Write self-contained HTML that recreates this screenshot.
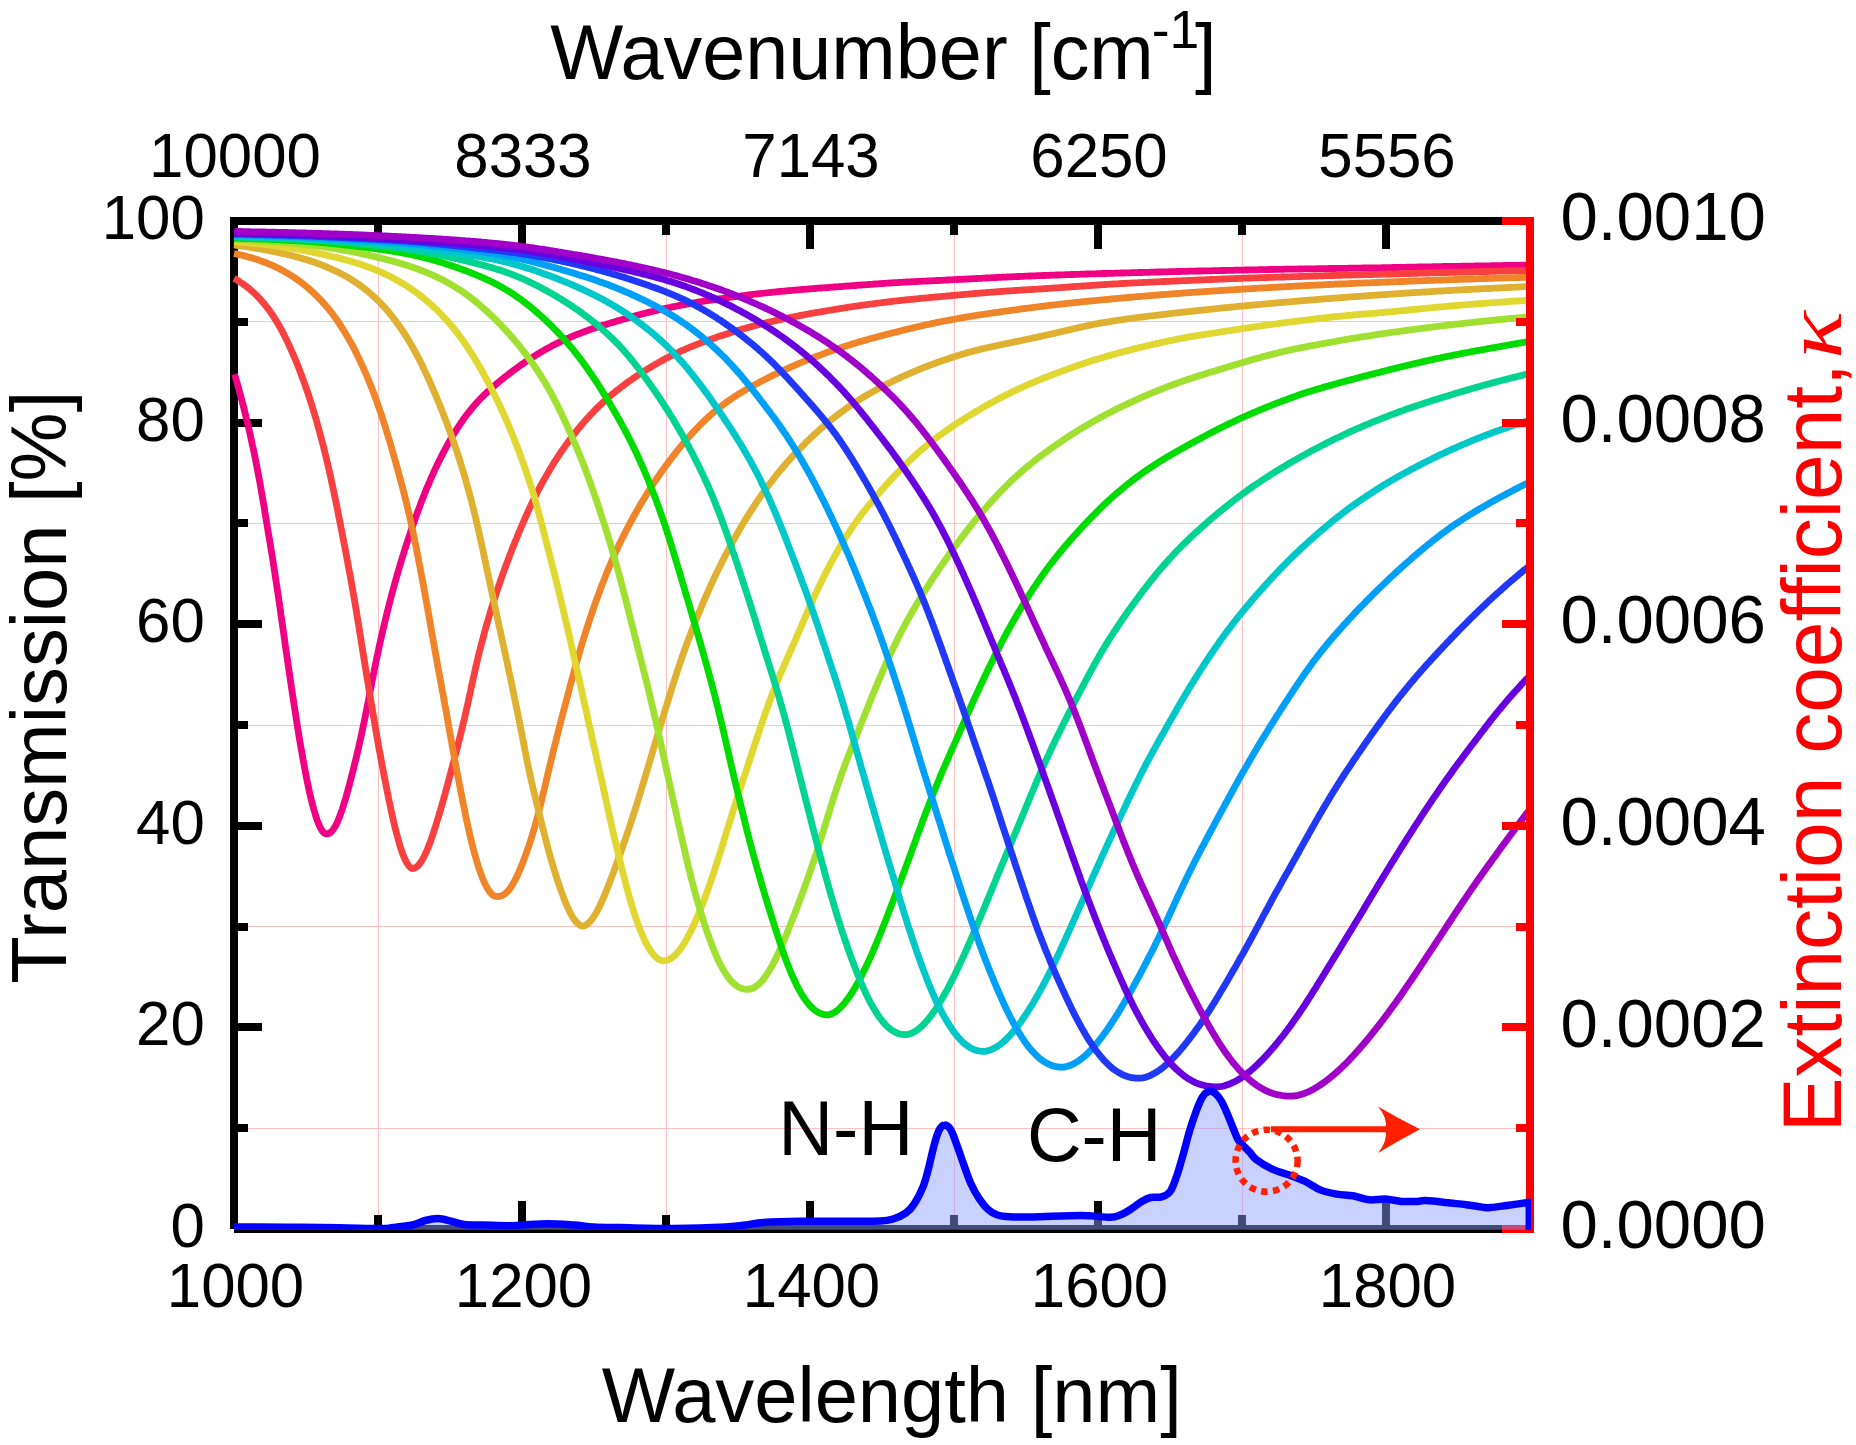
<!DOCTYPE html><html><head><meta charset="utf-8"><style>html,body{margin:0;padding:0;background:#fff;}svg{display:block;}</style></head><body>
<svg xmlns="http://www.w3.org/2000/svg" width="1856" height="1445" viewBox="0 0 1856 1445" font-family="Liberation Sans, Arial, sans-serif">
<rect width="1856" height="1445" fill="#fff"/>
<path d="M378.0,225 V1225 M666.0,225 V1225 M954.0,225 V1225 M1242.0,225 V1225 M238,1128.2 H1526 M238,926.6 H1526 M238,725.0 H1526 M238,523.4 H1526 M238,321.8 H1526" stroke="#ffc0c0" stroke-width="1" fill="none" shape-rendering="crispEdges"/>
<path d="M234,217 V1229 M234,221 H1530 M234,1229 H1530" stroke="#000" stroke-width="8" fill="none" shape-rendering="crispEdges"/>
<path d="M378.0,1229 V1215 M378.0,221 V235 M522.0,1229 V1201 M522.0,221 V249 M666.0,1229 V1215 M666.0,221 V235 M810.0,1229 V1201 M810.0,221 V249 M954.0,1229 V1215 M954.0,221 V235 M1098.0,1229 V1201 M1098.0,221 V249 M1242.0,1229 V1215 M1242.0,221 V235 M1386.0,1229 V1201 M1386.0,221 V249 M234,1128.2 H248 M234,1027.4 H262 M234,926.6 H248 M234,825.8 H262 M234,725.0 H248 M234,624.2 H262 M234,523.4 H248 M234,422.6 H262 M234,321.8 H248" stroke="#000" stroke-width="8" fill="none" shape-rendering="crispEdges"/>
<polyline points="234.5,374.3 235.0,375.9 235.5,377.5 236.0,379.2 236.5,380.9 237.0,382.5 237.5,384.2 237.9,386.0 238.4,387.7 238.9,389.5 239.4,391.3 239.9,393.1 240.4,394.9 240.9,396.8 241.4,398.7 241.9,400.5 242.4,402.5 242.9,404.4 243.4,406.4 243.9,408.3 244.4,410.4 244.9,412.4 245.4,414.4 245.9,416.5 246.4,418.6 246.9,420.7 247.4,422.8 247.9,425.0 248.5,427.2 249.0,429.4 249.5,431.6 250.0,433.9 250.5,436.2 251.0,438.5 251.5,440.8 252.0,443.1 252.5,445.5 253.1,447.9 253.6,450.3 254.1,452.7 254.6,455.2 255.1,457.7 255.6,460.2 256.1,462.7 256.6,465.3 257.1,467.9 257.6,470.5 258.1,473.1 258.6,475.8 259.1,478.4 259.6,481.1 260.1,483.8 260.6,486.6 261.1,489.4 261.5,492.1 262.0,494.9 262.5,497.8 263.0,500.6 263.5,503.5 264.0,506.4 264.5,509.3 264.9,512.3 265.4,515.2 265.9,518.2 266.4,521.2 266.9,524.2 267.4,527.2 267.9,530.3 268.4,533.4 269.0,536.5 269.5,539.6 270.0,542.7 270.5,545.8 271.0,549.0 271.5,552.2 272.1,555.4 272.6,558.6 273.1,561.8 273.6,565.0 274.1,568.3 274.6,571.6 275.1,574.9 275.6,578.2 276.1,581.5 276.6,584.8 277.1,588.1 277.6,591.5 278.1,594.8 278.6,598.2 279.1,601.6 279.6,605.0 280.1,608.4 280.6,611.8 281.0,615.2 281.5,618.6 282.0,622.0 282.5,625.4 283.0,628.9 283.5,632.3 284.0,635.7 284.5,639.2 284.9,642.6 285.4,646.0 285.9,649.5 286.4,652.9 286.9,656.3 287.4,659.7 287.9,663.2 288.4,666.6 288.9,670.0 289.4,673.4 289.9,676.8 290.4,680.2 290.9,683.5 291.4,686.9 291.9,690.3 292.4,693.6 292.9,696.9 293.4,700.2 293.9,703.5 294.4,706.8 294.9,710.1 295.4,713.3 295.9,716.5 296.4,719.7 296.9,722.9 297.4,726.1 297.9,729.2 298.4,732.3 298.9,735.4 299.4,738.5 299.9,741.5 300.4,744.5 300.9,747.4 301.5,750.4 302.0,753.3 302.5,756.1 303.0,759.0 303.5,761.8 304.0,764.5 304.5,767.3 305.0,769.9 305.5,772.6 306.0,775.2 306.5,777.8 307.0,780.3 307.5,782.7 308.0,785.2 308.5,787.6 309.0,789.9 309.5,792.2 310.0,794.4 310.5,796.6 311.0,798.7 311.5,800.8 312.0,802.8 312.5,804.8 313.1,806.7 313.6,808.6 314.1,810.4 314.6,812.1 315.1,813.8 315.6,815.4 316.1,817.0 316.6,818.5 317.1,819.9 318.1,822.6 319.1,825.0 320.1,827.2 321.1,829.0 322.1,830.6 323.1,831.9 324.6,833.3 326.0,833.9 328.0,833.8 329.4,833.1 330.9,832.1 332.4,830.5 333.4,829.2 334.4,827.7 335.4,826.0 336.4,824.2 337.4,822.1 338.3,819.8 339.3,817.4 340.3,814.8 341.3,812.0 341.8,810.5 342.3,809.1 342.8,807.5 343.3,805.9 343.8,804.3 344.3,802.7 344.9,801.0 345.4,799.3 345.9,797.5 346.4,795.8 346.9,793.9 347.4,792.1 347.9,790.2 348.4,788.3 348.9,786.4 349.5,784.4 350.0,782.4 350.5,780.4 351.0,778.4 351.6,776.3 352.1,774.3 352.6,772.2 353.2,770.0 353.7,767.9 354.2,765.7 354.8,763.5 355.3,761.3 355.8,759.1 356.4,756.9 356.9,754.7 357.4,752.4 358.0,750.1 358.5,747.8 359.0,745.5 359.5,743.2 360.1,740.9 360.6,738.6 361.1,736.2 361.6,733.9 362.1,731.5 362.6,729.2 363.1,726.8 363.6,724.4 364.1,722.1 364.6,719.7 365.1,717.3 365.5,714.9 366.0,712.5 366.5,710.1 367.0,707.7 367.4,705.3 367.9,702.9 368.4,700.6 368.8,698.2 369.3,695.8 369.7,693.4 370.2,691.0 370.7,688.6 371.1,686.3 371.6,683.9 372.0,681.5 372.5,679.2 373.0,676.8 373.4,674.5 373.9,672.1 374.3,669.8 374.8,667.5 375.3,665.2 375.8,662.8 376.2,660.5 376.7,658.3 377.2,656.0 377.7,653.7 378.2,651.4 378.7,649.2 379.1,646.9 379.6,644.7 380.1,642.5 380.6,640.3 381.1,638.1 381.6,635.9 382.1,633.7 382.6,631.5 383.1,629.4 383.6,627.2 384.1,625.1 384.6,623.0 385.1,620.9 385.6,618.8 386.1,616.7 386.6,614.6 387.1,612.6 387.7,610.5 388.2,608.5 388.7,606.4 389.2,604.4 389.7,602.4 390.2,600.4 390.7,598.5 391.2,596.5 391.7,594.6 392.3,592.6 392.8,590.7 393.3,588.8 393.8,586.9 394.3,585.0 394.8,583.1 395.4,581.3 395.9,579.4 396.4,577.6 396.9,575.8 397.4,574.0 398.0,572.2 398.5,570.4 399.0,568.6 399.5,566.8 400.0,565.1 400.6,563.4 401.1,561.6 401.6,559.9 402.1,558.2 402.6,556.5 403.2,554.9 403.7,553.2 404.2,551.6 404.7,549.9 405.2,548.3 405.8,546.7 406.3,545.1 406.8,543.5 407.3,541.9 407.8,540.3 408.3,538.8 408.8,537.2 409.3,535.7 409.9,534.2 410.4,532.6 410.9,531.1 411.4,529.7 411.9,528.2 412.4,526.7 412.9,525.2 413.4,523.8 413.9,522.4 414.4,520.9 414.9,519.5 415.9,516.7 416.9,513.9 417.9,511.2 418.9,508.5 419.9,505.9 420.8,503.3 421.8,500.7 422.8,498.2 423.8,495.7 424.8,493.2 425.7,490.8 426.7,488.4 427.7,486.1 428.7,483.8 429.7,481.5 430.6,479.2 431.6,477.0 432.6,474.8 433.6,472.7 434.5,470.5 435.5,468.4 436.5,466.4 437.4,464.3 438.4,462.3 439.4,460.4 440.4,458.4 441.3,456.5 442.3,454.6 443.3,452.7 444.2,450.9 445.2,449.1 446.2,447.3 447.1,445.5 448.1,443.7 449.1,442.0 450.0,440.3 451.0,438.7 452.0,437.0 452.9,435.4 453.9,433.8 454.9,432.2 455.9,430.6 456.8,429.1 457.8,427.6 458.8,426.1 459.8,424.6 460.8,423.1 461.8,421.7 462.7,420.3 463.7,418.9 464.7,417.5 465.7,416.2 466.7,414.8 467.7,413.5 468.7,412.2 469.7,411.0 470.8,409.7 471.8,408.5 472.8,407.3 473.8,406.1 474.8,404.9 475.9,403.7 476.9,402.6 477.9,401.4 479.0,400.3 480.0,399.2 481.6,397.6 483.1,396.1 484.7,394.5 486.3,393.0 487.8,391.5 489.4,390.1 491.0,388.7 492.5,387.3 494.1,386.0 495.7,384.6 497.2,383.3 498.8,382.0 500.3,380.7 501.8,379.5 503.4,378.3 504.9,377.0 506.4,375.8 508.0,374.7 509.5,373.5 511.0,372.3 512.5,371.2 514.0,370.1 515.5,369.0 517.0,367.9 518.5,366.8 520.0,365.7 521.5,364.7 523.0,363.7 524.5,362.6 525.9,361.6 527.4,360.6 528.9,359.6 530.4,358.7 531.9,357.7 533.4,356.8 534.8,355.8 536.3,354.9 537.8,354.0 539.3,353.1 540.8,352.2 542.2,351.3 543.7,350.5 545.2,349.6 546.7,348.8 548.2,348.0 549.7,347.2 551.1,346.4 552.6,345.6 554.1,344.8 555.6,344.1 557.1,343.3 558.6,342.6 560.1,341.9 561.6,341.1 563.1,340.4 564.6,339.8 566.1,339.1 567.6,338.4 569.1,337.8 570.6,337.1 572.1,336.5 573.6,335.9 575.1,335.2 576.6,334.6 578.1,334.0 579.6,333.5 581.1,332.9 582.6,332.3 584.1,331.8 585.6,331.2 587.1,330.7 588.6,330.1 590.1,329.6 591.6,329.1 593.1,328.6 594.6,328.1 596.1,327.6 597.6,327.1 599.1,326.6 600.6,326.1 602.1,325.6 603.6,325.1 605.1,324.7 606.6,324.2 608.1,323.7 609.6,323.3 611.1,322.8 612.6,322.4 614.1,321.9 615.6,321.5 617.1,321.0 618.6,320.6 620.1,320.2 621.6,319.7 623.1,319.3 624.6,318.9 626.1,318.4 627.6,318.0 629.1,317.6 630.6,317.2 632.1,316.7 633.6,316.3 635.1,315.9 636.5,315.5 638.0,315.1 639.5,314.7 641.0,314.3 642.5,313.9 644.0,313.5 645.5,313.2 647.0,312.8 648.5,312.4 650.0,312.0 651.5,311.7 653.0,311.3 654.5,310.9 656.0,310.6 657.5,310.2 658.9,309.9 660.4,309.5 661.9,309.2 663.4,308.9 664.9,308.5 666.4,308.2 667.9,307.9 669.4,307.6 670.9,307.3 672.4,306.9 673.9,306.6 675.4,306.3 676.9,306.0 678.4,305.7 679.9,305.4 681.4,305.2 682.9,304.9 684.4,304.6 685.9,304.3 687.4,304.0 688.9,303.8 690.4,303.5 691.9,303.2 693.4,303.0 694.9,302.7 696.4,302.5 697.9,302.2 699.4,301.9 700.9,301.7 702.4,301.5 703.9,301.2 705.4,301.0 706.9,300.7 708.4,300.5 709.9,300.3 711.4,300.0 712.9,299.8 714.4,299.6 715.9,299.4 717.4,299.1 718.9,298.9 720.4,298.7 721.9,298.5 723.4,298.3 724.9,298.1 726.4,297.9 727.9,297.7 729.4,297.4 730.9,297.2 732.4,297.0 733.9,296.8 735.4,296.6 736.9,296.4 738.4,296.3 739.9,296.1 741.4,295.9 742.9,295.7 744.4,295.5 745.9,295.3 747.4,295.1 748.9,294.9 750.4,294.7 751.9,294.6 753.4,294.4 754.9,294.2 756.4,294.0 757.9,293.9 759.4,293.7 760.9,293.5 762.4,293.3 763.9,293.2 765.4,293.0 766.9,292.8 768.4,292.7 770.0,292.5 771.5,292.4 773.0,292.2 774.5,292.1 776.0,291.9 777.5,291.7 779.0,291.6 780.5,291.4 782.0,291.3 783.5,291.2 785.0,291.0 786.5,290.9 788.0,290.7 789.5,290.6 791.0,290.5 792.5,290.3 794.0,290.2 795.5,290.1 797.0,289.9 798.5,289.8 800.0,289.7 801.5,289.5 803.0,289.4 804.5,289.3 806.0,289.2 807.5,289.1 809.0,288.9 810.5,288.8 812.0,288.7 813.5,288.6 815.0,288.5 816.5,288.4 818.0,288.2 819.5,288.1 821.0,288.0 822.5,287.9 824.0,287.8 825.5,287.7 827.0,287.6 828.5,287.5 830.0,287.3 831.5,287.2 833.0,287.1 834.5,287.0 836.0,286.9 837.5,286.8 839.0,286.7 840.5,286.6 842.0,286.5 843.5,286.3 845.0,286.2 846.5,286.1 848.0,286.0 849.5,285.9 851.0,285.8 852.5,285.7 854.0,285.6 855.5,285.5 857.0,285.4 858.5,285.2 860.0,285.1 861.5,285.0 863.0,284.9 864.5,284.8 866.0,284.7 867.5,284.6 869.0,284.5 870.5,284.4 872.0,284.3 873.5,284.1 875.0,284.0 876.5,283.9 878.0,283.8 879.5,283.7 881.0,283.6 882.5,283.5 884.0,283.4 885.5,283.3 887.0,283.2 888.5,283.1 890.0,283.0 891.5,282.9 893.0,282.8 894.5,282.7 896.0,282.6 897.5,282.6 899.0,282.5 900.5,282.4 902.0,282.3 903.5,282.2 905.0,282.1 906.5,282.0 908.0,282.0 909.5,281.9 911.0,281.8 912.5,281.7 914.0,281.7 915.5,281.6 917.0,281.5 918.5,281.4 920.0,281.4 921.5,281.3 923.0,281.2 924.5,281.1 926.0,281.1 927.5,281.0 929.0,280.9 930.5,280.8 932.0,280.8 933.5,280.7 935.0,280.6 936.5,280.5 938.0,280.5 939.5,280.4 941.0,280.3 942.5,280.3 944.0,280.2 945.5,280.1 947.0,280.0 948.5,280.0 950.0,279.9 951.5,279.8 953.0,279.7 954.5,279.7 956.0,279.6 957.5,279.5 959.0,279.4 960.5,279.4 962.0,279.3 963.5,279.2 965.0,279.1 966.5,279.1 968.0,279.0 969.5,278.9 971.0,278.8 972.5,278.7 974.0,278.7 975.5,278.6 977.0,278.5 978.5,278.4 980.0,278.4 981.5,278.3 983.0,278.2 984.5,278.1 986.0,278.0 987.5,278.0 989.0,277.9 990.5,277.8 992.0,277.7 993.5,277.7 995.0,277.6 996.5,277.5 998.0,277.4 999.5,277.4 1001.0,277.3 1002.5,277.2 1004.0,277.1 1005.5,277.1 1007.0,277.0 1008.5,276.9 1010.0,276.8 1011.5,276.8 1013.0,276.7 1014.5,276.6 1016.0,276.6 1017.5,276.5 1019.0,276.5 1020.5,276.4 1022.0,276.3 1023.5,276.3 1025.0,276.2 1026.5,276.1 1028.0,276.1 1029.5,276.0 1031.0,276.0 1032.5,275.9 1034.0,275.8 1035.5,275.8 1037.0,275.7 1038.5,275.7 1040.0,275.6 1041.5,275.6 1043.0,275.5 1044.5,275.5 1046.0,275.4 1047.5,275.3 1049.0,275.3 1050.5,275.2 1052.0,275.2 1053.5,275.1 1055.0,275.1 1056.5,275.0 1058.0,275.0 1059.5,274.9 1061.0,274.9 1062.5,274.8 1064.0,274.8 1065.5,274.7 1067.0,274.7 1068.5,274.6 1070.0,274.6 1071.5,274.5 1073.0,274.5 1074.5,274.4 1076.0,274.4 1077.5,274.3 1079.0,274.3 1080.5,274.2 1082.0,274.2 1083.5,274.1 1085.0,274.1 1086.5,274.0 1088.0,274.0 1089.5,273.9 1091.0,273.9 1092.5,273.9 1094.0,273.8 1095.5,273.8 1097.0,273.7 1098.5,273.7 1100.0,273.6 1101.5,273.6 1103.0,273.5 1104.5,273.5 1106.0,273.5 1107.5,273.4 1109.0,273.4 1110.5,273.3 1112.0,273.3 1113.5,273.3 1115.0,273.2 1116.5,273.2 1118.0,273.1 1119.5,273.1 1121.0,273.0 1122.5,273.0 1124.0,273.0 1125.5,272.9 1127.0,272.9 1128.5,272.8 1130.0,272.8 1131.5,272.7 1133.0,272.7 1134.5,272.7 1136.0,272.6 1137.5,272.6 1139.0,272.5 1140.5,272.5 1142.0,272.5 1143.5,272.4 1145.0,272.4 1146.5,272.3 1148.0,272.3 1149.5,272.3 1151.0,272.2 1152.5,272.2 1154.0,272.1 1155.5,272.1 1157.0,272.0 1158.5,272.0 1160.0,272.0 1161.5,271.9 1163.0,271.9 1164.5,271.8 1166.0,271.8 1167.5,271.8 1169.0,271.7 1170.5,271.7 1172.0,271.6 1173.5,271.6 1175.0,271.6 1176.5,271.5 1178.0,271.5 1179.5,271.5 1181.0,271.4 1182.5,271.4 1184.0,271.4 1185.5,271.3 1187.0,271.3 1188.5,271.2 1190.0,271.2 1191.5,271.2 1193.0,271.1 1194.5,271.1 1196.0,271.1 1197.5,271.0 1199.0,271.0 1200.5,271.0 1202.0,270.9 1203.5,270.9 1205.0,270.9 1206.5,270.8 1208.0,270.8 1209.5,270.8 1211.0,270.8 1212.5,270.7 1214.0,270.7 1215.5,270.7 1217.0,270.6 1218.5,270.6 1220.0,270.6 1221.5,270.5 1223.0,270.5 1224.5,270.5 1226.0,270.4 1227.5,270.4 1229.0,270.4 1230.5,270.3 1232.0,270.3 1233.5,270.3 1235.0,270.2 1236.5,270.2 1238.0,270.2 1239.5,270.2 1241.0,270.1 1242.5,270.1 1244.0,270.1 1245.5,270.0 1247.0,270.0 1248.5,270.0 1250.0,269.9 1251.5,269.9 1253.0,269.9 1254.5,269.8 1256.0,269.8 1257.5,269.8 1259.0,269.7 1260.5,269.7 1262.0,269.7 1263.5,269.6 1265.0,269.6 1266.5,269.6 1268.0,269.6 1269.5,269.5 1271.0,269.5 1272.5,269.5 1274.0,269.4 1275.5,269.4 1277.0,269.4 1278.5,269.4 1280.0,269.3 1281.5,269.3 1283.0,269.3 1284.5,269.2 1286.0,269.2 1287.5,269.2 1289.0,269.2 1290.5,269.1 1292.0,269.1 1293.5,269.1 1295.0,269.1 1296.5,269.1 1298.0,269.0 1299.5,269.0 1301.0,269.0 1302.5,269.0 1304.0,268.9 1305.5,268.9 1307.0,268.9 1308.5,268.9 1310.0,268.8 1311.5,268.8 1313.0,268.8 1314.5,268.8 1316.0,268.8 1317.5,268.7 1319.0,268.7 1320.5,268.7 1322.0,268.7 1323.5,268.6 1325.0,268.6 1326.5,268.6 1328.0,268.6 1329.5,268.5 1331.0,268.5 1332.5,268.5 1334.0,268.5 1335.5,268.5 1337.0,268.4 1338.5,268.4 1340.0,268.4 1341.5,268.4 1343.0,268.3 1344.5,268.3 1346.0,268.3 1347.5,268.3 1349.0,268.2 1350.5,268.2 1352.0,268.2 1353.5,268.2 1355.0,268.2 1356.5,268.1 1358.0,268.1 1359.5,268.1 1361.0,268.1 1362.5,268.0 1364.0,268.0 1365.5,268.0 1367.0,268.0 1368.5,268.0 1370.0,267.9 1371.5,267.9 1373.0,267.9 1374.5,267.9 1376.0,267.8 1377.5,267.8 1379.0,267.8 1380.5,267.8 1382.0,267.7 1383.5,267.7 1385.0,267.7 1386.5,267.7 1388.0,267.6 1389.5,267.6 1391.0,267.6 1392.5,267.5 1394.0,267.5 1395.5,267.5 1397.0,267.5 1398.5,267.4 1400.0,267.4 1401.5,267.4 1403.0,267.3 1404.5,267.3 1406.0,267.3 1407.5,267.2 1409.0,267.2 1410.5,267.2 1412.0,267.1 1413.5,267.1 1415.0,267.1 1416.5,267.1 1418.0,267.0 1419.5,267.0 1421.0,267.0 1422.5,266.9 1424.0,266.9 1425.5,266.9 1427.0,266.8 1428.5,266.8 1430.0,266.8 1431.5,266.8 1433.0,266.7 1434.5,266.7 1436.0,266.7 1437.5,266.6 1439.0,266.6 1440.5,266.6 1442.0,266.6 1443.5,266.5 1445.0,266.5 1446.5,266.5 1448.0,266.5 1449.5,266.4 1451.0,266.4 1452.5,266.4 1454.0,266.4 1455.5,266.3 1457.0,266.3 1458.5,266.3 1460.0,266.3 1461.5,266.2 1463.0,266.2 1464.5,266.2 1466.0,266.2 1467.5,266.2 1469.0,266.1 1470.5,266.1 1472.0,266.1 1473.5,266.1 1475.0,266.0 1476.5,266.0 1478.0,266.0 1479.5,266.0 1481.0,265.9 1482.5,265.9 1484.0,265.9 1485.5,265.9 1487.0,265.8 1488.5,265.8 1490.0,265.8 1491.5,265.7 1493.0,265.7 1494.5,265.7 1496.0,265.7 1497.5,265.6 1499.0,265.6 1500.5,265.6 1502.0,265.6 1503.5,265.5 1505.0,265.5 1506.5,265.5 1508.0,265.4 1509.5,265.4 1511.0,265.4 1512.5,265.4 1514.0,265.4 1515.5,265.3 1517.0,265.3 1518.5,265.3 1520.0,265.3 1521.5,265.2 1523.0,265.2 1524.5,265.2 1526.0,265.2 1527.5,265.2 1529.0,265.2 1530.5,265.1 1531.0,265.1" stroke="#f00082" stroke-width="6.8" fill="none" stroke-linejoin="round"/>
<polyline points="234.0,278.4 235.6,279.2 237.1,280.1 238.6,281.0 240.1,282.0 241.6,283.0 243.1,284.1 244.6,285.1 246.1,286.3 247.6,287.4 249.2,288.7 250.7,289.9 252.2,291.3 253.7,292.6 255.2,294.1 256.7,295.5 258.2,297.1 259.7,298.7 261.2,300.3 262.2,301.5 263.2,302.6 264.2,303.8 265.2,305.0 266.2,306.3 267.2,307.6 268.2,308.9 269.2,310.2 270.2,311.6 271.2,313.0 272.2,314.5 273.2,316.0 274.1,317.5 275.1,319.0 276.1,320.6 277.1,322.2 278.1,323.9 279.0,325.5 280.0,327.3 281.0,329.0 282.0,330.8 282.9,332.7 283.9,334.6 284.9,336.5 285.8,338.4 286.8,340.4 287.8,342.5 288.8,344.6 289.7,346.7 290.7,348.9 291.7,351.1 292.7,353.3 293.7,355.6 294.7,358.0 295.7,360.4 296.7,362.8 297.7,365.3 298.7,367.9 299.7,370.5 300.7,373.1 301.7,375.8 302.7,378.5 303.8,381.3 304.3,382.8 304.8,384.2 305.3,385.6 305.8,387.1 306.3,388.6 306.8,390.1 307.3,391.6 307.9,393.1 308.4,394.6 308.9,396.2 309.4,397.7 309.9,399.3 310.4,400.9 310.9,402.5 311.5,404.1 312.0,405.8 312.5,407.4 313.0,409.1 313.5,410.8 314.0,412.4 314.5,414.2 315.0,415.9 315.6,417.6 316.1,419.4 316.6,421.2 317.1,422.9 317.6,424.7 318.1,426.6 318.6,428.4 319.1,430.2 319.6,432.1 320.1,434.0 320.6,435.9 321.1,437.8 321.7,439.7 322.2,441.7 322.7,443.6 323.2,445.6 323.7,447.6 324.2,449.6 324.7,451.7 325.2,453.7 325.7,455.8 326.2,457.8 326.7,459.9 327.2,462.0 327.7,464.2 328.2,466.3 328.7,468.5 329.2,470.6 329.7,472.8 330.2,475.0 330.7,477.2 331.2,479.5 331.6,481.7 332.1,484.0 332.6,486.3 333.1,488.6 333.6,490.9 334.1,493.3 334.6,495.6 335.1,498.0 335.6,500.4 336.1,502.7 336.6,505.2 337.1,507.6 337.6,510.0 338.1,512.5 338.5,515.0 339.0,517.5 339.5,520.0 340.0,522.5 340.5,525.0 341.0,527.6 341.5,530.1 342.0,532.7 342.5,535.3 343.0,537.9 343.5,540.5 344.0,543.2 344.6,545.8 345.1,548.5 345.6,551.2 346.1,553.8 346.6,556.5 347.1,559.3 347.6,562.0 348.1,564.7 348.6,567.5 349.1,570.3 349.6,573.0 350.2,575.8 350.7,578.6 351.2,581.4 351.7,584.3 352.2,587.1 352.7,590.0 353.2,592.8 353.7,595.7 354.2,598.6 354.7,601.5 355.2,604.4 355.7,607.3 356.2,610.2 356.7,613.1 357.1,616.1 357.6,619.0 358.1,622.0 358.6,624.9 359.1,627.9 359.5,630.9 360.0,633.9 360.5,636.9 361.0,639.8 361.4,642.8 361.9,645.8 362.4,648.9 362.9,651.9 363.4,654.9 363.8,657.9 364.3,660.9 364.8,663.9 365.3,667.0 365.8,670.0 366.3,673.0 366.8,676.0 367.3,679.1 367.8,682.1 368.3,685.1 368.8,688.1 369.3,691.2 369.8,694.2 370.3,697.2 370.8,700.2 371.3,703.2 371.8,706.2 372.3,709.2 372.8,712.2 373.3,715.2 373.8,718.1 374.3,721.1 374.8,724.1 375.3,727.0 375.8,730.0 376.3,732.9 376.8,735.8 377.3,738.7 377.8,741.6 378.3,744.5 378.8,747.3 379.3,750.2 379.9,753.0 380.4,755.9 380.9,758.7 381.4,761.4 381.9,764.2 382.5,767.0 383.0,769.7 383.5,772.4 384.0,775.1 384.5,777.8 385.1,780.4 385.6,783.0 386.1,785.7 386.6,788.2 387.1,790.8 387.6,793.3 388.1,795.8 388.6,798.3 389.1,800.7 389.7,803.2 390.2,805.6 390.7,807.9 391.1,810.2 391.6,812.5 392.1,814.8 392.6,817.0 393.1,819.2 393.6,821.4 394.1,823.5 394.6,825.6 395.1,827.7 395.6,829.7 396.1,831.7 396.6,833.6 397.1,835.5 397.6,837.3 398.1,839.1 398.6,840.9 399.1,842.6 399.5,844.3 400.0,845.9 400.5,847.5 401.0,849.0 401.5,850.5 402.0,852.0 403.0,854.7 404.0,857.2 405.0,859.5 406.1,861.5 407.1,863.3 408.1,864.9 409.1,866.2 410.6,867.7 412.0,868.5 414.0,868.4 415.4,867.7 416.9,866.7 418.4,865.3 419.4,864.1 420.4,862.8 421.4,861.3 422.4,859.7 423.3,858.0 424.3,856.1 425.3,854.0 426.3,851.8 427.3,849.5 428.3,847.1 429.3,844.5 430.3,841.9 431.3,839.1 431.8,837.7 432.3,836.2 432.8,834.8 433.3,833.2 433.8,831.7 434.3,830.2 434.8,828.6 435.3,827.0 435.8,825.4 436.3,823.8 436.8,822.1 437.3,820.4 437.9,818.7 438.4,817.0 438.9,815.3 439.4,813.5 439.9,811.8 440.5,810.0 441.0,808.2 441.5,806.4 442.0,804.5 442.6,802.7 443.1,800.8 443.6,799.0 444.1,797.1 444.7,795.2 445.2,793.3 445.7,791.3 446.2,789.4 446.8,787.5 447.3,785.5 447.8,783.6 448.4,781.6 448.9,779.6 449.4,777.6 450.0,775.6 450.5,773.6 451.0,771.6 451.6,769.6 452.1,767.6 452.6,765.6 453.2,763.5 453.7,761.5 454.2,759.5 454.8,757.4 455.3,755.4 455.8,753.3 456.3,751.3 456.9,749.2 457.4,747.2 457.9,745.1 458.5,743.0 459.0,741.0 459.5,738.9 460.0,736.8 460.5,734.8 461.0,732.7 461.5,730.6 462.0,728.6 462.5,726.5 463.0,724.4 463.5,722.4 464.0,720.3 464.5,718.3 464.9,716.2 465.4,714.1 465.9,712.1 466.3,710.0 466.8,708.0 467.3,705.9 467.7,703.9 468.2,701.8 468.6,699.8 469.1,697.8 469.5,695.7 469.9,693.7 470.4,691.7 470.8,689.7 471.2,687.6 471.7,685.6 472.1,683.6 472.5,681.6 473.0,679.7 473.4,677.7 473.8,675.7 474.3,673.7 474.7,671.8 475.2,669.8 475.6,667.9 476.0,665.9 476.5,664.0 476.9,662.0 477.4,660.1 477.9,658.2 478.3,656.3 478.8,654.4 479.2,652.5 479.7,650.7 480.2,648.8 480.7,646.9 481.1,645.1 481.6,643.2 482.1,641.4 482.6,639.6 483.1,637.8 483.6,636.0 484.0,634.2 484.5,632.4 485.0,630.6 485.5,628.8 486.0,627.0 486.5,625.3 487.0,623.5 487.5,621.8 488.0,620.1 488.5,618.3 489.0,616.6 489.5,614.9 490.0,613.2 490.5,611.6 491.0,609.9 491.6,608.2 492.1,606.5 492.6,604.9 493.1,603.3 493.6,601.6 494.1,600.0 494.6,598.4 495.1,596.8 495.7,595.2 496.2,593.6 496.7,592.0 497.2,590.5 497.7,588.9 498.2,587.3 498.8,585.8 499.3,584.3 499.8,582.7 500.3,581.2 500.8,579.7 501.4,578.2 501.9,576.7 502.4,575.3 502.9,573.8 503.5,572.3 504.0,570.9 504.5,569.4 505.0,568.0 505.6,566.6 506.1,565.1 506.6,563.7 507.7,560.9 508.7,558.2 509.7,555.4 510.8,552.7 511.8,550.1 512.9,547.4 513.9,544.8 514.9,542.2 516.0,539.7 517.0,537.2 518.0,534.7 519.1,532.2 520.1,529.8 521.1,527.4 522.1,525.0 523.1,522.7 524.1,520.3 525.1,518.1 526.1,515.8 527.1,513.6 528.1,511.3 529.1,509.2 530.1,507.0 531.1,504.9 532.1,502.8 533.1,500.7 534.1,498.6 535.1,496.6 536.1,494.6 537.1,492.6 538.1,490.7 539.1,488.7 540.1,486.8 541.1,484.9 542.1,483.1 543.1,481.2 544.2,479.4 545.2,477.6 546.2,475.9 547.2,474.1 548.2,472.4 549.2,470.7 550.2,469.0 551.2,467.3 552.2,465.7 553.2,464.0 554.2,462.4 555.2,460.8 556.2,459.3 557.2,457.7 558.3,456.2 559.3,454.7 560.3,453.2 561.3,451.7 562.3,450.2 563.3,448.8 564.3,447.4 565.3,445.9 566.3,444.5 567.3,443.2 568.3,441.8 569.3,440.4 570.3,439.1 571.3,437.8 572.3,436.5 573.3,435.2 574.3,433.9 575.3,432.6 576.2,431.4 577.2,430.1 578.2,428.9 579.2,427.7 580.2,426.5 581.2,425.3 582.2,424.1 583.2,423.0 584.2,421.8 585.2,420.7 586.7,419.0 588.2,417.4 589.7,415.7 591.1,414.1 592.6,412.6 594.1,411.0 595.6,409.5 597.1,408.0 598.6,406.5 600.1,405.1 601.6,403.7 603.1,402.3 604.6,400.9 606.1,399.5 607.6,398.2 609.1,396.9 610.6,395.6 612.1,394.3 613.7,393.1 615.2,391.9 616.7,390.6 618.2,389.5 619.7,388.3 621.2,387.1 622.7,386.0 624.2,384.9 625.7,383.7 627.2,382.7 628.7,381.6 630.2,380.5 631.7,379.5 633.2,378.4 634.7,377.4 636.2,376.4 637.7,375.4 639.2,374.4 640.7,373.4 642.2,372.5 643.7,371.5 645.1,370.6 646.6,369.6 648.1,368.7 649.6,367.8 651.1,366.9 652.6,366.0 654.1,365.1 655.5,364.2 657.0,363.4 658.5,362.5 660.0,361.7 661.5,360.9 663.0,360.0 664.5,359.2 665.9,358.4 667.4,357.7 668.9,356.9 670.4,356.1 671.9,355.4 673.4,354.6 674.9,353.9 676.4,353.2 677.9,352.5 679.4,351.8 680.9,351.1 682.4,350.4 683.9,349.8 685.4,349.1 686.9,348.5 688.4,347.8 689.9,347.2 691.4,346.6 692.9,346.0 694.4,345.4 695.9,344.8 697.4,344.2 698.9,343.6 700.4,343.0 701.9,342.5 703.4,341.9 704.9,341.4 706.5,340.8 708.0,340.3 709.5,339.8 711.0,339.2 712.5,338.7 714.0,338.2 715.5,337.7 717.0,337.1 718.5,336.6 720.0,336.1 721.5,335.6 723.0,335.2 724.5,334.7 726.0,334.2 727.5,333.7 729.0,333.2 730.5,332.7 732.0,332.3 733.5,331.8 735.0,331.4 736.5,330.9 738.0,330.4 739.5,330.0 740.9,329.6 742.4,329.1 743.9,328.7 745.4,328.3 746.9,327.8 748.4,327.4 749.9,327.0 751.4,326.6 752.9,326.2 754.4,325.8 755.9,325.4 757.4,325.0 758.9,324.6 760.4,324.2 761.9,323.8 763.4,323.5 764.9,323.1 766.4,322.7 767.9,322.4 769.4,322.0 770.9,321.7 772.4,321.3 773.9,321.0 775.4,320.6 776.9,320.3 778.4,320.0 779.9,319.6 781.4,319.3 783.0,319.0 784.5,318.7 786.0,318.4 787.5,318.1 789.0,317.7 790.5,317.4 792.0,317.1 793.5,316.8 795.0,316.5 796.5,316.2 798.0,316.0 799.5,315.7 801.0,315.4 802.5,315.1 804.0,314.8 805.5,314.5 807.0,314.2 808.5,314.0 810.0,313.7 811.5,313.4 813.0,313.1 814.5,312.9 816.0,312.6 817.5,312.3 819.0,312.1 820.5,311.8 822.0,311.6 823.5,311.3 825.0,311.0 826.5,310.8 828.0,310.5 829.5,310.3 831.0,310.0 832.5,309.8 834.0,309.5 835.5,309.3 837.0,309.1 838.5,308.8 840.0,308.6 841.5,308.3 843.0,308.1 844.5,307.9 846.0,307.6 847.5,307.4 849.0,307.2 850.5,307.0 852.0,306.7 853.5,306.5 855.0,306.3 856.5,306.1 858.0,305.9 859.5,305.6 861.0,305.4 862.5,305.2 864.0,305.0 865.5,304.8 867.0,304.6 868.5,304.4 870.0,304.2 871.5,304.0 873.0,303.8 874.5,303.6 876.0,303.4 877.5,303.2 879.0,303.0 880.5,302.8 882.0,302.6 883.5,302.4 885.0,302.3 886.5,302.1 888.0,301.9 889.5,301.7 891.0,301.5 892.5,301.4 894.0,301.2 895.5,301.0 897.0,300.8 898.5,300.7 900.0,300.5 901.5,300.4 903.0,300.2 904.5,300.0 906.0,299.9 907.5,299.7 909.0,299.6 910.5,299.4 912.0,299.3 913.5,299.1 915.0,299.0 916.5,298.8 918.0,298.7 919.5,298.5 921.0,298.4 922.5,298.2 924.0,298.1 925.5,298.0 927.0,297.8 928.5,297.7 930.0,297.5 931.5,297.4 933.0,297.3 934.5,297.1 936.0,297.0 937.5,296.9 939.0,296.7 940.5,296.6 942.0,296.4 943.5,296.3 945.0,296.2 946.5,296.0 948.0,295.9 949.5,295.8 951.0,295.6 952.5,295.5 954.0,295.4 955.5,295.2 957.0,295.1 958.5,295.0 960.0,294.8 961.5,294.7 963.0,294.6 964.5,294.4 966.0,294.3 967.5,294.2 969.0,294.0 970.5,293.9 972.0,293.8 973.5,293.6 975.0,293.5 976.5,293.4 978.0,293.3 979.5,293.1 981.0,293.0 982.5,292.9 984.0,292.8 985.5,292.7 987.0,292.5 988.5,292.4 990.0,292.3 991.5,292.2 993.0,292.1 994.5,292.0 996.0,291.8 997.5,291.7 999.0,291.6 1000.5,291.5 1002.0,291.4 1003.5,291.3 1005.0,291.2 1006.5,291.1 1008.0,291.0 1009.5,290.9 1011.0,290.8 1012.5,290.7 1014.0,290.6 1015.5,290.5 1017.0,290.4 1018.5,290.3 1020.0,290.2 1021.5,290.1 1023.0,290.0 1024.5,289.9 1026.0,289.8 1027.5,289.7 1029.0,289.7 1030.5,289.6 1032.0,289.5 1033.5,289.4 1035.0,289.3 1036.5,289.2 1038.0,289.1 1039.5,289.0 1041.0,288.9 1042.5,288.8 1044.0,288.7 1045.5,288.6 1047.0,288.5 1048.5,288.4 1050.0,288.3 1051.5,288.2 1053.0,288.1 1054.5,288.0 1056.0,287.9 1057.5,287.8 1059.0,287.7 1060.5,287.6 1062.0,287.5 1063.5,287.4 1065.0,287.3 1066.5,287.2 1068.0,287.1 1069.5,287.0 1071.0,286.9 1072.5,286.7 1074.0,286.6 1075.5,286.5 1077.0,286.4 1078.5,286.3 1080.0,286.2 1081.5,286.1 1083.0,286.0 1084.5,285.9 1086.0,285.8 1087.5,285.7 1089.0,285.6 1090.5,285.5 1092.0,285.4 1093.5,285.3 1095.0,285.2 1096.5,285.1 1098.0,285.0 1099.5,284.9 1101.0,284.8 1102.5,284.7 1104.0,284.6 1105.5,284.5 1107.0,284.4 1108.5,284.3 1110.0,284.2 1111.5,284.1 1113.0,284.0 1114.5,283.9 1116.0,283.9 1117.5,283.8 1119.0,283.7 1120.5,283.6 1122.0,283.5 1123.5,283.5 1125.0,283.4 1126.5,283.3 1128.0,283.2 1129.5,283.1 1131.0,283.1 1132.5,283.0 1134.0,282.9 1135.5,282.8 1137.0,282.8 1138.5,282.7 1140.0,282.6 1141.5,282.6 1143.0,282.5 1144.5,282.4 1146.0,282.3 1147.5,282.3 1149.0,282.2 1150.5,282.1 1152.0,282.1 1153.5,282.0 1155.0,281.9 1156.5,281.9 1158.0,281.8 1159.5,281.7 1161.0,281.7 1162.5,281.6 1164.0,281.5 1165.5,281.5 1167.0,281.4 1168.5,281.3 1170.0,281.3 1171.5,281.2 1173.0,281.1 1174.5,281.1 1176.0,281.0 1177.5,280.9 1179.0,280.9 1180.5,280.8 1182.0,280.7 1183.5,280.7 1185.0,280.6 1186.5,280.6 1188.0,280.5 1189.5,280.4 1191.0,280.4 1192.5,280.3 1194.0,280.2 1195.5,280.2 1197.0,280.1 1198.5,280.0 1200.0,280.0 1201.5,279.9 1203.0,279.8 1204.5,279.8 1206.0,279.7 1207.5,279.6 1209.0,279.6 1210.5,279.5 1212.0,279.5 1213.5,279.4 1215.0,279.3 1216.5,279.3 1218.0,279.2 1219.5,279.2 1221.0,279.1 1222.5,279.0 1224.0,279.0 1225.5,278.9 1227.0,278.9 1228.5,278.8 1230.0,278.7 1231.5,278.7 1233.0,278.6 1234.5,278.6 1236.0,278.5 1237.5,278.5 1239.0,278.4 1240.5,278.4 1242.0,278.3 1243.5,278.2 1245.0,278.2 1246.5,278.1 1248.0,278.1 1249.5,278.0 1251.0,278.0 1252.5,277.9 1254.0,277.9 1255.5,277.8 1257.0,277.8 1258.5,277.7 1260.0,277.7 1261.5,277.6 1263.0,277.6 1264.5,277.6 1266.0,277.5 1267.5,277.5 1269.0,277.4 1270.5,277.4 1272.0,277.3 1273.5,277.3 1275.0,277.2 1276.5,277.2 1278.0,277.1 1279.5,277.1 1281.0,277.1 1282.5,277.0 1284.0,277.0 1285.5,276.9 1287.0,276.9 1288.5,276.8 1290.0,276.8 1291.5,276.7 1293.0,276.7 1294.5,276.6 1296.0,276.6 1297.5,276.6 1299.0,276.5 1300.5,276.5 1302.0,276.4 1303.5,276.4 1305.0,276.3 1306.5,276.3 1308.0,276.2 1309.5,276.2 1311.0,276.1 1312.5,276.1 1314.0,276.0 1315.5,276.0 1317.0,276.0 1318.5,275.9 1320.0,275.9 1321.5,275.8 1323.0,275.8 1324.5,275.7 1326.0,275.7 1327.5,275.6 1329.0,275.6 1330.5,275.6 1332.0,275.5 1333.5,275.5 1335.0,275.4 1336.5,275.4 1338.0,275.3 1339.5,275.3 1341.0,275.3 1342.5,275.2 1344.0,275.2 1345.5,275.1 1347.0,275.1 1348.5,275.1 1350.0,275.0 1351.5,275.0 1353.0,274.9 1354.5,274.9 1356.0,274.9 1357.5,274.8 1359.0,274.8 1360.5,274.8 1362.0,274.7 1363.5,274.7 1365.0,274.6 1366.5,274.6 1368.0,274.6 1369.5,274.5 1371.0,274.5 1372.5,274.5 1374.0,274.4 1375.5,274.4 1377.0,274.3 1378.5,274.3 1380.0,274.3 1381.5,274.2 1383.0,274.2 1384.5,274.2 1386.0,274.1 1387.5,274.1 1389.0,274.0 1390.5,274.0 1392.0,274.0 1393.5,273.9 1395.0,273.9 1396.5,273.8 1398.0,273.8 1399.5,273.8 1401.0,273.7 1402.5,273.7 1404.0,273.6 1405.5,273.6 1407.0,273.5 1408.5,273.5 1410.0,273.5 1411.5,273.4 1413.0,273.4 1414.5,273.3 1416.0,273.3 1417.5,273.3 1419.0,273.2 1420.5,273.2 1422.0,273.1 1423.5,273.1 1425.0,273.0 1426.5,273.0 1428.0,273.0 1429.5,272.9 1431.0,272.9 1432.5,272.8 1434.0,272.8 1435.5,272.8 1437.0,272.7 1438.5,272.7 1440.0,272.6 1441.5,272.6 1443.0,272.6 1444.5,272.5 1446.0,272.5 1447.5,272.5 1449.0,272.4 1450.5,272.4 1452.0,272.3 1453.5,272.3 1455.0,272.3 1456.5,272.2 1458.0,272.2 1459.5,272.1 1461.0,272.1 1462.5,272.1 1464.0,272.0 1465.5,272.0 1467.0,272.0 1468.5,271.9 1470.0,271.9 1471.5,271.9 1473.0,271.8 1474.5,271.8 1476.0,271.7 1477.5,271.7 1479.0,271.7 1480.5,271.6 1482.0,271.6 1483.5,271.6 1485.0,271.5 1486.5,271.5 1488.0,271.5 1489.5,271.4 1491.0,271.4 1492.5,271.3 1494.0,271.3 1495.5,271.3 1497.0,271.2 1498.5,271.2 1500.0,271.2 1501.5,271.1 1503.0,271.1 1504.5,271.1 1506.0,271.0 1507.5,271.0 1509.0,271.0 1510.5,270.9 1512.0,270.9 1513.5,270.9 1515.0,270.8 1516.5,270.8 1518.0,270.8 1519.5,270.7 1521.0,270.7 1522.5,270.7 1524.0,270.6 1525.5,270.6 1527.0,270.6 1528.5,270.5 1530.0,270.5 1531.0,270.5" stroke="#f84040" stroke-width="6.8" fill="none" stroke-linejoin="round"/>
<polyline points="234.0,253.5 235.5,253.8 237.0,254.2 238.5,254.5 240.0,254.8 241.5,255.2 243.0,255.5 244.5,255.9 246.0,256.3 247.5,256.7 249.0,257.1 250.5,257.5 252.0,257.9 253.5,258.4 255.0,258.9 256.5,259.3 258.0,259.8 259.5,260.3 261.0,260.9 262.5,261.4 264.0,262.0 265.5,262.6 267.0,263.1 268.5,263.8 270.0,264.4 271.5,265.0 273.0,265.7 274.5,266.4 276.0,267.1 277.5,267.8 279.0,268.6 280.5,269.4 282.0,270.1 283.5,271.0 285.0,271.8 286.5,272.7 288.0,273.5 289.5,274.5 291.0,275.4 292.5,276.3 294.0,277.3 295.5,278.3 297.0,279.4 298.5,280.4 300.0,281.5 301.5,282.7 303.0,283.8 304.5,285.0 306.0,286.2 307.5,287.5 309.0,288.8 310.5,290.1 312.0,291.4 313.5,292.8 315.0,294.3 316.5,295.7 318.1,297.3 319.6,298.8 321.1,300.4 322.6,302.0 323.6,303.2 324.6,304.3 325.6,305.4 326.6,306.6 327.6,307.8 328.6,309.0 329.6,310.3 330.6,311.5 331.6,312.8 332.6,314.1 333.6,315.5 334.6,316.8 335.6,318.2 336.6,319.6 337.6,321.0 338.6,322.5 339.6,324.0 340.6,325.5 341.5,327.0 342.5,328.6 343.5,330.1 344.5,331.8 345.5,333.4 346.5,335.1 347.5,336.8 348.5,338.5 349.5,340.2 350.5,342.0 351.5,343.8 352.5,345.7 353.5,347.6 354.5,349.5 355.5,351.4 356.5,353.4 357.4,355.4 358.4,357.4 359.4,359.5 360.4,361.6 361.4,363.8 362.4,365.9 363.4,368.2 364.4,370.4 365.4,372.7 366.4,375.0 367.4,377.4 368.4,379.8 369.4,382.3 370.4,384.7 371.4,387.3 372.4,389.8 373.4,392.4 374.4,395.1 375.4,397.8 376.4,400.5 377.4,403.3 378.4,406.2 378.9,407.6 379.4,409.0 379.9,410.5 380.4,412.0 380.9,413.4 381.4,414.9 381.9,416.4 382.4,417.9 382.9,419.5 383.4,421.0 383.9,422.5 384.4,424.1 384.9,425.7 385.4,427.3 385.9,428.9 386.3,430.5 386.8,432.1 387.3,433.7 387.8,435.4 388.3,437.0 388.8,438.7 389.4,440.4 389.9,442.1 390.4,443.8 390.9,445.5 391.4,447.3 391.9,449.0 392.4,450.8 392.9,452.5 393.4,454.3 393.9,456.1 394.4,457.9 394.9,459.7 395.5,461.6 396.0,463.4 396.5,465.3 397.0,467.2 397.5,469.1 398.1,471.0 398.6,472.9 399.1,474.8 399.6,476.7 400.2,478.7 400.7,480.7 401.2,482.6 401.7,484.6 402.3,486.6 402.8,488.7 403.3,490.7 403.9,492.8 404.4,494.8 404.9,496.9 405.4,499.0 406.0,501.1 406.5,503.2 407.0,505.4 407.5,507.5 408.0,509.7 408.5,511.8 409.1,514.0 409.6,516.2 410.1,518.5 410.6,520.7 411.1,522.9 411.6,525.2 412.0,527.5 412.5,529.8 413.0,532.1 413.5,534.4 414.0,536.7 414.5,539.1 414.9,541.4 415.4,543.8 415.9,546.2 416.4,548.6 416.8,551.0 417.3,553.4 417.8,555.9 418.3,558.3 418.7,560.8 419.2,563.3 419.7,565.8 420.2,568.3 420.6,570.8 421.1,573.3 421.6,575.8 422.1,578.4 422.6,580.9 423.0,583.5 423.5,586.1 424.0,588.7 424.5,591.3 425.0,593.9 425.4,596.5 425.9,599.2 426.4,601.8 426.9,604.5 427.4,607.2 427.8,609.8 428.3,612.5 428.8,615.2 429.3,617.9 429.7,620.7 430.2,623.4 430.7,626.1 431.2,628.9 431.6,631.6 432.1,634.4 432.6,637.1 433.1,639.9 433.6,642.7 434.1,645.5 434.6,648.3 435.1,651.1 435.6,653.9 436.1,656.7 436.6,659.5 437.1,662.3 437.6,665.1 438.1,668.0 438.7,670.8 439.2,673.6 439.7,676.4 440.2,679.3 440.8,682.1 441.3,685.0 441.8,687.8 442.3,690.7 442.9,693.5 443.4,696.4 443.9,699.2 444.4,702.1 444.9,704.9 445.5,707.8 446.0,710.6 446.5,713.4 447.0,716.3 447.5,719.1 448.0,722.0 448.5,724.8 449.0,727.6 449.5,730.5 450.0,733.3 450.5,736.1 451.0,738.9 451.5,741.7 452.0,744.5 452.5,747.3 453.0,750.0 453.5,752.8 454.0,755.6 454.5,758.3 455.0,761.1 455.5,763.8 456.0,766.5 456.5,769.2 457.0,771.9 457.6,774.6 458.1,777.2 458.6,779.9 459.1,782.5 459.6,785.1 460.1,787.7 460.6,790.3 461.1,792.9 461.6,795.4 462.1,797.9 462.6,800.5 463.1,802.9 463.6,805.4 464.1,807.9 464.6,810.3 465.1,812.7 465.5,815.1 466.0,817.4 466.5,819.8 467.0,822.1 467.5,824.3 468.0,826.6 468.5,828.8 469.0,831.0 469.5,833.2 470.0,835.4 470.5,837.5 471.0,839.6 471.5,841.6 472.0,843.7 472.5,845.7 473.0,847.6 473.5,849.5 474.0,851.4 474.5,853.3 475.0,855.1 475.5,856.9 476.0,858.7 476.5,860.4 477.0,862.1 477.5,863.8 478.0,865.4 478.5,867.0 479.0,868.5 479.5,870.0 480.0,871.5 480.5,872.9 481.6,875.7 482.6,878.3 483.6,880.7 484.6,882.9 485.6,885.0 486.6,886.9 487.6,888.7 488.6,890.2 489.6,891.6 490.6,892.9 492.1,894.4 493.6,895.5 495.0,896.2 496.5,896.5 498.5,896.5 500.5,896.1 501.9,895.6 503.4,894.9 504.9,893.9 506.4,892.6 507.9,891.1 508.8,890.0 509.8,888.7 510.8,887.3 511.8,885.8 512.8,884.1 513.8,882.4 514.8,880.5 515.8,878.6 516.9,876.5 517.9,874.3 518.9,872.0 519.9,869.6 521.0,867.1 522.0,864.5 523.1,861.8 524.2,859.0 524.7,857.5 525.2,856.1 525.8,854.6 526.3,853.1 526.8,851.6 527.4,850.1 527.9,848.5 528.4,846.9 529.0,845.4 529.5,843.7 530.1,842.1 530.6,840.5 531.1,838.8 531.7,837.1 532.2,835.4 532.7,833.7 533.2,831.9 533.8,830.2 534.3,828.4 534.8,826.7 535.3,824.9 535.8,823.0 536.3,821.2 536.8,819.4 537.3,817.5 537.8,815.7 538.3,813.8 538.7,811.9 539.2,810.0 539.7,808.1 540.2,806.2 540.7,804.3 541.1,802.4 541.6,800.5 542.1,798.5 542.5,796.6 543.0,794.6 543.4,792.6 543.9,790.7 544.4,788.7 544.8,786.7 545.3,784.7 545.8,782.8 546.2,780.8 546.7,778.8 547.2,776.8 547.6,774.8 548.1,772.8 548.6,770.8 549.1,768.8 549.5,766.8 550.0,764.8 550.5,762.8 551.0,760.8 551.5,758.8 552.0,756.8 552.4,754.8 552.9,752.8 553.4,750.8 553.9,748.8 554.4,746.8 554.9,744.9 555.4,742.9 555.9,740.9 556.4,738.9 556.9,736.9 557.4,735.0 557.9,733.0 558.4,731.0 558.9,729.1 559.4,727.1 559.9,725.2 560.4,723.2 560.9,721.3 561.4,719.3 561.9,717.4 562.4,715.5 562.9,713.5 563.4,711.6 563.9,709.7 564.4,707.8 564.9,705.9 565.4,704.0 565.9,702.1 566.4,700.2 566.9,698.3 567.4,696.5 567.9,694.6 568.4,692.7 568.9,690.9 569.4,689.0 569.8,687.2 570.3,685.4 570.8,683.5 571.3,681.7 571.8,679.9 572.3,678.1 572.8,676.3 573.3,674.5 573.8,672.7 574.2,670.9 574.7,669.2 575.2,667.4 575.7,665.7 576.2,663.9 576.7,662.2 577.2,660.4 577.7,658.7 578.1,657.0 578.6,655.3 579.1,653.6 579.6,651.9 580.1,650.2 580.6,648.6 581.1,646.9 581.6,645.2 582.1,643.6 582.6,642.0 583.1,640.3 583.6,638.7 584.1,637.1 584.6,635.5 585.1,633.9 585.6,632.3 586.1,630.7 586.6,629.1 587.1,627.6 587.6,626.0 588.1,624.5 588.6,622.9 589.1,621.4 589.6,619.9 590.1,618.4 590.6,616.9 591.1,615.4 591.6,613.9 592.1,612.4 592.6,610.9 593.1,609.4 593.6,608.0 594.1,606.5 594.6,605.1 595.1,603.6 595.6,602.2 596.1,600.8 597.1,598.0 598.2,595.2 599.2,592.5 600.2,589.7 601.2,587.0 602.2,584.4 603.2,581.8 604.3,579.2 605.3,576.6 606.3,574.1 607.3,571.5 608.3,569.1 609.4,566.6 610.4,564.2 611.4,561.8 612.5,559.4 613.5,557.1 614.5,554.8 615.5,552.5 616.6,550.3 617.6,548.0 618.6,545.8 619.7,543.6 620.7,541.5 621.8,539.4 622.8,537.3 623.8,535.2 624.9,533.1 625.9,531.1 626.9,529.1 628.0,527.1 629.0,525.1 630.0,523.2 631.1,521.3 632.1,519.4 633.1,517.5 634.1,515.7 635.2,513.8 636.2,512.0 637.2,510.2 638.2,508.4 639.2,506.7 640.2,504.9 641.2,503.2 642.3,501.5 643.3,499.8 644.3,498.2 645.3,496.5 646.3,494.9 647.3,493.3 648.3,491.7 649.3,490.1 650.3,488.5 651.3,487.0 652.3,485.5 653.2,483.9 654.2,482.4 655.2,480.9 656.2,479.5 657.2,478.0 658.2,476.6 659.2,475.1 660.2,473.7 661.1,472.3 662.1,470.9 663.1,469.5 664.1,468.2 665.1,466.8 666.0,465.5 667.0,464.2 668.0,462.8 668.9,461.5 669.9,460.3 670.9,459.0 671.9,457.7 672.8,456.4 673.8,455.2 674.8,454.0 675.7,452.7 676.7,451.5 677.6,450.3 678.6,449.1 679.6,447.9 680.5,446.8 681.5,445.6 682.4,444.5 683.9,442.7 685.3,441.0 686.8,439.4 688.2,437.7 689.6,436.1 691.1,434.5 692.5,432.9 693.9,431.3 695.4,429.8 696.8,428.3 698.3,426.8 699.7,425.3 701.2,423.8 702.6,422.4 704.1,421.0 705.6,419.6 707.0,418.2 708.5,416.9 710.0,415.5 711.5,414.2 712.9,412.9 714.4,411.7 715.9,410.4 717.4,409.2 718.9,408.0 720.4,406.8 721.9,405.6 723.4,404.5 725.0,403.4 726.5,402.2 728.0,401.2 729.5,400.1 731.1,399.0 732.6,398.0 734.1,397.0 735.7,396.0 737.2,395.0 738.7,394.0 740.3,393.1 741.8,392.1 743.4,391.2 744.9,390.3 746.4,389.4 748.0,388.5 749.5,387.7 751.1,386.8 752.6,386.0 754.1,385.1 755.7,384.3 757.2,383.5 758.8,382.6 760.3,381.8 761.8,381.0 763.3,380.2 764.9,379.5 766.4,378.7 767.9,377.9 769.4,377.1 770.9,376.4 772.5,375.6 774.0,374.9 775.5,374.1 777.0,373.4 778.5,372.7 780.0,372.0 781.5,371.2 783.1,370.5 784.6,369.8 786.1,369.1 787.6,368.5 789.1,367.8 790.6,367.1 792.1,366.4 793.6,365.8 795.1,365.1 796.6,364.5 798.1,363.8 799.6,363.2 801.1,362.6 802.6,361.9 804.1,361.3 805.6,360.7 807.1,360.1 808.6,359.5 810.1,358.9 811.6,358.3 813.1,357.7 814.6,357.1 816.1,356.6 817.6,356.0 819.1,355.4 820.6,354.9 822.1,354.3 823.6,353.7 825.1,353.2 826.6,352.6 828.1,352.1 829.6,351.6 831.1,351.0 832.6,350.5 834.1,350.0 835.6,349.5 837.1,349.0 838.6,348.5 840.1,348.0 841.6,347.5 843.1,347.0 844.6,346.5 846.1,346.0 847.6,345.5 849.1,345.0 850.6,344.6 852.1,344.1 853.6,343.6 855.1,343.2 856.6,342.7 858.1,342.3 859.6,341.8 861.1,341.4 862.6,341.0 864.1,340.5 865.6,340.1 867.1,339.7 868.6,339.3 870.1,338.8 871.6,338.4 873.1,338.0 874.6,337.6 876.1,337.2 877.6,336.8 879.1,336.4 880.6,336.0 882.1,335.6 883.6,335.2 885.1,334.8 886.6,334.4 888.1,334.0 889.6,333.7 891.1,333.3 892.6,332.9 894.1,332.5 895.6,332.1 897.1,331.8 898.6,331.4 900.1,331.0 901.6,330.6 903.0,330.3 904.5,329.9 906.0,329.5 907.5,329.2 909.0,328.8 910.5,328.5 912.0,328.1 913.5,327.7 915.0,327.4 916.5,327.0 918.0,326.7 919.5,326.3 921.0,326.0 922.5,325.7 924.0,325.3 925.5,325.0 927.0,324.7 928.5,324.3 930.0,324.0 931.5,323.7 933.0,323.4 934.5,323.1 935.9,322.7 937.4,322.4 938.9,322.1 940.4,321.8 941.9,321.5 943.4,321.2 944.9,321.0 946.4,320.7 947.9,320.4 949.4,320.1 950.9,319.8 952.4,319.5 953.9,319.3 955.4,319.0 956.9,318.7 958.4,318.5 959.9,318.2 961.4,317.9 962.9,317.7 964.4,317.4 965.9,317.2 967.4,316.9 968.9,316.7 970.4,316.4 971.9,316.2 973.4,315.9 974.9,315.7 976.4,315.4 978.0,315.2 979.5,315.0 981.0,314.7 982.5,314.5 984.0,314.3 985.5,314.0 987.0,313.8 988.5,313.6 990.0,313.4 991.5,313.2 993.0,312.9 994.5,312.7 996.0,312.5 997.5,312.3 999.0,312.1 1000.5,311.8 1002.0,311.6 1003.5,311.4 1005.0,311.2 1006.5,311.0 1008.0,310.8 1009.5,310.6 1011.0,310.4 1012.5,310.2 1014.0,310.0 1015.5,309.8 1017.0,309.6 1018.5,309.3 1020.0,309.1 1021.5,308.9 1023.0,308.7 1024.5,308.5 1026.0,308.4 1027.5,308.2 1029.0,308.0 1030.5,307.8 1032.0,307.6 1033.5,307.4 1035.0,307.2 1036.5,307.0 1038.0,306.8 1039.5,306.6 1041.0,306.4 1042.5,306.3 1044.0,306.1 1045.5,305.9 1047.0,305.7 1048.5,305.5 1050.0,305.4 1051.5,305.2 1053.0,305.0 1054.5,304.8 1056.0,304.7 1057.5,304.5 1059.0,304.3 1060.5,304.1 1062.0,304.0 1063.5,303.8 1065.0,303.6 1066.5,303.5 1068.0,303.3 1069.5,303.2 1071.0,303.0 1072.5,302.8 1074.0,302.7 1075.5,302.5 1077.0,302.4 1078.5,302.2 1080.0,302.1 1081.5,301.9 1083.0,301.7 1084.5,301.6 1086.0,301.4 1087.5,301.3 1089.0,301.1 1090.5,301.0 1092.0,300.9 1093.5,300.7 1095.0,300.6 1096.5,300.4 1098.0,300.3 1099.5,300.1 1101.0,300.0 1102.5,299.8 1104.0,299.7 1105.5,299.6 1107.0,299.4 1108.5,299.3 1110.0,299.1 1111.5,299.0 1113.0,298.9 1114.5,298.7 1116.0,298.6 1117.5,298.4 1119.0,298.3 1120.5,298.2 1122.0,298.0 1123.5,297.9 1125.0,297.8 1126.5,297.6 1128.0,297.5 1129.5,297.4 1131.0,297.2 1132.5,297.1 1134.0,297.0 1135.5,296.8 1137.0,296.7 1138.5,296.6 1140.0,296.5 1141.5,296.3 1143.0,296.2 1144.5,296.1 1146.0,296.0 1147.5,295.8 1149.0,295.7 1150.5,295.6 1152.0,295.5 1153.5,295.3 1155.0,295.2 1156.5,295.1 1158.0,295.0 1159.5,294.9 1161.0,294.7 1162.5,294.6 1164.0,294.5 1165.5,294.4 1167.0,294.3 1168.5,294.2 1170.0,294.0 1171.5,293.9 1173.0,293.8 1174.5,293.7 1176.0,293.6 1177.5,293.5 1179.0,293.4 1180.5,293.3 1182.0,293.2 1183.5,293.0 1185.0,292.9 1186.5,292.8 1188.0,292.7 1189.5,292.6 1191.0,292.5 1192.5,292.4 1194.0,292.3 1195.5,292.2 1197.0,292.1 1198.5,292.0 1200.0,291.9 1201.5,291.8 1203.0,291.7 1204.5,291.6 1206.0,291.5 1207.5,291.4 1209.0,291.3 1210.5,291.2 1212.0,291.1 1213.5,291.0 1215.0,290.9 1216.5,290.8 1218.0,290.7 1219.5,290.6 1221.0,290.5 1222.5,290.4 1224.0,290.3 1225.5,290.2 1227.0,290.1 1228.5,290.0 1230.0,289.9 1231.5,289.9 1233.0,289.8 1234.5,289.7 1236.0,289.6 1237.5,289.5 1239.0,289.4 1240.5,289.3 1242.0,289.2 1243.5,289.1 1245.0,289.0 1246.5,288.9 1248.0,288.8 1249.5,288.8 1251.0,288.7 1252.5,288.6 1254.0,288.5 1255.5,288.4 1257.0,288.3 1258.5,288.2 1260.0,288.1 1261.5,288.0 1263.0,288.0 1264.5,287.9 1266.0,287.8 1267.5,287.7 1269.0,287.6 1270.5,287.5 1272.0,287.4 1273.5,287.3 1275.0,287.3 1276.5,287.2 1278.0,287.1 1279.5,287.0 1281.0,286.9 1282.5,286.8 1284.0,286.8 1285.5,286.7 1287.0,286.6 1288.5,286.5 1290.0,286.4 1291.5,286.4 1293.0,286.3 1294.5,286.2 1296.0,286.1 1297.5,286.0 1299.0,286.0 1300.5,285.9 1302.0,285.8 1303.5,285.7 1305.0,285.7 1306.5,285.6 1308.0,285.5 1309.5,285.4 1311.0,285.4 1312.5,285.3 1314.0,285.2 1315.5,285.1 1317.0,285.1 1318.5,285.0 1320.0,284.9 1321.5,284.8 1323.0,284.8 1324.5,284.7 1326.0,284.6 1327.5,284.6 1329.0,284.5 1330.5,284.4 1332.0,284.4 1333.5,284.3 1335.0,284.2 1336.5,284.1 1338.0,284.1 1339.5,284.0 1341.0,283.9 1342.5,283.9 1344.0,283.8 1345.5,283.8 1347.0,283.7 1348.5,283.6 1350.0,283.6 1351.5,283.5 1353.0,283.4 1354.5,283.4 1356.0,283.3 1357.5,283.2 1359.0,283.2 1360.5,283.1 1362.0,283.1 1363.5,283.0 1365.0,282.9 1366.5,282.9 1368.0,282.8 1369.5,282.8 1371.0,282.7 1372.5,282.6 1374.0,282.6 1375.5,282.5 1377.0,282.5 1378.5,282.4 1380.0,282.3 1381.5,282.3 1383.0,282.2 1384.5,282.2 1386.0,282.1 1387.5,282.0 1389.0,282.0 1390.5,281.9 1392.0,281.9 1393.5,281.8 1395.0,281.7 1396.5,281.7 1398.0,281.6 1399.5,281.6 1401.0,281.5 1402.5,281.5 1404.0,281.4 1405.5,281.3 1407.0,281.3 1408.5,281.2 1410.0,281.2 1411.5,281.1 1413.0,281.0 1414.5,281.0 1416.0,280.9 1417.5,280.9 1419.0,280.8 1420.5,280.8 1422.0,280.7 1423.5,280.6 1425.0,280.6 1426.5,280.5 1428.0,280.5 1429.5,280.4 1431.0,280.4 1432.5,280.3 1434.0,280.3 1435.5,280.2 1437.0,280.2 1438.5,280.1 1440.0,280.0 1441.5,280.0 1443.0,279.9 1444.5,279.9 1446.0,279.8 1447.5,279.8 1449.0,279.7 1450.5,279.7 1452.0,279.6 1453.5,279.6 1455.0,279.5 1456.5,279.5 1458.0,279.4 1459.5,279.4 1461.0,279.3 1462.5,279.3 1464.0,279.2 1465.5,279.2 1467.0,279.1 1468.5,279.1 1470.0,279.0 1471.5,279.0 1473.0,278.9 1474.5,278.9 1476.0,278.8 1477.5,278.8 1479.0,278.7 1480.5,278.7 1482.0,278.6 1483.5,278.6 1485.0,278.5 1486.5,278.5 1488.0,278.4 1489.5,278.4 1491.0,278.3 1492.5,278.3 1494.0,278.2 1495.5,278.2 1497.0,278.1 1498.5,278.1 1500.0,278.1 1501.5,278.0 1503.0,278.0 1504.5,277.9 1506.0,277.9 1507.5,277.8 1509.0,277.8 1510.5,277.7 1512.0,277.7 1513.5,277.6 1515.0,277.6 1516.5,277.6 1518.0,277.5 1519.5,277.5 1521.0,277.4 1522.5,277.4 1524.0,277.3 1525.5,277.3 1527.0,277.3 1528.5,277.2 1530.0,277.2 1531.0,277.2" stroke="#f08428" stroke-width="6.8" fill="none" stroke-linejoin="round"/>
<polyline points="234.0,245.0 235.5,245.2 237.0,245.4 238.5,245.7 240.0,245.9 241.5,246.1 243.0,246.3 244.5,246.5 246.0,246.7 247.5,247.0 249.0,247.2 250.5,247.4 252.0,247.7 253.5,247.9 255.0,248.1 256.5,248.4 258.0,248.6 259.5,248.9 261.0,249.2 262.5,249.4 264.0,249.7 265.5,250.0 267.0,250.2 268.5,250.5 270.0,250.8 271.5,251.1 273.0,251.4 274.5,251.7 276.0,252.0 277.5,252.3 279.0,252.6 280.5,253.0 282.0,253.3 283.5,253.6 285.0,254.0 286.5,254.3 288.0,254.7 289.5,255.0 291.0,255.4 292.5,255.8 294.0,256.2 295.5,256.6 297.0,257.0 298.5,257.4 300.0,257.8 301.5,258.2 303.0,258.7 304.5,259.1 306.0,259.6 307.5,260.0 309.0,260.5 310.5,261.0 312.0,261.5 313.5,262.0 315.0,262.5 316.5,263.0 318.0,263.6 319.5,264.1 321.0,264.7 322.5,265.3 324.0,265.9 325.5,266.5 327.0,267.1 328.5,267.8 330.0,268.4 331.5,269.1 333.0,269.8 334.5,270.5 336.0,271.2 337.5,271.9 339.0,272.6 340.5,273.4 342.0,274.2 343.6,275.0 345.1,275.8 346.6,276.7 348.1,277.6 349.6,278.5 351.1,279.4 352.6,280.3 354.1,281.3 355.6,282.3 357.1,283.3 358.6,284.3 360.1,285.4 361.6,286.5 363.1,287.6 364.6,288.8 366.1,290.0 367.6,291.2 369.1,292.4 370.6,293.7 372.1,295.0 373.6,296.4 375.1,297.8 376.6,299.2 378.1,300.7 379.6,302.2 381.1,303.7 382.6,305.3 384.1,306.9 385.6,308.5 386.6,309.7 387.6,310.8 388.6,312.0 389.5,313.2 390.5,314.4 391.5,315.6 392.5,316.9 393.5,318.1 394.5,319.4 395.5,320.7 396.4,322.0 397.4,323.4 398.4,324.8 399.4,326.2 400.4,327.6 401.4,329.0 402.4,330.5 403.3,332.0 404.3,333.5 405.3,335.0 406.3,336.6 407.3,338.2 408.3,339.8 409.2,341.4 410.2,343.1 411.2,344.8 412.2,346.5 413.2,348.2 414.2,350.0 415.1,351.8 416.1,353.6 417.1,355.4 418.1,357.3 419.1,359.2 420.1,361.2 421.1,363.1 422.1,365.1 423.0,367.2 424.0,369.2 425.0,371.3 426.0,373.4 427.0,375.6 428.0,377.7 429.0,379.9 430.0,382.2 431.0,384.5 432.0,386.8 433.0,389.1 434.1,391.5 435.1,393.9 436.1,396.3 437.1,398.8 438.2,401.3 439.2,403.8 440.2,406.4 441.3,409.0 442.3,411.6 443.4,414.3 444.4,417.0 445.5,419.8 446.6,422.5 447.1,424.0 447.6,425.4 448.1,426.8 448.7,428.2 449.2,429.7 449.7,431.1 450.3,432.6 450.8,434.1 451.3,435.5 451.9,437.0 452.4,438.5 453.0,440.1 453.5,441.6 454.0,443.1 454.5,444.6 455.1,446.2 455.6,447.8 456.1,449.3 456.7,450.9 457.2,452.5 457.7,454.1 458.2,455.7 458.8,457.3 459.3,459.0 459.8,460.6 460.3,462.3 460.9,463.9 461.4,465.6 461.9,467.3 462.4,469.0 462.9,470.7 463.4,472.4 464.0,474.1 464.5,475.8 465.0,477.6 465.5,479.3 466.0,481.1 466.5,482.9 467.0,484.7 467.5,486.5 468.0,488.3 468.5,490.1 469.0,491.9 469.5,493.7 470.0,495.6 470.5,497.4 471.0,499.3 471.5,501.2 471.9,503.1 472.4,505.0 472.9,506.9 473.4,508.8 473.9,510.7 474.3,512.6 474.8,514.6 475.3,516.5 475.8,518.5 476.2,520.5 476.7,522.5 477.2,524.5 477.6,526.5 478.1,528.5 478.6,530.5 479.0,532.5 479.5,534.6 479.9,536.6 480.4,538.7 480.8,540.7 481.3,542.8 481.8,544.9 482.2,547.0 482.7,549.1 483.1,551.2 483.6,553.3 484.0,555.4 484.5,557.6 484.9,559.7 485.4,561.9 485.9,564.0 486.3,566.2 486.8,568.4 487.2,570.6 487.7,572.7 488.2,574.9 488.6,577.1 489.1,579.4 489.6,581.6 490.1,583.8 490.5,586.0 491.0,588.3 491.5,590.5 492.0,592.8 492.5,595.0 492.9,597.3 493.4,599.6 493.9,601.8 494.4,604.1 494.9,606.4 495.4,608.7 495.9,611.0 496.4,613.3 496.9,615.6 497.4,618.0 497.9,620.3 498.4,622.6 498.9,624.9 499.4,627.3 500.0,629.6 500.5,632.0 501.0,634.3 501.5,636.7 502.0,639.1 502.5,641.4 503.0,643.8 503.6,646.2 504.1,648.5 504.6,650.9 505.1,653.3 505.6,655.7 506.2,658.1 506.7,660.5 507.2,662.9 507.7,665.3 508.2,667.7 508.7,670.1 509.2,672.5 509.8,675.0 510.3,677.4 510.8,679.8 511.3,682.2 511.8,684.7 512.3,687.1 512.8,689.5 513.3,691.9 513.8,694.4 514.3,696.8 514.8,699.2 515.3,701.7 515.8,704.1 516.3,706.5 516.8,709.0 517.3,711.4 517.8,713.8 518.3,716.3 518.8,718.7 519.3,721.1 519.8,723.5 520.3,726.0 520.7,728.4 521.2,730.8 521.7,733.2 522.2,735.7 522.6,738.1 523.1,740.5 523.6,742.9 524.0,745.3 524.5,747.7 524.9,750.1 525.4,752.5 525.9,754.9 526.3,757.3 526.8,759.7 527.3,762.1 527.8,764.4 528.3,766.8 528.8,769.1 529.3,771.5 529.8,773.8 530.3,776.1 530.8,778.5 531.3,780.8 531.9,783.1 532.4,785.4 532.9,787.7 533.5,789.9 534.0,792.2 534.6,794.5 535.1,796.7 535.7,798.9 536.2,801.2 536.7,803.4 537.3,805.6 537.8,807.8 538.3,810.0 538.9,812.2 539.4,814.3 539.9,816.5 540.5,818.6 541.0,820.8 541.5,822.9 542.0,825.0 542.5,827.1 543.1,829.2 543.6,831.2 544.1,833.3 544.6,835.3 545.1,837.3 545.6,839.4 546.1,841.3 546.7,843.3 547.2,845.3 547.7,847.2 548.2,849.2 548.7,851.1 549.2,853.0 549.8,854.9 550.3,856.7 550.8,858.6 551.3,860.4 551.9,862.2 552.4,864.0 552.9,865.7 553.4,867.5 554.0,869.2 554.5,870.9 555.0,872.6 555.5,874.3 556.1,875.9 556.6,877.5 557.1,879.1 557.6,880.7 558.2,882.3 558.7,883.8 559.2,885.3 559.7,886.8 560.2,888.3 560.7,889.7 561.2,891.2 562.3,894.0 563.3,896.6 564.2,899.2 565.2,901.7 566.2,904.1 567.2,906.4 568.2,908.5 569.1,910.6 570.1,912.5 571.1,914.4 572.1,916.1 573.0,917.6 574.0,919.1 575.0,920.4 575.9,921.6 577.4,923.2 578.8,924.4 580.2,925.3 581.6,925.9 583.4,926.1 585.3,925.5 586.7,924.6 588.2,923.5 589.6,922.0 591.1,920.3 592.1,919.1 593.1,917.7 594.0,916.3 595.0,914.7 596.0,913.1 597.0,911.3 597.9,909.5 598.9,907.6 599.9,905.6 600.9,903.6 601.8,901.4 602.8,899.2 603.8,897.0 604.8,894.7 605.7,892.3 606.7,889.8 607.7,887.3 608.7,884.8 609.7,882.2 610.7,879.5 611.8,876.8 612.8,874.1 613.8,871.3 614.9,868.5 615.4,867.1 615.9,865.6 616.4,864.2 617.0,862.7 617.5,861.3 618.0,859.8 618.6,858.3 619.1,856.8 619.6,855.3 620.2,853.8 620.7,852.3 621.2,850.8 621.8,849.3 622.3,847.8 622.9,846.2 623.4,844.7 623.9,843.1 624.5,841.6 625.0,840.0 625.6,838.5 626.1,836.9 626.6,835.3 627.2,833.7 627.7,832.1 628.3,830.5 628.8,829.0 629.3,827.3 629.9,825.7 630.4,824.1 630.9,822.5 631.4,820.9 632.0,819.3 632.5,817.7 633.0,816.0 633.6,814.4 634.1,812.8 634.6,811.1 635.1,809.5 635.6,807.8 636.2,806.2 636.7,804.5 637.2,802.9 637.7,801.2 638.2,799.6 638.7,797.9 639.2,796.3 639.7,794.6 640.3,793.0 640.8,791.3 641.3,789.6 641.8,788.0 642.3,786.3 642.8,784.7 643.3,783.0 643.8,781.3 644.3,779.7 644.8,778.0 645.3,776.3 645.8,774.7 646.3,773.0 646.8,771.4 647.3,769.7 647.8,768.0 648.3,766.4 648.8,764.7 649.3,763.1 649.7,761.4 650.2,759.8 650.7,758.1 651.2,756.5 651.7,754.8 652.2,753.2 652.7,751.5 653.2,749.9 653.7,748.2 654.1,746.6 654.6,745.0 655.1,743.3 655.6,741.7 656.1,740.1 656.6,738.4 657.0,736.8 657.5,735.2 658.0,733.6 658.5,732.0 659.0,730.4 659.5,728.7 659.9,727.1 660.4,725.5 660.9,723.9 661.4,722.3 661.9,720.8 662.3,719.2 662.8,717.6 663.3,716.0 663.8,714.4 664.3,712.8 664.7,711.3 665.2,709.7 665.7,708.1 666.2,706.6 666.7,705.0 667.1,703.5 667.6,701.9 668.1,700.4 668.6,698.8 669.1,697.3 669.5,695.8 670.0,694.2 670.5,692.7 671.0,691.2 671.4,689.7 671.9,688.2 672.4,686.7 672.9,685.2 673.3,683.7 673.8,682.2 674.3,680.7 674.8,679.2 675.2,677.7 675.7,676.2 676.2,674.8 676.7,673.3 677.1,671.8 677.6,670.4 678.1,668.9 678.6,667.5 679.0,666.0 679.5,664.6 680.0,663.2 680.5,661.8 681.0,660.3 681.9,657.5 682.9,654.7 683.9,651.9 684.9,649.2 685.9,646.4 686.9,643.7 687.9,641.0 688.9,638.3 689.9,635.7 690.9,633.0 691.9,630.4 692.9,627.8 693.9,625.3 694.9,622.7 695.9,620.2 696.9,617.7 697.9,615.2 699.0,612.7 700.0,610.2 701.0,607.8 702.0,605.4 703.0,603.0 704.0,600.6 705.0,598.3 706.1,596.0 707.1,593.6 708.1,591.4 709.1,589.1 710.1,586.8 711.1,584.6 712.2,582.4 713.2,580.2 714.2,578.0 715.2,575.9 716.3,573.7 717.3,571.6 718.3,569.5 719.3,567.4 720.3,565.4 721.4,563.3 722.4,561.3 723.4,559.3 724.4,557.3 725.4,555.3 726.5,553.4 727.5,551.4 728.5,549.5 729.5,547.6 730.5,545.7 731.5,543.8 732.5,542.0 733.6,540.2 734.6,538.3 735.6,536.5 736.6,534.7 737.6,533.0 738.6,531.2 739.6,529.5 740.6,527.7 741.6,526.0 742.6,524.3 743.6,522.6 744.6,521.0 745.6,519.3 746.7,517.7 747.7,516.1 748.7,514.4 749.7,512.9 750.7,511.3 751.7,509.7 752.7,508.2 753.7,506.6 754.7,505.1 755.7,503.6 756.7,502.1 757.7,500.6 758.7,499.1 759.7,497.7 760.7,496.2 761.7,494.8 762.7,493.4 763.7,492.0 764.7,490.6 765.7,489.2 766.7,487.8 767.7,486.5 768.7,485.1 769.7,483.8 770.7,482.5 771.7,481.2 772.7,479.9 773.7,478.6 774.7,477.3 775.7,476.0 776.7,474.8 777.7,473.6 778.7,472.3 779.7,471.1 780.7,469.9 781.7,468.7 782.7,467.5 783.7,466.3 784.7,465.2 785.7,464.0 786.7,462.9 787.7,461.7 788.7,460.6 790.2,458.9 791.7,457.3 793.2,455.6 794.7,454.0 796.2,452.4 797.7,450.9 799.2,449.3 800.7,447.8 802.2,446.3 803.7,444.8 805.2,443.3 806.6,441.8 808.1,440.4 809.6,438.9 811.1,437.5 812.6,436.1 814.1,434.7 815.5,433.4 817.0,432.0 818.5,430.7 820.0,429.3 821.5,428.0 823.0,426.8 824.4,425.5 825.9,424.2 827.4,423.0 828.9,421.8 830.4,420.5 831.9,419.3 833.3,418.2 834.8,417.0 836.3,415.8 837.8,414.7 839.3,413.6 840.8,412.5 842.3,411.4 843.8,410.3 845.3,409.2 846.7,408.1 848.2,407.1 849.7,406.1 851.2,405.0 852.7,404.0 854.2,403.0 855.7,402.1 857.2,401.1 858.7,400.1 860.2,399.2 861.7,398.2 863.2,397.3 864.7,396.4 866.2,395.5 867.7,394.6 869.2,393.7 870.7,392.9 872.2,392.0 873.8,391.2 875.3,390.3 876.8,389.5 878.3,388.7 879.8,387.9 881.3,387.1 882.8,386.3 884.3,385.5 885.8,384.7 887.3,384.0 888.8,383.2 890.3,382.5 891.8,381.7 893.3,381.0 894.8,380.2 896.3,379.5 897.8,378.8 899.3,378.1 900.8,377.4 902.3,376.7 903.8,376.0 905.4,375.4 906.9,374.7 908.4,374.0 909.9,373.4 911.4,372.7 912.9,372.1 914.4,371.4 915.9,370.8 917.4,370.2 918.9,369.6 920.4,368.9 921.9,368.3 923.4,367.7 924.9,367.1 926.4,366.6 927.9,366.0 929.4,365.4 930.9,364.8 932.4,364.3 933.9,363.7 935.4,363.2 936.9,362.6 938.4,362.1 939.9,361.5 941.4,361.0 942.9,360.5 944.4,359.9 945.9,359.4 947.4,358.9 948.9,358.4 950.4,357.9 951.9,357.4 953.4,356.9 955.0,356.5 956.5,356.0 958.0,355.5 959.5,355.0 961.0,354.6 962.5,354.1 964.0,353.7 965.5,353.3 967.0,352.8 968.5,352.4 970.0,352.0 971.5,351.6 973.1,351.2 974.6,350.8 976.1,350.4 977.6,350.0 979.1,349.6 980.6,349.2 982.1,348.9 983.6,348.5 985.2,348.2 986.7,347.8 988.2,347.5 989.7,347.1 991.2,346.8 992.7,346.5 994.3,346.1 995.8,345.8 997.3,345.5 998.8,345.2 1000.3,344.9 1001.8,344.6 1003.4,344.2 1004.9,343.9 1006.4,343.6 1007.9,343.3 1009.4,343.0 1010.9,342.7 1012.4,342.4 1013.9,342.0 1015.4,341.7 1016.9,341.4 1018.4,341.1 1019.9,340.8 1021.4,340.5 1022.9,340.2 1024.4,339.8 1025.9,339.5 1027.4,339.2 1028.9,338.9 1030.4,338.6 1031.9,338.2 1033.4,337.9 1034.9,337.6 1036.4,337.3 1037.9,337.0 1039.4,336.6 1040.9,336.3 1042.4,336.0 1043.9,335.6 1045.4,335.3 1046.9,335.0 1048.4,334.7 1049.9,334.3 1051.4,334.0 1052.8,333.6 1054.3,333.3 1055.8,333.0 1057.3,332.6 1058.8,332.3 1060.3,331.9 1061.8,331.6 1063.2,331.2 1064.7,330.9 1066.2,330.5 1067.7,330.2 1069.2,329.8 1070.7,329.5 1072.2,329.1 1073.6,328.8 1075.1,328.4 1076.6,328.1 1078.1,327.7 1079.6,327.4 1081.1,327.0 1082.5,326.7 1084.0,326.4 1085.5,326.1 1087.0,325.7 1088.5,325.4 1090.0,325.1 1091.5,324.8 1093.0,324.5 1094.5,324.2 1096.0,323.9 1097.5,323.7 1098.9,323.4 1100.4,323.1 1101.9,322.8 1103.4,322.6 1104.9,322.3 1106.4,322.1 1107.9,321.8 1109.4,321.6 1110.9,321.4 1112.4,321.1 1113.9,320.9 1115.4,320.7 1116.9,320.4 1118.4,320.2 1119.9,320.0 1121.4,319.8 1122.9,319.6 1124.4,319.3 1125.9,319.1 1127.4,318.9 1128.9,318.7 1130.4,318.5 1131.9,318.3 1133.4,318.1 1134.9,317.9 1136.4,317.7 1137.9,317.5 1139.4,317.3 1140.9,317.1 1142.4,317.0 1143.9,316.8 1145.4,316.6 1146.9,316.4 1148.4,316.2 1149.9,316.0 1151.5,315.8 1153.0,315.7 1154.5,315.5 1156.0,315.3 1157.5,315.1 1159.0,315.0 1160.5,314.8 1162.0,314.6 1163.5,314.4 1165.0,314.3 1166.5,314.1 1168.0,313.9 1169.5,313.7 1171.0,313.6 1172.5,313.4 1174.0,313.2 1175.5,313.1 1177.0,312.9 1178.5,312.7 1180.0,312.6 1181.5,312.4 1183.0,312.2 1184.5,312.1 1186.0,311.9 1187.5,311.7 1189.0,311.6 1190.5,311.4 1192.0,311.2 1193.5,311.1 1195.0,310.9 1196.5,310.7 1198.0,310.6 1199.5,310.4 1201.0,310.3 1202.5,310.1 1204.0,309.9 1205.5,309.8 1207.0,309.6 1208.5,309.4 1210.0,309.3 1211.5,309.1 1213.0,309.0 1214.5,308.8 1216.0,308.7 1217.5,308.5 1219.0,308.3 1220.5,308.2 1222.0,308.0 1223.5,307.9 1225.0,307.7 1226.5,307.6 1228.0,307.4 1229.5,307.3 1231.0,307.1 1232.5,307.0 1234.0,306.8 1235.5,306.7 1237.0,306.5 1238.5,306.4 1240.0,306.2 1241.5,306.1 1243.0,306.0 1244.5,305.8 1246.0,305.7 1247.5,305.5 1249.0,305.4 1250.5,305.3 1252.0,305.1 1253.5,305.0 1255.0,304.8 1256.5,304.7 1258.0,304.6 1259.5,304.4 1261.0,304.3 1262.5,304.2 1264.0,304.0 1265.5,303.9 1267.0,303.8 1268.5,303.6 1270.0,303.5 1271.5,303.4 1273.0,303.2 1274.5,303.1 1276.0,303.0 1277.5,302.8 1279.0,302.7 1280.5,302.6 1282.0,302.4 1283.5,302.3 1285.0,302.2 1286.5,302.1 1288.0,301.9 1289.5,301.8 1291.0,301.7 1292.5,301.5 1294.0,301.4 1295.5,301.3 1297.0,301.2 1298.5,301.0 1300.0,300.9 1301.5,300.8 1303.0,300.6 1304.5,300.5 1306.0,300.4 1307.5,300.3 1309.0,300.1 1310.5,300.0 1312.0,299.9 1313.5,299.8 1315.0,299.7 1316.5,299.5 1318.0,299.4 1319.5,299.3 1321.0,299.2 1322.5,299.1 1324.0,298.9 1325.5,298.8 1327.0,298.7 1328.5,298.6 1330.0,298.5 1331.5,298.4 1333.0,298.2 1334.5,298.1 1336.0,298.0 1337.5,297.9 1339.0,297.8 1340.5,297.7 1342.0,297.6 1343.5,297.5 1345.0,297.3 1346.5,297.2 1348.0,297.1 1349.5,297.0 1351.0,296.9 1352.5,296.8 1354.0,296.7 1355.5,296.6 1357.0,296.5 1358.5,296.4 1360.0,296.3 1361.5,296.2 1363.0,296.1 1364.5,296.0 1366.0,295.9 1367.5,295.7 1369.0,295.6 1370.5,295.5 1372.0,295.4 1373.5,295.3 1375.0,295.2 1376.5,295.1 1378.0,295.0 1379.5,294.9 1381.0,294.8 1382.5,294.7 1384.0,294.6 1385.5,294.5 1387.0,294.4 1388.5,294.3 1390.0,294.2 1391.5,294.1 1393.0,294.0 1394.5,293.9 1396.0,293.8 1397.5,293.7 1399.0,293.6 1400.5,293.5 1402.0,293.4 1403.5,293.3 1405.0,293.2 1406.5,293.1 1408.0,293.0 1409.5,292.9 1411.0,292.8 1412.5,292.7 1414.0,292.6 1415.5,292.5 1417.0,292.4 1418.5,292.3 1420.0,292.3 1421.5,292.2 1423.0,292.1 1424.5,292.0 1426.0,291.9 1427.5,291.8 1429.0,291.7 1430.5,291.6 1432.0,291.5 1433.5,291.4 1435.0,291.3 1436.5,291.2 1438.0,291.2 1439.5,291.1 1441.0,291.0 1442.5,290.9 1444.0,290.8 1445.5,290.7 1447.0,290.6 1448.5,290.5 1450.0,290.5 1451.5,290.4 1453.0,290.3 1454.5,290.2 1456.0,290.1 1457.5,290.0 1459.0,289.9 1460.5,289.9 1462.0,289.8 1463.5,289.7 1465.0,289.6 1466.5,289.6 1468.0,289.5 1469.5,289.4 1471.0,289.3 1472.5,289.2 1474.0,289.2 1475.5,289.1 1477.0,289.0 1478.5,289.0 1480.0,288.9 1481.5,288.8 1483.0,288.7 1484.5,288.7 1486.0,288.6 1487.5,288.5 1489.0,288.5 1490.5,288.4 1492.0,288.3 1493.5,288.2 1495.0,288.2 1496.5,288.1 1498.0,288.0 1499.5,288.0 1501.0,287.9 1502.5,287.8 1504.0,287.7 1505.5,287.7 1507.0,287.6 1508.5,287.5 1510.0,287.4 1511.5,287.4 1513.0,287.3 1514.5,287.2 1516.0,287.1 1517.5,287.1 1519.0,287.0 1520.5,286.9 1522.0,286.8 1523.5,286.7 1525.0,286.7 1526.5,286.6 1528.0,286.5 1529.5,286.4 1530.5,286.4" stroke="#e0b030" stroke-width="6.8" fill="none" stroke-linejoin="round"/>
<polyline points="234.0,241.4 235.5,241.5 237.0,241.6 238.5,241.8 240.0,241.9 241.5,242.0 243.0,242.2 244.5,242.3 246.0,242.5 247.5,242.6 249.0,242.8 250.5,242.9 252.0,243.1 253.5,243.2 255.0,243.4 256.5,243.6 258.0,243.7 259.5,243.9 261.0,244.1 262.5,244.2 264.0,244.4 265.5,244.6 267.0,244.8 268.5,245.0 270.0,245.2 271.5,245.4 273.0,245.6 274.5,245.8 276.0,246.0 277.5,246.2 279.0,246.4 280.5,246.6 282.0,246.8 283.5,247.0 285.0,247.3 286.5,247.5 288.0,247.7 289.5,248.0 291.0,248.2 292.5,248.5 294.0,248.7 295.5,249.0 297.0,249.2 298.5,249.5 299.9,249.8 301.4,250.0 302.9,250.3 304.4,250.6 305.9,250.9 307.4,251.1 308.9,251.4 310.4,251.7 311.9,252.0 313.4,252.3 314.9,252.6 316.4,252.9 317.9,253.2 319.4,253.6 320.9,253.9 322.4,254.2 323.9,254.5 325.4,254.9 326.9,255.2 328.4,255.6 329.9,255.9 331.4,256.3 332.9,256.6 334.4,257.0 335.9,257.3 337.4,257.7 338.9,258.1 340.4,258.5 341.9,258.9 343.4,259.3 344.9,259.7 346.4,260.1 347.9,260.5 349.4,260.9 351.0,261.3 352.5,261.8 354.0,262.2 355.5,262.7 357.0,263.2 358.5,263.6 360.0,264.1 361.5,264.6 363.0,265.1 364.5,265.7 366.0,266.2 367.6,266.7 369.1,267.3 370.6,267.9 372.1,268.5 373.6,269.0 375.1,269.7 376.6,270.3 378.1,270.9 379.6,271.6 381.1,272.2 382.6,272.9 384.1,273.6 385.6,274.3 387.2,275.0 388.7,275.8 390.2,276.5 391.7,277.3 393.2,278.1 394.7,278.9 396.2,279.7 397.7,280.5 399.2,281.4 400.7,282.3 402.2,283.2 403.7,284.1 405.2,285.0 406.7,286.0 408.2,286.9 409.7,287.9 411.2,288.9 412.7,290.0 414.2,291.0 415.7,292.1 417.2,293.2 418.7,294.3 420.2,295.5 421.6,296.6 423.1,297.8 424.6,299.0 426.1,300.3 427.6,301.6 429.1,302.8 430.6,304.2 432.1,305.5 433.6,306.9 435.1,308.3 436.6,309.7 438.1,311.2 439.6,312.7 441.0,314.2 442.5,315.7 444.0,317.3 445.5,318.9 447.0,320.6 448.5,322.3 449.5,323.4 450.5,324.6 451.4,325.7 452.4,326.9 453.4,328.1 454.4,329.3 455.4,330.6 456.4,331.8 457.4,333.1 458.3,334.4 459.3,335.7 460.3,337.0 461.3,338.4 462.3,339.7 463.3,341.1 464.2,342.5 465.2,343.9 466.2,345.4 467.2,346.8 468.2,348.3 469.1,349.8 470.1,351.3 471.1,352.8 472.1,354.4 473.1,355.9 474.1,357.5 475.0,359.2 476.0,360.8 477.0,362.4 478.0,364.1 479.0,365.8 480.0,367.5 481.0,369.3 482.0,371.0 483.0,372.8 483.9,374.6 484.9,376.5 486.0,378.3 487.0,380.2 488.0,382.1 489.0,384.0 490.0,385.9 491.0,387.9 492.0,389.9 493.0,391.9 494.1,394.0 495.1,396.0 496.1,398.1 497.2,400.3 498.2,402.4 499.2,404.6 500.3,406.8 501.3,409.0 502.3,411.3 503.4,413.6 504.4,415.9 505.4,418.2 506.5,420.6 507.5,423.0 508.6,425.4 509.6,427.9 510.6,430.4 511.7,432.9 512.7,435.5 513.8,438.1 514.8,440.7 515.8,443.3 516.9,446.0 517.9,448.7 519.0,451.5 520.0,454.3 521.0,457.1 521.5,458.5 522.1,459.9 522.6,461.4 523.1,462.8 523.6,464.2 524.1,465.7 524.6,467.2 525.2,468.6 525.7,470.1 526.2,471.6 526.7,473.1 527.2,474.6 527.7,476.2 528.2,477.7 528.7,479.2 529.2,480.8 529.7,482.3 530.2,483.9 530.7,485.5 531.2,487.0 531.7,488.6 532.2,490.2 532.7,491.8 533.2,493.5 533.7,495.1 534.2,496.7 534.7,498.4 535.2,500.0 535.6,501.7 536.1,503.3 536.6,505.0 537.1,506.7 537.5,508.4 538.0,510.1 538.5,511.8 538.9,513.6 539.4,515.3 539.8,517.0 540.3,518.8 540.8,520.5 541.2,522.3 541.7,524.1 542.2,525.9 542.6,527.7 543.1,529.5 543.6,531.3 544.0,533.1 544.5,534.9 545.0,536.7 545.4,538.6 545.9,540.4 546.4,542.3 546.8,544.1 547.3,546.0 547.8,547.9 548.3,549.8 548.8,551.6 549.3,553.5 549.7,555.5 550.2,557.4 550.7,559.3 551.2,561.2 551.7,563.2 552.2,565.1 552.7,567.1 553.2,569.0 553.7,571.0 554.2,573.0 554.7,574.9 555.2,576.9 555.7,578.9 556.2,580.9 556.7,582.9 557.2,585.0 557.7,587.0 558.2,589.0 558.7,591.1 559.2,593.1 559.7,595.2 560.2,597.2 560.7,599.3 561.2,601.4 561.7,603.5 562.2,605.6 562.7,607.7 563.2,609.8 563.7,611.9 564.2,614.0 564.7,616.1 565.2,618.3 565.7,620.4 566.2,622.5 566.7,624.7 567.2,626.9 567.7,629.0 568.2,631.2 568.7,633.4 569.2,635.5 569.7,637.7 570.2,639.9 570.7,642.1 571.2,644.3 571.7,646.5 572.2,648.8 572.7,651.0 573.2,653.2 573.7,655.4 574.2,657.7 574.7,659.9 575.2,662.2 575.7,664.4 576.2,666.7 576.8,668.9 577.3,671.2 577.8,673.4 578.3,675.7 578.8,678.0 579.3,680.2 579.8,682.5 580.3,684.8 580.9,687.1 581.4,689.4 581.9,691.7 582.4,694.0 582.9,696.3 583.4,698.6 583.9,700.9 584.4,703.2 585.0,705.5 585.5,707.8 586.0,710.1 586.5,712.4 587.0,714.8 587.5,717.1 588.0,719.4 588.5,721.7 589.0,724.0 589.5,726.4 590.1,728.7 590.6,731.0 591.1,733.3 591.6,735.6 592.1,738.0 592.7,740.3 593.2,742.6 593.7,744.9 594.2,747.2 594.7,749.6 595.3,751.9 595.8,754.2 596.3,756.5 596.8,758.8 597.4,761.1 597.9,763.4 598.4,765.7 598.9,768.0 599.4,770.4 599.9,772.7 600.5,774.9 601.0,777.2 601.5,779.5 602.0,781.8 602.5,784.1 603.0,786.4 603.5,788.7 604.0,790.9 604.5,793.2 605.0,795.5 605.5,797.7 606.0,800.0 606.4,802.2 606.9,804.5 607.4,806.7 607.9,808.9 608.4,811.2 608.9,813.4 609.4,815.6 609.9,817.8 610.4,820.0 610.8,822.2 611.3,824.3 611.8,826.5 612.3,828.7 612.8,830.8 613.3,833.0 613.8,835.1 614.3,837.2 614.8,839.4 615.3,841.5 615.8,843.5 616.3,845.6 616.8,847.7 617.2,849.8 617.7,851.8 618.2,853.9 618.7,855.9 619.2,857.9 619.7,859.9 620.2,861.9 620.7,863.9 621.2,865.8 621.7,867.8 622.2,869.7 622.7,871.7 623.2,873.6 623.7,875.5 624.2,877.4 624.6,879.2 625.1,881.1 625.6,882.9 626.1,884.8 626.5,886.6 627.0,888.4 627.5,890.2 628.0,891.9 628.4,893.7 628.9,895.4 629.4,897.1 629.9,898.8 630.4,900.5 630.8,902.2 631.3,903.8 631.8,905.4 632.3,907.0 632.8,908.6 633.2,910.2 633.7,911.7 634.2,913.3 634.7,914.8 635.2,916.3 635.7,917.7 636.2,919.2 636.7,920.6 637.7,923.4 638.7,926.1 639.7,928.7 640.7,931.2 641.7,933.6 642.7,936.0 643.7,938.2 644.7,940.4 645.7,942.4 646.8,944.4 647.8,946.2 648.8,947.9 649.8,949.6 650.8,951.1 651.8,952.5 652.9,953.9 653.9,955.1 655.4,956.7 656.9,958.0 658.4,959.1 659.9,959.9 661.5,960.5 663.0,960.8 664.5,960.7 666.0,960.5 667.5,960.1 669.0,959.4 670.5,958.6 672.1,957.6 673.6,956.4 675.1,955.1 676.6,953.5 678.1,951.8 679.1,950.6 680.1,949.3 681.1,947.9 682.1,946.5 683.1,945.0 684.1,943.4 685.1,941.8 686.1,940.1 687.1,938.3 688.1,936.4 689.1,934.5 690.1,932.6 691.1,930.6 692.1,928.5 693.1,926.4 694.1,924.2 695.1,922.0 696.1,919.7 697.1,917.4 698.1,915.0 699.1,912.5 700.1,910.1 701.1,907.6 702.1,905.0 703.2,902.4 704.2,899.8 705.1,897.1 706.1,894.4 707.1,891.7 708.1,888.9 709.1,886.1 710.1,883.2 710.6,881.8 711.1,880.4 711.6,878.9 712.1,877.5 712.6,876.0 713.1,874.6 713.6,873.1 714.0,871.6 714.5,870.2 715.0,868.7 715.5,867.2 716.0,865.7 716.5,864.2 717.0,862.7 717.5,861.2 717.9,859.6 718.4,858.1 718.9,856.6 719.4,855.1 719.9,853.5 720.4,852.0 720.8,850.5 721.3,848.9 721.8,847.4 722.3,845.8 722.8,844.3 723.3,842.7 723.7,841.2 724.2,839.6 724.7,838.0 725.2,836.5 725.7,834.9 726.2,833.3 726.6,831.8 727.1,830.2 727.6,828.6 728.1,827.1 728.6,825.5 729.1,823.9 729.6,822.3 730.1,820.8 730.5,819.2 731.0,817.6 731.5,816.0 732.0,814.4 732.5,812.9 733.0,811.3 733.5,809.7 734.0,808.1 734.5,806.6 735.0,805.0 735.5,803.4 736.0,801.8 736.5,800.3 737.0,798.7 737.5,797.1 738.0,795.5 738.5,794.0 739.0,792.4 739.5,790.8 740.0,789.3 740.6,787.7 741.1,786.1 741.6,784.6 742.1,783.0 742.6,781.4 743.1,779.9 743.6,778.3 744.1,776.8 744.6,775.2 745.1,773.7 745.7,772.1 746.2,770.6 746.7,769.0 747.2,767.5 747.7,766.0 748.2,764.4 748.7,762.9 749.2,761.4 749.7,759.8 750.2,758.3 750.7,756.8 751.2,755.3 751.7,753.7 752.2,752.2 752.7,750.7 753.2,749.2 753.7,747.7 754.2,746.2 754.7,744.7 755.2,743.2 755.7,741.7 756.2,740.2 756.7,738.7 757.2,737.2 757.7,735.7 758.2,734.2 758.7,732.7 759.2,731.3 759.6,729.8 760.1,728.3 760.6,726.8 761.1,725.4 761.6,723.9 762.1,722.5 762.6,721.0 763.1,719.6 763.6,718.1 764.1,716.7 764.6,715.3 765.1,713.8 765.6,712.4 766.1,711.0 766.6,709.6 767.6,706.8 768.6,704.0 769.6,701.2 770.7,698.4 771.7,695.7 772.7,692.9 773.8,690.2 774.8,687.6 775.9,684.9 777.0,682.3 778.1,679.6 779.1,677.0 780.2,674.4 781.3,671.9 782.4,669.3 783.5,666.8 784.6,664.3 785.7,661.8 786.8,659.3 787.9,656.9 789.0,654.4 790.0,652.0 791.1,649.6 792.1,647.2 793.2,644.8 794.2,642.5 795.3,640.1 796.3,637.8 797.3,635.4 798.3,633.1 799.3,630.8 800.3,628.5 801.3,626.3 802.2,624.0 803.2,621.8 804.2,619.6 805.1,617.3 806.1,615.2 807.0,613.0 808.0,610.8 808.9,608.7 809.9,606.5 810.8,604.4 811.8,602.3 812.7,600.2 813.6,598.1 814.6,596.1 815.5,594.0 816.4,592.0 817.4,590.0 818.3,588.0 819.3,586.0 820.2,584.0 821.2,582.1 822.1,580.2 823.0,578.3 824.0,576.4 825.0,574.5 825.9,572.6 826.9,570.7 827.8,568.9 828.8,567.1 829.7,565.3 830.7,563.5 831.7,561.7 832.6,559.9 833.6,558.2 834.5,556.5 835.5,554.7 836.5,553.0 837.4,551.3 838.4,549.6 839.4,548.0 840.3,546.3 841.3,544.7 842.3,543.1 843.3,541.4 844.2,539.8 845.2,538.3 846.2,536.7 847.2,535.1 848.2,533.6 849.2,532.1 850.1,530.6 851.1,529.1 852.1,527.6 853.1,526.1 854.2,524.6 855.2,523.2 856.2,521.8 857.2,520.4 858.2,519.0 859.2,517.6 860.3,516.2 861.3,514.8 862.3,513.5 863.3,512.1 864.4,510.8 865.4,509.5 866.4,508.2 867.5,506.9 868.5,505.6 869.5,504.4 870.6,503.1 871.6,501.9 872.6,500.6 873.7,499.4 874.7,498.2 875.7,497.0 876.7,495.8 877.8,494.6 878.8,493.4 879.8,492.2 880.8,491.0 881.8,489.9 882.9,488.7 883.9,487.6 884.9,486.4 885.9,485.3 886.9,484.2 887.9,483.1 889.4,481.4 890.9,479.8 892.4,478.1 893.9,476.5 895.4,474.9 896.9,473.4 898.4,471.8 899.9,470.3 901.4,468.7 902.9,467.2 904.4,465.7 905.9,464.3 907.4,462.8 908.9,461.4 910.4,459.9 911.9,458.5 913.4,457.1 914.9,455.8 916.4,454.4 917.9,453.1 919.4,451.7 920.9,450.4 922.4,449.1 923.9,447.8 925.4,446.6 926.9,445.3 928.4,444.1 929.9,442.9 931.4,441.6 933.0,440.5 934.5,439.3 936.0,438.1 937.5,437.0 939.0,435.8 940.5,434.7 942.1,433.6 943.6,432.5 945.1,431.4 946.6,430.4 948.1,429.3 949.7,428.3 951.2,427.3 952.7,426.2 954.2,425.2 955.7,424.2 957.2,423.2 958.8,422.2 960.3,421.3 961.8,420.3 963.3,419.3 964.8,418.4 966.3,417.5 967.8,416.5 969.3,415.6 970.8,414.7 972.3,413.8 973.8,412.9 975.3,412.0 976.8,411.1 978.3,410.2 979.8,409.3 981.3,408.4 982.8,407.6 984.3,406.7 985.8,405.8 987.3,405.0 988.8,404.2 990.3,403.3 991.8,402.5 993.3,401.7 994.8,400.9 996.3,400.1 997.7,399.3 999.2,398.5 1000.7,397.7 1002.2,396.9 1003.7,396.2 1005.2,395.4 1006.7,394.7 1008.2,393.9 1009.7,393.2 1011.2,392.4 1012.7,391.7 1014.2,391.0 1015.7,390.3 1017.1,389.6 1018.6,388.9 1020.1,388.2 1021.6,387.5 1023.1,386.8 1024.6,386.2 1026.1,385.5 1027.6,384.8 1029.1,384.2 1030.6,383.5 1032.1,382.9 1033.6,382.3 1035.1,381.6 1036.6,381.0 1038.1,380.4 1039.6,379.8 1041.1,379.2 1042.6,378.6 1044.1,378.0 1045.6,377.4 1047.1,376.8 1048.6,376.2 1050.1,375.6 1051.6,375.1 1053.1,374.5 1054.6,373.9 1056.1,373.3 1057.6,372.8 1059.1,372.2 1060.6,371.7 1062.1,371.1 1063.5,370.6 1065.0,370.0 1066.5,369.5 1068.0,368.9 1069.5,368.4 1071.0,367.9 1072.5,367.3 1074.0,366.8 1075.5,366.3 1077.0,365.8 1078.5,365.3 1080.0,364.8 1081.5,364.2 1083.0,363.7 1084.4,363.2 1085.9,362.8 1087.4,362.3 1088.9,361.8 1090.4,361.3 1091.9,360.8 1093.4,360.3 1094.9,359.9 1096.4,359.4 1097.9,358.9 1099.4,358.5 1100.9,358.0 1102.4,357.6 1103.9,357.2 1105.4,356.7 1106.9,356.3 1108.4,355.8 1109.9,355.4 1111.4,355.0 1112.9,354.6 1114.4,354.2 1115.9,353.7 1117.4,353.3 1118.9,352.9 1120.4,352.5 1121.9,352.1 1123.4,351.7 1124.9,351.3 1126.4,350.9 1127.9,350.6 1129.4,350.2 1130.9,349.8 1132.4,349.4 1133.9,349.0 1135.4,348.7 1136.9,348.3 1138.4,347.9 1139.9,347.5 1141.4,347.2 1142.9,346.8 1144.4,346.5 1145.9,346.1 1147.4,345.7 1148.9,345.4 1150.4,345.0 1151.9,344.7 1153.4,344.3 1154.9,344.0 1156.4,343.6 1157.9,343.3 1159.4,343.0 1160.9,342.6 1162.4,342.3 1163.9,342.0 1165.4,341.6 1166.9,341.3 1168.4,341.0 1169.9,340.7 1171.4,340.4 1172.9,340.1 1174.4,339.8 1175.9,339.5 1177.4,339.2 1178.9,338.9 1180.4,338.6 1181.9,338.3 1183.4,338.0 1184.9,337.7 1186.4,337.5 1187.9,337.2 1189.4,336.9 1190.9,336.7 1192.4,336.4 1193.9,336.1 1195.4,335.9 1196.9,335.6 1198.4,335.4 1199.9,335.1 1201.4,334.9 1202.9,334.7 1204.5,334.4 1206.0,334.2 1207.5,334.0 1209.0,333.7 1210.5,333.5 1212.0,333.3 1213.5,333.0 1215.0,332.8 1216.5,332.6 1218.0,332.3 1219.5,332.1 1221.0,331.9 1222.5,331.6 1224.0,331.4 1225.5,331.2 1227.0,331.0 1228.5,330.7 1230.0,330.5 1231.5,330.3 1233.0,330.0 1234.5,329.8 1236.0,329.6 1237.5,329.4 1239.0,329.1 1240.5,328.9 1242.0,328.7 1243.5,328.5 1245.0,328.2 1246.5,328.0 1248.0,327.8 1249.5,327.6 1251.0,327.4 1252.5,327.1 1254.0,326.9 1255.5,326.7 1257.0,326.5 1258.5,326.3 1260.0,326.1 1261.5,325.9 1263.0,325.6 1264.5,325.4 1266.0,325.2 1267.5,325.0 1269.0,324.8 1270.5,324.6 1272.0,324.4 1273.5,324.2 1275.0,324.0 1276.5,323.8 1278.0,323.6 1279.5,323.4 1281.0,323.2 1282.5,323.0 1284.0,322.8 1285.5,322.6 1287.0,322.4 1288.5,322.2 1290.0,322.0 1291.5,321.8 1293.0,321.6 1294.5,321.5 1296.0,321.3 1297.5,321.1 1299.0,320.9 1300.5,320.7 1302.0,320.5 1303.5,320.3 1305.0,320.2 1306.5,320.0 1308.0,319.8 1309.5,319.6 1311.0,319.4 1312.5,319.3 1314.0,319.1 1315.5,318.9 1317.0,318.7 1318.5,318.6 1320.0,318.4 1321.5,318.2 1323.0,318.0 1324.5,317.9 1326.0,317.7 1327.5,317.5 1329.0,317.4 1330.5,317.2 1332.0,317.0 1333.5,316.9 1335.0,316.7 1336.5,316.6 1338.0,316.4 1339.5,316.3 1341.0,316.1 1342.5,316.0 1344.0,315.8 1345.5,315.7 1347.0,315.5 1348.5,315.4 1350.0,315.3 1351.5,315.1 1353.1,315.0 1354.6,314.9 1356.1,314.7 1357.6,314.6 1359.1,314.5 1360.6,314.4 1362.1,314.2 1363.6,314.1 1365.1,314.0 1366.6,313.9 1368.1,313.7 1369.6,313.6 1371.1,313.5 1372.6,313.4 1374.1,313.3 1375.6,313.1 1377.1,313.0 1378.6,312.9 1380.1,312.7 1381.6,312.6 1383.1,312.5 1384.6,312.4 1386.1,312.2 1387.6,312.1 1389.1,311.9 1390.6,311.8 1392.1,311.7 1393.6,311.5 1395.1,311.4 1396.6,311.2 1398.1,311.1 1399.6,310.9 1401.1,310.8 1402.6,310.6 1404.1,310.5 1405.6,310.4 1407.1,310.2 1408.6,310.0 1410.1,309.9 1411.6,309.7 1413.1,309.6 1414.6,309.4 1416.1,309.3 1417.5,309.1 1419.0,309.0 1420.5,308.8 1422.0,308.7 1423.5,308.5 1425.0,308.4 1426.5,308.2 1428.0,308.1 1429.5,308.0 1431.0,307.8 1432.5,307.7 1434.0,307.5 1435.5,307.4 1437.0,307.2 1438.5,307.1 1440.0,307.0 1441.5,306.8 1443.0,306.7 1444.5,306.5 1446.0,306.4 1447.5,306.3 1449.0,306.1 1450.5,306.0 1452.0,305.9 1453.5,305.7 1455.0,305.6 1456.5,305.5 1458.0,305.4 1459.5,305.2 1461.0,305.1 1462.5,305.0 1464.0,304.9 1465.5,304.8 1467.0,304.6 1468.5,304.5 1470.0,304.4 1471.5,304.3 1473.0,304.2 1474.5,304.1 1476.0,303.9 1477.5,303.8 1479.0,303.7 1480.5,303.6 1482.0,303.5 1483.5,303.4 1485.0,303.3 1486.5,303.2 1488.0,303.0 1489.5,302.9 1491.0,302.8 1492.5,302.7 1494.0,302.6 1495.5,302.5 1497.0,302.4 1498.5,302.3 1500.0,302.2 1501.5,302.1 1503.0,302.0 1504.5,301.9 1506.0,301.8 1507.5,301.7 1509.0,301.6 1510.5,301.4 1512.0,301.3 1513.5,301.2 1515.0,301.2 1516.5,301.1 1518.0,301.0 1519.5,300.9 1521.0,300.8 1522.5,300.7 1524.0,300.6 1525.5,300.5 1527.0,300.4 1528.5,300.3 1530.0,300.2 1531.0,300.2" stroke="#e0d830" stroke-width="6.8" fill="none" stroke-linejoin="round"/>
<polyline points="234.0,239.8 235.5,239.8 237.0,239.8 238.5,239.9 240.0,239.9 241.5,240.0 243.0,240.1 244.5,240.1 246.0,240.2 247.5,240.2 249.0,240.3 250.5,240.4 252.0,240.4 253.5,240.5 255.0,240.6 256.5,240.7 258.0,240.7 259.5,240.8 261.0,240.9 262.5,241.0 264.0,241.1 265.5,241.2 267.0,241.3 268.5,241.4 270.0,241.5 271.5,241.6 273.0,241.7 274.5,241.8 276.0,241.9 277.5,242.0 279.0,242.1 280.5,242.2 282.0,242.3 283.5,242.5 285.0,242.6 286.5,242.7 288.0,242.8 289.5,243.0 291.0,243.1 292.5,243.2 294.0,243.4 295.5,243.5 297.0,243.7 298.5,243.8 300.0,244.0 301.5,244.1 303.0,244.3 304.5,244.4 306.0,244.6 307.5,244.8 309.0,244.9 310.5,245.1 312.0,245.3 313.5,245.5 315.0,245.7 316.5,245.9 318.0,246.1 319.5,246.3 321.0,246.5 322.5,246.7 324.0,246.9 325.5,247.1 326.9,247.3 328.4,247.6 329.9,247.8 331.4,248.0 332.9,248.3 334.4,248.5 335.9,248.8 337.4,249.0 338.9,249.3 340.4,249.6 341.9,249.8 343.4,250.1 344.9,250.4 346.4,250.6 347.9,250.9 349.4,251.2 350.9,251.5 352.4,251.8 353.9,252.1 355.4,252.4 356.9,252.7 358.4,253.0 359.8,253.3 361.3,253.6 362.8,253.9 364.3,254.3 365.8,254.6 367.3,254.9 368.8,255.3 370.3,255.6 371.8,255.9 373.3,256.3 374.8,256.6 376.3,257.0 377.8,257.4 379.3,257.7 380.8,258.1 382.3,258.5 383.9,258.8 385.4,259.2 386.9,259.6 388.4,260.0 389.9,260.4 391.4,260.8 392.9,261.2 394.4,261.6 395.9,262.1 397.4,262.5 399.0,262.9 400.5,263.4 402.0,263.8 403.5,264.3 405.0,264.7 406.5,265.2 408.0,265.7 409.6,266.2 411.1,266.7 412.6,267.2 414.1,267.8 415.6,268.3 417.2,268.8 418.7,269.4 420.2,270.0 421.7,270.5 423.2,271.1 424.8,271.7 426.3,272.4 427.8,273.0 429.3,273.6 430.8,274.3 432.4,275.0 433.9,275.7 435.4,276.4 436.9,277.1 438.4,277.8 439.9,278.5 441.5,279.3 443.0,280.1 444.5,280.9 446.0,281.7 447.5,282.5 449.0,283.3 450.5,284.2 452.0,285.1 453.5,286.0 455.0,286.9 456.5,287.8 458.0,288.8 459.5,289.7 461.0,290.7 462.5,291.7 464.0,292.8 465.5,293.8 466.9,294.9 468.4,296.0 469.9,297.1 471.4,298.2 472.8,299.3 474.3,300.5 475.8,301.7 477.2,302.9 478.7,304.1 480.2,305.4 481.6,306.7 483.1,308.0 484.5,309.3 486.0,310.6 487.5,311.9 488.9,313.3 490.4,314.7 491.9,316.1 493.4,317.5 494.8,318.9 496.3,320.4 497.8,321.9 499.3,323.4 500.8,324.9 502.2,326.5 503.7,328.1 505.2,329.7 506.7,331.3 508.2,332.9 509.7,334.6 510.7,335.8 511.7,336.9 512.8,338.1 513.8,339.2 514.8,340.4 515.8,341.6 516.8,342.8 517.8,344.1 518.8,345.3 519.8,346.5 520.8,347.8 521.8,349.1 522.9,350.4 523.9,351.7 524.9,353.0 525.9,354.4 526.9,355.7 527.9,357.1 529.0,358.5 530.0,359.9 531.0,361.3 532.0,362.7 533.0,364.2 534.1,365.6 535.1,367.1 536.1,368.6 537.1,370.2 538.1,371.7 539.2,373.3 540.2,374.8 541.2,376.4 542.2,378.1 543.2,379.7 544.2,381.4 545.2,383.0 546.2,384.7 547.2,386.4 548.2,388.2 549.2,389.9 550.2,391.7 551.2,393.5 552.2,395.4 553.2,397.2 554.2,399.1 555.1,401.0 556.1,402.9 557.1,404.8 558.1,406.8 559.0,408.8 560.0,410.8 561.0,412.8 562.0,414.8 562.9,416.9 563.9,419.0 564.9,421.1 565.9,423.2 566.9,425.4 567.9,427.6 568.8,429.8 569.8,432.0 570.8,434.2 571.8,436.5 572.8,438.8 573.8,441.1 574.8,443.5 575.9,445.8 576.9,448.2 577.9,450.6 578.9,453.1 579.9,455.5 580.9,458.0 581.9,460.6 582.9,463.1 583.9,465.7 584.9,468.3 585.9,470.9 586.9,473.6 587.9,476.3 588.9,479.0 589.9,481.7 590.9,484.5 591.9,487.3 592.9,490.2 593.4,491.6 593.9,493.0 594.4,494.5 594.9,495.9 595.4,497.4 595.9,498.8 596.4,500.3 596.9,501.8 597.4,503.3 597.9,504.8 598.4,506.2 598.9,507.8 599.4,509.3 599.9,510.8 600.4,512.3 600.9,513.9 601.4,515.4 601.9,516.9 602.4,518.5 602.9,520.1 603.4,521.6 604.0,523.2 604.5,524.8 605.0,526.4 605.5,528.0 606.0,529.6 606.5,531.2 607.0,532.8 607.5,534.5 608.0,536.1 608.5,537.8 609.0,539.4 609.5,541.1 610.0,542.7 610.5,544.4 611.0,546.1 611.5,547.8 612.0,549.5 612.5,551.2 613.0,552.9 613.5,554.6 614.0,556.3 614.5,558.1 615.0,559.8 615.5,561.6 616.0,563.3 616.5,565.1 617.0,566.9 617.5,568.7 618.0,570.5 618.5,572.3 619.0,574.1 619.4,575.9 619.9,577.7 620.4,579.5 620.9,581.4 621.4,583.2 621.9,585.0 622.4,586.9 622.9,588.8 623.3,590.6 623.8,592.5 624.3,594.4 624.8,596.3 625.3,598.2 625.8,600.1 626.3,602.0 626.8,603.9 627.2,605.8 627.7,607.8 628.2,609.7 628.7,611.7 629.2,613.6 629.7,615.6 630.2,617.5 630.7,619.5 631.2,621.5 631.7,623.5 632.2,625.5 632.7,627.5 633.2,629.5 633.7,631.5 634.2,633.5 634.7,635.5 635.2,637.5 635.7,639.5 636.3,641.6 636.8,643.6 637.3,645.7 637.8,647.7 638.3,649.8 638.9,651.8 639.4,653.9 639.9,656.0 640.4,658.1 641.0,660.1 641.5,662.2 642.0,664.3 642.6,666.4 643.1,668.5 643.6,670.6 644.2,672.7 644.7,674.8 645.2,677.0 645.8,679.1 646.3,681.2 646.8,683.4 647.4,685.5 647.9,687.6 648.4,689.8 648.9,692.0 649.5,694.1 650.0,696.3 650.5,698.4 651.0,700.6 651.5,702.8 652.1,705.0 652.6,707.1 653.1,709.3 653.6,711.5 654.1,713.7 654.6,715.9 655.1,718.1 655.6,720.3 656.1,722.5 656.6,724.7 657.1,726.9 657.6,729.1 658.1,731.4 658.6,733.6 659.1,735.8 659.6,738.0 660.1,740.2 660.6,742.4 661.1,744.7 661.6,746.9 662.0,749.1 662.5,751.3 663.0,753.6 663.5,755.8 664.0,758.0 664.5,760.2 665.0,762.5 665.4,764.7 665.9,766.9 666.4,769.2 666.9,771.4 667.4,773.6 667.9,775.8 668.3,778.0 668.8,780.3 669.3,782.5 669.8,784.7 670.3,786.9 670.8,789.1 671.3,791.3 671.8,793.5 672.2,795.7 672.7,797.9 673.2,800.1 673.7,802.3 674.2,804.5 674.7,806.7 675.2,808.9 675.7,811.0 676.2,813.2 676.7,815.4 677.1,817.5 677.6,819.7 678.1,821.9 678.6,824.0 679.1,826.1 679.6,828.3 680.1,830.4 680.5,832.5 681.0,834.7 681.5,836.8 682.0,838.9 682.5,841.0 682.9,843.1 683.4,845.2 683.9,847.2 684.3,849.3 684.8,851.4 685.3,853.4 685.8,855.5 686.2,857.5 686.7,859.5 687.2,861.6 687.7,863.6 688.1,865.6 688.6,867.6 689.1,869.5 689.6,871.5 690.1,873.5 690.5,875.4 691.0,877.3 691.5,879.3 692.0,881.2 692.5,883.1 693.0,885.0 693.5,886.9 694.0,888.7 694.5,890.6 695.0,892.4 695.5,894.2 696.0,896.0 696.5,897.8 697.0,899.6 697.5,901.4 698.1,903.2 698.6,904.9 699.1,906.6 699.6,908.3 700.1,910.0 700.6,911.7 701.1,913.4 701.6,915.1 702.1,916.7 702.7,918.3 703.2,919.9 703.7,921.5 704.2,923.1 704.7,924.7 705.2,926.2 705.7,927.7 706.2,929.3 706.7,930.8 707.2,932.2 707.7,933.7 708.3,935.1 708.8,936.6 709.3,938.0 710.3,940.8 711.3,943.5 712.3,946.1 713.3,948.6 714.3,951.1 715.3,953.5 716.3,955.9 717.3,958.1 718.3,960.3 719.4,962.4 720.4,964.4 721.4,966.3 722.4,968.2 723.4,970.0 724.4,971.7 725.4,973.3 726.4,974.8 727.4,976.3 728.4,977.6 729.4,978.9 730.4,980.1 731.4,981.3 733.0,982.8 734.5,984.2 736.0,985.4 737.5,986.4 739.0,987.3 740.5,988.0 742.0,988.5 743.5,988.9 745.0,989.1 746.5,989.3 748.0,989.3 749.5,989.1 751.0,988.8 752.5,988.3 754.0,987.6 755.5,986.7 757.0,985.6 758.5,984.3 760.0,982.9 761.5,981.3 762.5,980.2 763.5,979.0 764.4,977.7 765.4,976.4 766.4,974.9 767.4,973.4 768.4,971.9 769.4,970.3 770.4,968.6 771.4,966.9 772.4,965.1 773.4,963.2 774.4,961.3 775.4,959.4 776.3,957.4 777.3,955.3 778.3,953.2 779.3,951.0 780.3,948.8 781.3,946.6 782.3,944.3 783.3,941.9 784.3,939.6 785.3,937.2 786.3,934.7 787.3,932.2 788.3,929.7 789.4,927.2 790.4,924.6 791.4,922.0 792.5,919.3 793.5,916.7 794.6,914.0 795.6,911.3 796.7,908.5 797.7,905.8 798.8,903.0 799.8,900.2 800.4,898.8 800.9,897.4 801.4,896.0 801.9,894.5 802.5,893.1 803.0,891.7 803.5,890.3 804.0,888.8 804.5,887.4 805.1,885.9 805.6,884.5 806.1,883.0 806.6,881.6 807.1,880.1 807.6,878.7 808.1,877.2 808.7,875.7 809.2,874.2 809.7,872.8 810.2,871.3 810.7,869.8 811.2,868.3 811.7,866.9 812.2,865.4 812.7,863.9 813.2,862.4 813.7,860.9 814.2,859.4 814.7,857.9 815.2,856.4 815.7,854.9 816.2,853.4 816.7,852.0 817.2,850.5 817.7,849.0 818.1,847.5 818.6,846.0 819.1,844.5 819.6,843.0 820.1,841.5 820.5,839.9 821.0,838.4 821.5,836.9 822.0,835.4 822.4,833.9 822.9,832.4 823.4,830.9 823.8,829.4 824.3,827.9 824.7,826.4 825.2,824.9 825.7,823.4 826.1,821.9 826.6,820.4 827.0,818.9 827.5,817.4 827.9,815.9 828.4,814.4 828.9,812.9 829.3,811.5 829.8,810.0 830.2,808.5 830.7,807.0 831.1,805.5 831.6,804.0 832.1,802.6 832.5,801.1 833.0,799.6 833.5,798.1 833.9,796.7 834.4,795.2 834.9,793.7 835.4,792.3 835.8,790.8 836.3,789.4 836.8,787.9 837.3,786.5 837.8,785.1 838.3,783.6 838.7,782.2 839.2,780.8 839.7,779.3 840.2,777.9 840.7,776.5 841.2,775.1 842.2,772.2 843.3,769.4 844.3,766.7 845.3,763.9 846.4,761.1 847.4,758.4 848.5,755.6 849.5,752.9 850.6,750.2 851.6,747.5 852.7,744.9 853.8,742.2 854.8,739.6 855.9,736.9 856.9,734.3 858.0,731.7 859.0,729.1 860.0,726.6 861.1,724.0 862.1,721.4 863.1,718.9 864.1,716.4 865.1,713.8 866.1,711.3 867.1,708.9 868.1,706.4 869.1,703.9 870.0,701.5 871.0,699.0 872.0,696.6 873.0,694.2 874.0,691.8 874.9,689.5 875.9,687.1 876.9,684.8 877.9,682.4 878.8,680.1 879.8,677.8 880.8,675.5 881.8,673.3 882.7,671.0 883.7,668.8 884.7,666.5 885.7,664.3 886.6,662.1 887.6,660.0 888.6,657.8 889.6,655.7 890.6,653.5 891.6,651.4 892.6,649.3 893.6,647.2 894.6,645.2 895.6,643.1 896.6,641.1 897.6,639.1 898.6,637.1 899.6,635.1 900.6,633.1 901.6,631.2 902.7,629.2 903.7,627.3 904.7,625.4 905.7,623.5 906.8,621.6 907.8,619.7 908.8,617.9 909.8,616.0 910.9,614.2 911.9,612.4 912.9,610.6 914.0,608.8 915.0,607.0 916.0,605.3 917.1,603.5 918.1,601.8 919.1,600.0 920.2,598.3 921.2,596.6 922.3,595.0 923.3,593.3 924.3,591.6 925.4,590.0 926.4,588.3 927.4,586.7 928.5,585.1 929.5,583.5 930.5,581.9 931.6,580.3 932.6,578.8 933.6,577.2 934.6,575.7 935.7,574.1 936.7,572.6 937.7,571.1 938.7,569.6 939.7,568.1 940.8,566.6 941.8,565.1 942.8,563.7 943.8,562.2 944.8,560.8 945.8,559.3 946.8,557.9 947.8,556.5 948.8,555.0 949.8,553.6 950.8,552.2 951.8,550.9 952.8,549.5 953.8,548.1 954.8,546.7 955.8,545.4 956.8,544.0 957.8,542.7 958.8,541.4 959.8,540.1 960.8,538.8 961.7,537.4 962.7,536.2 963.7,534.9 964.7,533.6 965.7,532.3 966.7,531.1 967.6,529.8 968.6,528.5 969.6,527.3 970.6,526.1 971.6,524.9 972.5,523.6 973.5,522.4 974.5,521.2 975.5,520.0 976.5,518.8 977.4,517.7 978.4,516.5 979.4,515.3 980.4,514.2 981.3,513.0 982.3,511.9 983.8,510.2 985.2,508.5 986.7,506.8 988.2,505.1 989.6,503.5 991.1,501.9 992.5,500.3 994.0,498.6 995.5,497.1 996.9,495.5 998.4,493.9 999.8,492.4 1001.3,490.9 1002.8,489.4 1004.2,487.9 1005.7,486.4 1007.2,484.9 1008.7,483.5 1010.1,482.0 1011.6,480.6 1013.1,479.2 1014.6,477.8 1016.1,476.5 1017.6,475.1 1019.1,473.8 1020.5,472.4 1022.0,471.1 1023.5,469.8 1025.0,468.6 1026.5,467.3 1028.1,466.0 1029.6,464.8 1031.1,463.6 1032.6,462.4 1034.1,461.2 1035.6,460.0 1037.1,458.8 1038.6,457.6 1040.1,456.5 1041.7,455.3 1043.2,454.2 1044.7,453.1 1046.2,452.0 1047.7,450.9 1049.2,449.8 1050.7,448.7 1052.2,447.6 1053.8,446.6 1055.3,445.5 1056.8,444.5 1058.3,443.4 1059.8,442.4 1061.3,441.4 1062.8,440.3 1064.3,439.3 1065.8,438.3 1067.3,437.4 1068.8,436.4 1070.3,435.4 1071.8,434.4 1073.3,433.5 1074.8,432.5 1076.3,431.6 1077.8,430.6 1079.3,429.7 1080.8,428.8 1082.3,427.9 1083.8,427.0 1085.3,426.1 1086.9,425.2 1088.4,424.3 1089.9,423.4 1091.4,422.5 1092.9,421.7 1094.4,420.8 1095.9,420.0 1097.4,419.2 1098.9,418.3 1100.4,417.5 1101.9,416.7 1103.4,415.9 1104.9,415.1 1106.4,414.3 1107.9,413.5 1109.4,412.7 1110.9,412.0 1112.4,411.2 1113.9,410.4 1115.4,409.7 1116.9,408.9 1118.4,408.2 1120.0,407.4 1121.5,406.7 1123.0,406.0 1124.5,405.3 1126.0,404.6 1127.5,403.8 1129.0,403.1 1130.5,402.4 1132.0,401.8 1133.5,401.1 1135.0,400.4 1136.5,399.7 1138.0,399.0 1139.5,398.4 1141.0,397.7 1142.5,397.0 1144.0,396.4 1145.5,395.7 1147.0,395.1 1148.5,394.4 1150.0,393.8 1151.5,393.2 1153.0,392.5 1154.5,391.9 1156.0,391.3 1157.5,390.7 1159.0,390.1 1160.5,389.5 1162.0,388.9 1163.5,388.3 1165.0,387.7 1166.5,387.1 1168.0,386.5 1169.5,386.0 1171.0,385.4 1172.5,384.8 1174.0,384.3 1175.5,383.7 1177.0,383.2 1178.6,382.6 1180.1,382.1 1181.6,381.6 1183.1,381.1 1184.6,380.5 1186.1,380.0 1187.6,379.5 1189.1,379.0 1190.6,378.5 1192.1,378.0 1193.6,377.5 1195.1,377.0 1196.6,376.6 1198.1,376.1 1199.7,375.6 1201.2,375.1 1202.7,374.7 1204.2,374.2 1205.7,373.7 1207.2,373.3 1208.7,372.8 1210.2,372.3 1211.7,371.9 1213.2,371.4 1214.7,371.0 1216.2,370.5 1217.7,370.0 1219.2,369.6 1220.7,369.1 1222.2,368.7 1223.7,368.2 1225.2,367.7 1226.7,367.3 1228.2,366.8 1229.7,366.4 1231.2,365.9 1232.7,365.5 1234.1,365.0 1235.6,364.6 1237.1,364.1 1238.6,363.7 1240.1,363.2 1241.6,362.8 1243.1,362.4 1244.6,361.9 1246.1,361.5 1247.6,361.1 1249.1,360.6 1250.5,360.2 1252.0,359.8 1253.5,359.3 1255.0,358.9 1256.5,358.5 1258.0,358.1 1259.5,357.7 1261.0,357.3 1262.5,356.8 1264.0,356.4 1265.5,356.0 1267.0,355.6 1268.4,355.2 1269.9,354.9 1271.4,354.5 1272.9,354.1 1274.4,353.7 1275.9,353.3 1277.4,353.0 1278.9,352.6 1280.4,352.2 1281.9,351.9 1283.4,351.5 1284.9,351.2 1286.4,350.8 1287.9,350.5 1289.4,350.2 1290.9,349.8 1292.4,349.5 1293.9,349.2 1295.4,348.9 1296.9,348.6 1298.4,348.3 1299.9,348.0 1301.4,347.7 1302.9,347.4 1304.4,347.1 1305.9,346.8 1307.4,346.5 1309.0,346.2 1310.5,345.9 1312.0,345.6 1313.5,345.3 1315.0,345.1 1316.5,344.8 1318.0,344.5 1319.5,344.2 1321.0,344.0 1322.5,343.7 1324.0,343.4 1325.5,343.1 1327.0,342.9 1328.5,342.6 1330.0,342.3 1331.5,342.1 1333.0,341.8 1334.5,341.5 1336.0,341.3 1337.5,341.0 1339.0,340.7 1340.5,340.5 1342.0,340.2 1343.5,340.0 1345.0,339.7 1346.5,339.4 1348.0,339.2 1349.5,338.9 1351.0,338.7 1352.5,338.4 1354.0,338.2 1355.5,337.9 1357.0,337.7 1358.5,337.5 1360.0,337.2 1361.5,337.0 1363.0,336.7 1364.5,336.5 1366.0,336.3 1367.5,336.0 1369.0,335.8 1370.5,335.6 1372.0,335.3 1373.5,335.1 1375.0,334.9 1376.5,334.6 1378.0,334.4 1379.5,334.2 1381.0,334.0 1382.5,333.7 1384.0,333.5 1385.5,333.3 1387.0,333.1 1388.5,332.9 1390.0,332.7 1391.5,332.4 1393.0,332.2 1394.5,332.0 1396.0,331.8 1397.5,331.6 1399.0,331.4 1400.5,331.2 1402.0,331.0 1403.5,330.8 1405.0,330.6 1406.5,330.4 1408.0,330.2 1409.5,330.0 1411.0,329.8 1412.5,329.6 1414.0,329.4 1415.5,329.2 1417.0,329.0 1418.5,328.8 1420.0,328.6 1421.5,328.4 1423.0,328.2 1424.5,328.0 1426.0,327.8 1427.5,327.6 1429.0,327.5 1430.5,327.3 1432.0,327.1 1433.5,326.9 1435.0,326.7 1436.5,326.5 1438.0,326.4 1439.5,326.2 1441.0,326.0 1442.5,325.8 1444.0,325.6 1445.5,325.5 1447.0,325.3 1448.5,325.1 1450.0,324.9 1451.5,324.8 1453.0,324.6 1454.5,324.4 1456.0,324.2 1457.5,324.1 1459.0,323.9 1460.5,323.7 1462.0,323.6 1463.5,323.4 1465.0,323.2 1466.5,323.1 1468.0,322.9 1469.5,322.7 1471.0,322.6 1472.5,322.4 1474.0,322.2 1475.5,322.1 1477.0,321.9 1478.5,321.7 1480.0,321.6 1481.5,321.4 1483.0,321.3 1484.5,321.1 1486.0,320.9 1487.5,320.8 1489.0,320.6 1490.5,320.5 1492.0,320.3 1493.5,320.2 1495.0,320.0 1496.5,319.9 1498.0,319.7 1499.5,319.6 1501.0,319.4 1502.5,319.3 1504.0,319.2 1505.5,319.0 1507.0,318.9 1508.5,318.7 1510.0,318.6 1511.5,318.5 1513.0,318.3 1514.5,318.2 1516.0,318.1 1517.5,317.9 1519.0,317.8 1520.5,317.7 1522.0,317.6 1523.5,317.4 1525.0,317.3 1526.5,317.2 1528.0,317.1 1529.5,316.9 1531.0,316.8" stroke="#a0e030" stroke-width="6.8" fill="none" stroke-linejoin="round"/>
<polyline points="234.0,238.4 235.5,238.4 237.0,238.4 238.5,238.4 240.0,238.4 241.5,238.5 243.0,238.5 244.5,238.5 246.0,238.6 247.5,238.6 249.0,238.6 250.5,238.7 252.0,238.7 253.5,238.8 255.0,238.8 256.5,238.9 258.0,238.9 259.5,239.0 261.0,239.0 262.5,239.1 264.0,239.1 265.5,239.2 267.0,239.3 268.5,239.3 270.0,239.4 271.5,239.5 273.0,239.5 274.5,239.6 276.0,239.7 277.5,239.7 279.0,239.8 280.5,239.9 282.0,240.0 283.5,240.1 285.0,240.1 286.5,240.2 288.0,240.3 289.5,240.4 291.0,240.5 292.5,240.5 294.0,240.6 295.5,240.7 297.0,240.8 298.5,240.9 300.0,241.0 301.5,241.1 303.0,241.2 304.5,241.3 306.0,241.4 307.5,241.5 309.0,241.6 310.5,241.7 312.0,241.8 313.5,241.9 315.0,242.1 316.5,242.2 318.0,242.3 319.5,242.4 321.0,242.6 322.5,242.7 324.0,242.8 325.5,243.0 327.0,243.1 328.4,243.2 329.9,243.4 331.4,243.5 332.9,243.7 334.4,243.8 335.9,244.0 337.4,244.1 338.9,244.3 340.4,244.5 341.9,244.6 343.4,244.8 344.9,245.0 346.4,245.1 347.9,245.3 349.4,245.5 350.9,245.7 352.4,245.8 353.9,246.0 355.4,246.2 356.9,246.4 358.4,246.6 359.9,246.7 361.4,246.9 362.9,247.1 364.4,247.3 365.9,247.5 367.4,247.7 368.9,247.9 370.4,248.1 371.9,248.3 373.4,248.5 374.9,248.7 376.4,248.9 377.9,249.1 379.4,249.3 380.9,249.5 382.4,249.7 383.9,249.9 385.4,250.1 386.9,250.4 388.4,250.6 389.9,250.8 391.4,251.0 392.9,251.3 394.4,251.5 396.0,251.8 397.5,252.0 399.0,252.3 400.5,252.5 402.0,252.8 403.5,253.1 405.0,253.4 406.5,253.7 408.0,254.0 409.5,254.3 411.0,254.6 412.5,254.9 414.0,255.2 415.5,255.6 417.0,255.9 418.5,256.2 420.0,256.6 421.5,257.0 423.0,257.3 424.5,257.7 426.0,258.1 427.5,258.5 429.0,258.9 430.5,259.3 432.0,259.7 433.5,260.1 435.0,260.5 436.5,261.0 438.0,261.4 439.6,261.9 441.1,262.3 442.6,262.8 444.1,263.3 445.6,263.7 447.1,264.2 448.6,264.7 450.1,265.2 451.6,265.7 453.1,266.2 454.6,266.7 456.1,267.3 457.6,267.8 459.1,268.3 460.6,268.9 462.1,269.4 463.6,270.0 465.1,270.6 466.6,271.1 468.1,271.7 469.7,272.3 471.2,272.9 472.7,273.5 474.2,274.1 475.7,274.7 477.2,275.3 478.8,276.0 480.3,276.6 481.8,277.3 483.3,277.9 484.9,278.6 486.4,279.3 487.9,280.0 489.4,280.7 490.9,281.5 492.5,282.2 494.0,283.0 495.5,283.8 497.0,284.5 498.5,285.4 500.0,286.2 501.6,287.0 503.1,287.9 504.6,288.8 506.1,289.7 507.6,290.6 509.1,291.5 510.6,292.5 512.1,293.4 513.6,294.4 515.1,295.4 516.5,296.4 518.0,297.5 519.5,298.5 521.0,299.6 522.5,300.7 523.9,301.8 525.4,302.9 526.9,304.1 528.4,305.2 529.8,306.4 531.3,307.6 532.8,308.8 534.2,310.1 535.7,311.3 537.2,312.6 538.6,313.9 540.1,315.2 541.6,316.5 543.0,317.9 544.5,319.2 546.0,320.6 547.4,322.0 548.9,323.4 550.4,324.9 551.9,326.3 553.3,327.8 554.8,329.3 556.3,330.8 557.8,332.4 559.2,333.9 560.7,335.5 562.2,337.1 563.7,338.7 565.2,340.4 566.6,342.1 567.6,343.2 568.6,344.4 569.6,345.5 570.6,346.7 571.6,347.9 572.6,349.1 573.6,350.3 574.5,351.5 575.5,352.7 576.5,354.0 577.5,355.2 578.5,356.5 579.5,357.8 580.4,359.1 581.4,360.4 582.4,361.7 583.4,363.0 584.4,364.4 585.3,365.8 586.3,367.1 587.3,368.5 588.3,369.9 589.3,371.3 590.3,372.8 591.2,374.2 592.2,375.7 593.2,377.2 594.2,378.6 595.2,380.1 596.2,381.7 597.2,383.2 598.2,384.7 599.2,386.3 600.2,387.9 601.2,389.4 602.2,391.0 603.2,392.7 604.2,394.3 605.2,395.9 606.2,397.6 607.2,399.3 608.3,400.9 609.3,402.6 610.3,404.4 611.3,406.1 612.4,407.9 613.4,409.6 614.4,411.4 615.5,413.2 616.5,415.0 617.6,416.9 618.6,418.7 619.7,420.6 620.7,422.5 621.8,424.4 622.8,426.3 623.9,428.3 624.9,430.3 626.0,432.2 627.0,434.3 628.1,436.3 629.1,438.3 630.2,440.4 631.2,442.5 632.3,444.6 633.3,446.7 634.4,448.9 635.4,451.1 636.5,453.3 637.5,455.5 638.5,457.7 639.6,460.0 640.6,462.3 641.6,464.6 642.7,467.0 643.7,469.3 644.7,471.7 645.7,474.1 646.7,476.5 647.8,479.0 648.8,481.4 649.8,483.9 650.8,486.5 651.8,489.0 652.8,491.6 653.8,494.2 654.8,496.8 655.8,499.4 656.8,502.1 657.8,504.8 658.8,507.5 659.7,510.2 660.7,513.0 661.7,515.7 662.7,518.5 663.6,521.4 664.1,522.8 664.6,524.2 665.1,525.7 665.5,527.1 666.0,528.6 666.5,530.0 667.0,531.5 667.4,533.0 667.9,534.4 668.4,535.9 668.9,537.4 669.3,538.9 669.8,540.4 670.3,541.9 670.7,543.4 671.2,544.9 671.7,546.4 672.2,548.0 672.6,549.5 673.1,551.0 673.6,552.6 674.0,554.1 674.5,555.7 675.0,557.3 675.5,558.8 675.9,560.4 676.4,562.0 676.9,563.6 677.4,565.2 677.8,566.8 678.3,568.4 678.8,570.0 679.3,571.6 679.8,573.2 680.2,574.8 680.7,576.4 681.2,578.1 681.7,579.7 682.2,581.3 682.7,583.0 683.2,584.7 683.7,586.3 684.2,588.0 684.7,589.6 685.2,591.3 685.6,593.0 686.1,594.7 686.6,596.4 687.2,598.1 687.7,599.8 688.2,601.5 688.7,603.2 689.2,604.9 689.7,606.6 690.2,608.4 690.7,610.1 691.2,611.8 691.7,613.6 692.2,615.3 692.7,617.1 693.3,618.8 693.8,620.6 694.3,622.4 694.8,624.1 695.3,625.9 695.8,627.7 696.4,629.5 696.9,631.3 697.4,633.1 697.9,634.9 698.5,636.7 699.0,638.5 699.5,640.3 700.0,642.1 700.6,644.0 701.1,645.8 701.6,647.6 702.1,649.5 702.7,651.3 703.2,653.2 703.7,655.0 704.2,656.9 704.8,658.7 705.3,660.6 705.8,662.5 706.4,664.4 706.9,666.2 707.4,668.1 707.9,670.0 708.5,671.9 709.0,673.8 709.5,675.7 710.0,677.6 710.5,679.6 711.0,681.5 711.6,683.4 712.1,685.3 712.6,687.2 713.1,689.2 713.6,691.1 714.1,693.1 714.6,695.0 715.1,697.0 715.6,698.9 716.1,700.9 716.6,702.8 717.1,704.8 717.6,706.8 718.1,708.7 718.5,710.7 719.0,712.7 719.5,714.7 720.0,716.7 720.5,718.7 720.9,720.6 721.4,722.6 721.9,724.6 722.4,726.6 722.8,728.6 723.3,730.6 723.8,732.7 724.2,734.7 724.7,736.7 725.2,738.7 725.6,740.7 726.1,742.7 726.5,744.7 727.0,746.8 727.5,748.8 727.9,750.8 728.4,752.8 728.9,754.9 729.3,756.9 729.8,758.9 730.2,760.9 730.7,763.0 731.2,765.0 731.6,767.0 732.1,769.0 732.6,771.1 733.1,773.1 733.5,775.1 734.0,777.2 734.5,779.2 735.0,781.2 735.5,783.2 736.0,785.2 736.4,787.3 736.9,789.3 737.4,791.3 737.9,793.3 738.4,795.4 738.9,797.4 739.4,799.4 739.8,801.4 740.3,803.4 740.8,805.4 741.3,807.4 741.8,809.4 742.3,811.4 742.8,813.4 743.3,815.4 743.7,817.4 744.2,819.4 744.7,821.4 745.2,823.4 745.7,825.4 746.2,827.4 746.7,829.4 747.2,831.3 747.7,833.3 748.2,835.3 748.7,837.2 749.2,839.2 749.7,841.1 750.2,843.1 750.7,845.0 751.3,847.0 751.8,848.9 752.3,850.8 752.8,852.8 753.3,854.7 753.9,856.6 754.4,858.5 754.9,860.4 755.4,862.3 756.0,864.2 756.5,866.1 757.0,868.0 757.5,869.8 758.1,871.7 758.6,873.5 759.1,875.4 759.7,877.2 760.2,879.1 760.7,880.9 761.3,882.7 761.8,884.5 762.3,886.4 762.9,888.2 763.4,889.9 763.9,891.7 764.5,893.5 765.0,895.3 765.5,897.0 766.1,898.8 766.6,900.5 767.1,902.3 767.6,904.0 768.2,905.7 768.7,907.4 769.2,909.1 769.7,910.8 770.3,912.5 770.8,914.2 771.3,915.8 771.8,917.5 772.3,919.1 772.8,920.8 773.4,922.4 773.9,924.0 774.4,925.6 774.9,927.2 775.4,928.8 775.9,930.3 776.4,931.9 776.9,933.5 777.4,935.0 777.9,936.5 778.4,938.0 778.9,939.5 779.4,941.0 779.9,942.5 780.4,944.0 780.9,945.4 781.3,946.9 781.8,948.3 782.3,949.7 783.3,952.5 784.3,955.3 785.3,958.0 786.2,960.6 787.2,963.2 788.2,965.7 789.2,968.2 790.1,970.6 791.1,973.0 792.1,975.3 793.1,977.5 794.1,979.7 795.1,981.8 796.1,983.8 797.0,985.8 798.0,987.7 799.0,989.6 800.0,991.4 801.0,993.1 802.0,994.8 803.0,996.4 804.0,997.9 805.0,999.4 806.0,1000.7 807.0,1002.1 808.0,1003.3 809.0,1004.5 810.0,1005.6 811.5,1007.2 813.0,1008.6 814.5,1009.9 816.0,1011.0 817.5,1012.0 819.0,1012.8 820.5,1013.4 822.0,1014.0 823.5,1014.4 825.0,1014.6 826.5,1014.8 828.0,1014.8 829.5,1014.6 831.0,1014.1 832.5,1013.5 834.0,1012.7 835.5,1011.7 837.0,1010.6 838.5,1009.4 840.0,1008.0 841.5,1006.4 843.0,1004.8 844.0,1003.6 845.0,1002.4 846.0,1001.1 847.0,999.8 848.0,998.4 849.0,997.0 850.1,995.5 851.1,994.0 852.1,992.4 853.1,990.8 854.1,989.2 855.1,987.5 856.1,985.8 857.1,984.0 858.1,982.2 859.1,980.4 860.1,978.5 861.1,976.6 862.1,974.6 863.1,972.6 864.1,970.6 865.1,968.6 866.1,966.5 867.1,964.4 868.1,962.2 869.1,960.1 870.1,957.9 871.1,955.6 872.1,953.4 873.1,951.1 874.0,948.8 875.0,946.5 876.0,944.2 877.0,941.8 878.0,939.4 879.0,937.0 880.0,934.6 881.0,932.1 881.9,929.7 882.9,927.2 883.9,924.7 884.9,922.2 885.9,919.7 886.9,917.1 887.8,914.6 888.8,912.0 889.8,909.5 890.8,906.9 891.8,904.3 892.8,901.7 893.8,899.1 894.8,896.4 895.8,893.8 896.8,891.2 897.8,888.5 898.8,885.9 899.8,883.2 900.8,880.6 901.8,877.9 902.8,875.3 903.7,872.6 904.7,869.9 905.7,867.2 906.7,864.6 907.7,861.9 908.7,859.2 909.7,856.5 910.7,853.8 911.7,851.1 912.6,848.5 913.6,845.8 914.6,843.1 915.6,840.4 916.6,837.7 917.5,835.0 918.5,832.4 919.5,829.7 920.5,827.0 921.5,824.3 922.4,821.7 923.4,819.0 924.4,816.4 925.4,813.7 926.4,811.1 927.4,808.5 928.4,805.9 929.4,803.3 930.4,800.7 931.5,798.1 932.5,795.5 933.5,792.9 934.5,790.3 935.6,787.8 936.6,785.2 937.7,782.7 938.7,780.2 939.8,777.6 940.8,775.1 941.9,772.6 942.9,770.1 944.0,767.7 945.1,765.2 946.1,762.7 947.2,760.3 948.3,757.9 949.3,755.4 950.4,753.0 951.4,750.6 952.5,748.2 953.6,745.8 954.6,743.4 955.7,741.1 956.7,738.7 957.7,736.4 958.8,734.0 959.8,731.7 960.8,729.4 961.8,727.1 962.9,724.7 963.9,722.5 964.9,720.2 965.9,717.9 966.9,715.6 967.9,713.4 968.9,711.1 969.9,708.9 970.9,706.7 971.9,704.5 972.8,702.3 973.8,700.1 974.8,697.9 975.8,695.7 976.8,693.6 977.8,691.5 978.8,689.3 979.7,687.2 980.7,685.1 981.7,683.0 982.7,680.9 983.6,678.8 984.6,676.8 985.6,674.7 986.6,672.7 987.5,670.7 988.5,668.6 989.5,666.6 990.5,664.6 991.4,662.7 992.4,660.7 993.4,658.7 994.3,656.8 995.3,654.8 996.3,652.9 997.2,651.0 998.2,649.1 999.2,647.2 1000.1,645.3 1001.1,643.5 1002.1,641.6 1003.1,639.8 1004.0,637.9 1005.0,636.1 1006.0,634.3 1006.9,632.5 1007.9,630.7 1008.9,628.9 1009.9,627.2 1010.8,625.4 1011.8,623.7 1012.8,622.0 1013.8,620.3 1014.8,618.5 1015.7,616.9 1016.7,615.2 1017.7,613.5 1018.7,611.8 1019.7,610.2 1020.7,608.6 1021.6,606.9 1022.6,605.3 1023.6,603.7 1024.6,602.1 1025.6,600.5 1026.6,599.0 1027.6,597.4 1028.6,595.8 1029.5,594.3 1030.5,592.8 1031.5,591.3 1032.5,589.7 1033.5,588.2 1034.5,586.8 1035.5,585.3 1036.5,583.8 1037.5,582.4 1038.5,580.9 1039.5,579.5 1040.5,578.0 1041.5,576.6 1042.5,575.2 1043.5,573.8 1044.5,572.4 1045.5,571.1 1046.5,569.7 1047.5,568.3 1048.5,567.0 1049.5,565.6 1050.5,564.3 1051.5,563.0 1052.6,561.7 1053.6,560.4 1054.6,559.1 1055.6,557.8 1056.6,556.5 1057.6,555.3 1058.6,554.0 1059.6,552.8 1060.7,551.5 1061.7,550.3 1062.7,549.1 1063.7,547.9 1064.7,546.7 1065.7,545.5 1066.8,544.3 1067.8,543.1 1068.8,542.0 1069.8,540.8 1070.8,539.6 1071.8,538.5 1072.8,537.4 1073.8,536.2 1074.9,535.1 1075.9,534.0 1076.9,532.9 1078.4,531.2 1079.9,529.6 1081.4,527.9 1082.9,526.3 1084.4,524.7 1085.9,523.1 1087.4,521.5 1088.9,520.0 1090.4,518.4 1091.8,516.9 1093.3,515.4 1094.8,513.9 1096.3,512.4 1097.8,510.9 1099.3,509.4 1100.8,507.9 1102.2,506.5 1103.7,505.1 1105.2,503.7 1106.7,502.3 1108.2,500.9 1109.7,499.5 1111.2,498.2 1112.7,496.8 1114.2,495.5 1115.7,494.2 1117.2,492.9 1118.7,491.6 1120.2,490.3 1121.7,489.1 1123.2,487.8 1124.7,486.6 1126.2,485.4 1127.7,484.2 1129.2,483.0 1130.7,481.8 1132.2,480.6 1133.7,479.5 1135.2,478.3 1136.7,477.2 1138.3,476.1 1139.8,475.0 1141.3,473.9 1142.8,472.8 1144.3,471.7 1145.9,470.7 1147.4,469.6 1148.9,468.6 1150.4,467.6 1152.0,466.6 1153.5,465.6 1155.0,464.6 1156.5,463.6 1158.1,462.6 1159.6,461.7 1161.1,460.7 1162.7,459.8 1164.2,458.8 1165.7,457.9 1167.2,457.0 1168.8,456.1 1170.3,455.2 1171.8,454.3 1173.3,453.5 1174.9,452.6 1176.4,451.7 1177.9,450.8 1179.4,450.0 1181.0,449.1 1182.5,448.3 1184.0,447.4 1185.5,446.6 1187.0,445.8 1188.5,444.9 1190.0,444.1 1191.5,443.3 1193.0,442.5 1194.5,441.6 1196.0,440.8 1197.5,440.0 1199.0,439.2 1200.5,438.4 1202.0,437.6 1203.5,436.8 1205.0,436.0 1206.5,435.2 1207.9,434.4 1209.4,433.6 1210.9,432.9 1212.4,432.1 1213.9,431.3 1215.4,430.5 1216.9,429.8 1218.3,429.0 1219.8,428.3 1221.3,427.5 1222.8,426.8 1224.3,426.1 1225.8,425.3 1227.2,424.6 1228.7,423.9 1230.2,423.2 1231.7,422.5 1233.2,421.8 1234.7,421.1 1236.2,420.4 1237.6,419.7 1239.1,419.0 1240.6,418.3 1242.1,417.6 1243.6,417.0 1245.1,416.3 1246.6,415.7 1248.1,415.0 1249.6,414.3 1251.0,413.7 1252.5,413.1 1254.0,412.4 1255.5,411.8 1257.0,411.2 1258.5,410.5 1260.0,409.9 1261.5,409.3 1263.0,408.7 1264.5,408.1 1265.9,407.5 1267.4,406.9 1268.9,406.3 1270.4,405.7 1271.9,405.1 1273.4,404.5 1274.9,403.9 1276.4,403.3 1277.9,402.8 1279.4,402.2 1280.9,401.6 1282.3,401.0 1283.8,400.5 1285.3,399.9 1286.8,399.4 1288.3,398.8 1289.8,398.3 1291.3,397.7 1292.8,397.2 1294.3,396.7 1295.8,396.2 1297.3,395.6 1298.8,395.1 1300.3,394.6 1301.8,394.1 1303.3,393.6 1304.8,393.1 1306.3,392.6 1307.8,392.1 1309.3,391.6 1310.8,391.2 1312.3,390.7 1313.8,390.2 1315.3,389.8 1316.8,389.3 1318.3,388.9 1319.8,388.4 1321.3,388.0 1322.8,387.5 1324.3,387.1 1325.8,386.6 1327.4,386.2 1328.9,385.8 1330.4,385.4 1331.9,384.9 1333.4,384.5 1334.9,384.1 1336.4,383.7 1337.9,383.3 1339.4,382.8 1340.9,382.4 1342.4,382.0 1343.9,381.6 1345.4,381.2 1346.9,380.8 1348.4,380.4 1349.9,380.0 1351.4,379.6 1352.9,379.2 1354.5,378.8 1356.0,378.4 1357.5,378.0 1359.0,377.6 1360.5,377.2 1362.0,376.8 1363.5,376.4 1365.0,376.0 1366.5,375.6 1368.0,375.3 1369.5,374.9 1371.0,374.5 1372.5,374.1 1374.0,373.7 1375.5,373.3 1377.0,372.9 1378.5,372.6 1380.0,372.2 1381.5,371.8 1383.0,371.4 1384.5,371.0 1386.0,370.7 1387.5,370.3 1389.0,369.9 1390.5,369.5 1392.0,369.2 1393.5,368.8 1395.0,368.4 1396.5,368.0 1398.0,367.7 1399.5,367.3 1400.9,366.9 1402.4,366.5 1403.9,366.2 1405.4,365.8 1406.9,365.5 1408.4,365.1 1409.9,364.7 1411.4,364.4 1412.9,364.0 1414.4,363.7 1415.9,363.3 1417.4,363.0 1418.9,362.6 1420.4,362.3 1421.9,361.9 1423.4,361.6 1424.9,361.2 1426.4,360.9 1427.9,360.6 1429.4,360.2 1430.9,359.9 1432.4,359.6 1433.9,359.2 1435.4,358.9 1436.9,358.6 1438.4,358.3 1439.9,358.0 1441.4,357.6 1442.9,357.3 1444.4,357.0 1445.9,356.7 1447.4,356.4 1448.9,356.1 1450.4,355.8 1451.9,355.5 1453.4,355.2 1454.9,354.9 1456.4,354.6 1457.9,354.3 1459.4,354.0 1460.9,353.7 1462.4,353.4 1463.9,353.1 1465.4,352.8 1467.0,352.5 1468.5,352.3 1470.0,352.0 1471.5,351.7 1473.0,351.4 1474.5,351.2 1476.0,350.9 1477.5,350.6 1479.0,350.3 1480.5,350.1 1482.0,349.8 1483.5,349.5 1485.0,349.3 1486.5,349.0 1488.0,348.7 1489.5,348.4 1491.0,348.2 1492.5,347.9 1494.0,347.6 1495.5,347.4 1497.0,347.1 1498.5,346.8 1500.0,346.6 1501.5,346.3 1503.0,346.0 1504.5,345.7 1506.0,345.5 1507.5,345.2 1509.0,344.9 1510.5,344.7 1512.0,344.4 1513.5,344.1 1515.0,343.9 1516.5,343.6 1518.0,343.3 1519.5,343.1 1521.0,342.8 1522.5,342.5 1524.0,342.3 1525.5,342.0 1527.0,341.7 1528.5,341.5 1530.0,341.2 1530.5,341.1" stroke="#00dc00" stroke-width="6.8" fill="none" stroke-linejoin="round"/>
<polyline points="234.0,237.1 235.5,237.2 237.0,237.2 238.5,237.2 240.0,237.2 241.5,237.3 243.0,237.3 244.5,237.3 246.0,237.4 247.5,237.4 249.0,237.4 250.5,237.5 252.0,237.5 253.5,237.5 255.0,237.6 256.5,237.6 258.0,237.7 259.5,237.7 261.0,237.8 262.5,237.8 264.0,237.8 265.5,237.9 267.0,237.9 268.5,238.0 270.0,238.0 271.5,238.1 273.0,238.2 274.5,238.2 276.0,238.3 277.5,238.3 279.0,238.4 280.5,238.4 282.0,238.5 283.5,238.6 285.0,238.6 286.5,238.7 288.0,238.8 289.5,238.8 291.0,238.9 292.5,239.0 294.0,239.0 295.5,239.1 297.0,239.2 298.5,239.3 300.0,239.3 301.5,239.4 303.0,239.5 304.5,239.6 306.0,239.7 307.5,239.7 309.0,239.8 310.5,239.9 312.0,240.0 313.5,240.1 315.0,240.2 316.5,240.3 318.0,240.4 319.5,240.5 321.0,240.6 322.5,240.7 324.0,240.8 325.5,240.9 327.0,241.0 328.5,241.1 330.0,241.2 331.5,241.3 333.0,241.4 334.5,241.6 336.0,241.7 337.5,241.8 339.0,241.9 340.5,242.0 342.0,242.2 343.5,242.3 345.0,242.4 346.5,242.6 348.0,242.7 349.5,242.8 351.0,243.0 352.5,243.1 354.0,243.2 355.5,243.4 357.0,243.5 358.5,243.7 360.0,243.8 361.5,244.0 363.0,244.1 364.5,244.3 366.0,244.4 367.5,244.6 369.0,244.7 370.5,244.9 372.0,245.0 373.5,245.2 375.0,245.4 376.5,245.5 378.0,245.7 379.5,245.9 381.0,246.0 382.5,246.2 384.0,246.4 385.5,246.6 387.0,246.8 388.5,246.9 390.0,247.1 391.5,247.3 393.0,247.5 394.5,247.7 396.0,247.9 397.5,248.1 399.0,248.3 400.5,248.5 402.0,248.7 403.5,248.9 405.0,249.2 406.5,249.4 408.0,249.6 409.5,249.8 411.0,250.0 412.5,250.3 414.0,250.5 415.5,250.8 417.0,251.0 418.5,251.2 420.0,251.5 421.5,251.7 423.0,252.0 424.5,252.3 426.0,252.5 427.5,252.8 429.0,253.1 430.5,253.3 432.0,253.6 433.5,253.9 435.0,254.2 436.5,254.5 438.0,254.8 439.5,255.1 441.0,255.4 442.5,255.7 444.0,256.0 445.5,256.3 447.0,256.6 448.5,256.9 450.0,257.2 451.5,257.6 453.0,257.9 454.5,258.2 456.0,258.6 457.5,258.9 459.0,259.2 460.5,259.6 462.0,259.9 463.5,260.3 465.0,260.6 466.5,261.0 468.0,261.4 469.5,261.7 471.0,262.1 472.5,262.5 474.1,262.9 475.6,263.2 477.1,263.6 478.6,264.0 480.1,264.4 481.6,264.8 483.1,265.2 484.6,265.6 486.2,266.0 487.7,266.5 489.2,266.9 490.7,267.3 492.2,267.8 493.7,268.2 495.2,268.7 496.8,269.2 498.3,269.6 499.8,270.1 501.3,270.6 502.8,271.1 504.3,271.6 505.8,272.2 507.3,272.7 508.9,273.2 510.4,273.8 511.9,274.4 513.4,275.0 514.9,275.5 516.4,276.2 517.9,276.8 519.4,277.4 520.9,278.0 522.4,278.7 523.9,279.3 525.4,280.0 526.9,280.7 528.4,281.4 529.8,282.1 531.3,282.8 532.8,283.6 534.3,284.3 535.8,285.0 537.3,285.8 538.8,286.6 540.3,287.3 541.8,288.1 543.2,288.9 544.7,289.7 546.2,290.5 547.7,291.4 549.2,292.2 550.7,293.0 552.2,293.9 553.7,294.8 555.2,295.6 556.6,296.5 558.1,297.4 559.6,298.3 561.1,299.2 562.6,300.2 564.1,301.1 565.6,302.0 567.1,303.0 568.6,304.0 570.1,304.9 571.6,305.9 573.1,306.9 574.6,308.0 576.1,309.0 577.6,310.0 579.1,311.1 580.6,312.2 582.1,313.2 583.6,314.4 585.1,315.5 586.6,316.6 588.2,317.7 589.7,318.9 591.2,320.1 592.7,321.3 594.2,322.5 595.7,323.7 597.2,325.0 598.7,326.2 600.2,327.5 601.7,328.8 603.2,330.1 604.7,331.5 606.2,332.8 607.7,334.2 609.2,335.6 610.7,337.1 612.2,338.5 613.7,340.0 615.2,341.5 616.7,343.0 618.2,344.5 619.7,346.1 621.1,347.7 622.6,349.3 624.1,350.9 625.6,352.6 627.0,354.3 628.5,356.0 629.5,357.2 630.4,358.3 631.4,359.5 632.4,360.7 633.3,361.9 634.3,363.1 635.3,364.3 636.2,365.6 637.2,366.8 638.2,368.1 639.1,369.3 640.1,370.6 641.1,371.9 642.0,373.2 643.0,374.5 644.0,375.8 644.9,377.2 645.9,378.5 646.9,379.9 647.9,381.2 648.8,382.6 649.8,384.0 650.8,385.4 651.8,386.8 652.8,388.2 653.8,389.6 654.8,391.1 655.8,392.5 656.8,394.0 657.8,395.5 658.8,396.9 659.8,398.4 660.8,400.0 661.8,401.5 662.8,403.0 663.8,404.6 664.8,406.1 665.8,407.7 666.9,409.3 667.9,410.9 668.9,412.5 669.9,414.2 670.9,415.8 672.0,417.5 673.0,419.1 674.0,420.8 675.0,422.5 676.1,424.3 677.1,426.0 678.1,427.8 679.2,429.5 680.2,431.3 681.2,433.1 682.3,434.9 683.3,436.8 684.4,438.6 685.4,440.5 686.4,442.4 687.5,444.3 688.5,446.2 689.5,448.1 690.6,450.1 691.6,452.0 692.7,454.0 693.7,456.0 694.7,458.1 695.8,460.1 696.8,462.2 697.8,464.2 698.9,466.3 699.9,468.5 700.9,470.6 702.0,472.8 703.0,474.9 704.0,477.1 705.0,479.3 706.0,481.6 707.1,483.8 708.1,486.1 709.1,488.4 710.1,490.7 711.1,493.1 712.1,495.4 713.1,497.8 714.1,500.2 715.1,502.6 716.0,505.1 717.0,507.5 718.0,510.0 719.0,512.5 719.9,515.1 720.9,517.6 721.9,520.2 722.8,522.8 723.8,525.4 724.7,528.0 725.7,530.7 726.6,533.3 727.6,536.0 728.5,538.7 729.5,541.5 730.4,544.2 731.4,547.0 732.3,549.8 733.3,552.6 734.3,555.4 734.7,556.9 735.2,558.3 735.7,559.7 736.2,561.1 736.7,562.6 737.2,564.0 737.7,565.5 738.1,566.9 738.6,568.4 739.1,569.9 739.6,571.3 740.1,572.8 740.6,574.3 741.1,575.8 741.6,577.3 742.1,578.8 742.6,580.3 743.1,581.8 743.5,583.3 744.0,584.8 744.5,586.3 745.0,587.8 745.5,589.3 746.0,590.9 746.5,592.4 747.0,594.0 747.5,595.5 748.0,597.1 748.5,598.6 749.0,600.2 749.5,601.7 750.0,603.3 750.5,604.9 751.0,606.5 751.5,608.1 752.0,609.7 752.5,611.3 753.0,612.9 753.5,614.5 754.0,616.1 754.5,617.7 755.0,619.3 755.5,620.9 756.0,622.6 756.5,624.2 757.0,625.8 757.5,627.5 758.0,629.1 758.5,630.8 759.0,632.4 759.5,634.1 760.0,635.7 760.6,637.4 761.1,639.1 761.6,640.7 762.1,642.4 762.6,644.1 763.2,645.8 763.7,647.5 764.2,649.2 764.7,650.9 765.3,652.6 765.8,654.3 766.3,656.0 766.9,657.7 767.4,659.4 768.0,661.1 768.5,662.8 769.1,664.6 769.6,666.3 770.1,668.0 770.7,669.8 771.2,671.5 771.8,673.3 772.3,675.0 772.9,676.8 773.4,678.5 774.0,680.3 774.5,682.1 775.0,683.8 775.6,685.6 776.1,687.4 776.6,689.2 777.2,690.9 777.7,692.7 778.2,694.5 778.8,696.3 779.3,698.1 779.8,699.9 780.3,701.8 780.8,703.6 781.4,705.4 781.9,707.2 782.4,709.0 782.9,710.9 783.4,712.7 783.9,714.5 784.4,716.4 784.9,718.2 785.4,720.0 785.9,721.9 786.4,723.7 786.9,725.6 787.4,727.5 787.9,729.3 788.4,731.2 788.9,733.0 789.4,734.9 789.8,736.8 790.3,738.7 790.8,740.5 791.3,742.4 791.8,744.3 792.2,746.2 792.7,748.0 793.2,749.9 793.7,751.8 794.1,753.7 794.6,755.6 795.1,757.5 795.6,759.4 796.0,761.3 796.5,763.2 797.0,765.1 797.5,767.0 797.9,768.9 798.4,770.8 798.9,772.7 799.4,774.6 799.9,776.5 800.3,778.4 800.8,780.3 801.3,782.2 801.8,784.1 802.3,786.0 802.7,787.9 803.2,789.8 803.7,791.7 804.2,793.6 804.7,795.5 805.1,797.4 805.6,799.3 806.1,801.2 806.6,803.1 807.1,805.0 807.5,806.9 808.0,808.8 808.5,810.6 809.0,812.5 809.5,814.4 810.0,816.3 810.4,818.2 810.9,820.1 811.4,822.0 811.9,823.9 812.4,825.8 812.8,827.6 813.3,829.5 813.8,831.4 814.3,833.3 814.8,835.2 815.3,837.0 815.7,838.9 816.2,840.8 816.7,842.6 817.2,844.5 817.7,846.3 818.2,848.2 818.6,850.0 819.1,851.9 819.6,853.7 820.1,855.6 820.6,857.4 821.1,859.2 821.6,861.1 822.1,862.9 822.6,864.7 823.1,866.5 823.6,868.4 824.0,870.2 824.5,872.0 825.0,873.8 825.5,875.6 826.0,877.3 826.5,879.1 827.0,880.9 827.5,882.7 828.0,884.5 828.5,886.2 829.0,888.0 829.5,889.7 830.0,891.5 830.5,893.2 831.0,895.0 831.5,896.7 832.0,898.4 832.5,900.1 833.0,901.8 833.5,903.5 834.0,905.2 834.5,906.9 835.0,908.6 835.5,910.3 836.0,912.0 836.5,913.6 837.0,915.3 837.5,916.9 838.0,918.6 838.6,920.2 839.1,921.8 839.6,923.4 840.1,925.0 840.6,926.6 841.1,928.2 841.6,929.8 842.1,931.4 842.6,932.9 843.2,934.5 843.7,936.0 844.2,937.6 844.7,939.1 845.2,940.6 845.7,942.1 846.3,943.6 846.8,945.1 847.3,946.6 847.8,948.1 848.3,949.5 848.8,951.0 849.4,952.4 849.9,953.9 850.4,955.3 850.9,956.7 851.9,959.5 853.0,962.2 854.0,965.0 855.0,967.6 856.0,970.2 857.0,972.8 858.1,975.4 859.1,977.8 860.1,980.3 861.1,982.7 862.1,985.0 863.1,987.3 864.1,989.5 865.1,991.7 866.1,993.9 867.1,996.0 868.1,998.0 869.1,1000.0 870.1,1001.9 871.1,1003.8 872.1,1005.6 873.2,1007.4 874.2,1009.1 875.2,1010.8 876.2,1012.4 877.2,1013.9 878.1,1015.4 879.1,1016.8 880.1,1018.2 881.1,1019.5 882.1,1020.8 883.1,1022.0 884.1,1023.2 885.6,1024.8 887.1,1026.3 888.6,1027.6 890.1,1028.9 891.6,1030.0 893.1,1031.0 894.6,1031.8 896.0,1032.6 897.5,1033.2 899.0,1033.7 900.5,1034.1 902.0,1034.3 903.5,1034.5 905.5,1034.6 907.5,1034.4 909.0,1034.1 910.5,1033.7 912.0,1033.1 913.5,1032.3 915.0,1031.5 916.5,1030.5 918.0,1029.4 919.5,1028.2 921.0,1026.9 922.5,1025.5 924.0,1024.0 925.5,1022.4 926.5,1021.3 927.5,1020.1 928.5,1018.9 929.5,1017.6 930.5,1016.3 931.5,1015.0 932.5,1013.6 933.5,1012.2 934.5,1010.8 935.5,1009.3 936.5,1007.8 937.5,1006.3 938.5,1004.7 939.5,1003.1 940.5,1001.4 941.4,999.8 942.4,998.0 943.4,996.3 944.4,994.5 945.4,992.7 946.4,990.9 947.4,989.1 948.4,987.2 949.4,985.3 950.4,983.4 951.4,981.4 952.4,979.5 953.4,977.5 954.4,975.4 955.4,973.4 956.4,971.3 957.4,969.3 958.4,967.2 959.4,965.0 960.4,962.9 961.4,960.7 962.4,958.6 963.4,956.4 964.4,954.2 965.4,952.0 966.4,949.7 967.4,947.5 968.4,945.2 969.4,942.9 970.4,940.6 971.4,938.3 972.4,936.0 973.4,933.7 974.4,931.3 975.4,929.0 976.4,926.6 977.4,924.2 978.4,921.8 979.4,919.5 980.4,917.1 981.4,914.7 982.4,912.2 983.4,909.8 984.4,907.4 985.4,905.0 986.4,902.5 987.4,900.1 988.4,897.7 989.5,895.2 990.5,892.8 991.5,890.3 992.5,887.8 993.5,885.4 994.5,882.9 995.5,880.5 996.5,878.0 997.5,875.5 998.5,873.1 999.6,870.6 1000.6,868.2 1001.6,865.7 1002.6,863.3 1003.6,860.8 1004.7,858.3 1005.7,855.9 1006.7,853.4 1007.7,851.0 1008.8,848.6 1009.8,846.1 1010.8,843.7 1011.8,841.2 1012.9,838.8 1013.9,836.4 1014.9,833.9 1015.9,831.5 1016.9,829.1 1017.9,826.7 1018.9,824.3 1019.9,821.9 1020.9,819.5 1021.9,817.1 1022.9,814.7 1023.9,812.3 1024.9,809.9 1025.8,807.5 1026.8,805.1 1027.8,802.8 1028.8,800.4 1029.8,798.0 1030.7,795.7 1031.7,793.3 1032.7,791.0 1033.7,788.7 1034.6,786.4 1035.6,784.0 1036.6,781.7 1037.6,779.4 1038.5,777.2 1039.5,774.9 1040.5,772.6 1041.5,770.4 1042.5,768.1 1043.5,765.9 1044.5,763.7 1045.5,761.4 1046.5,759.2 1047.5,757.0 1048.5,754.8 1049.5,752.7 1050.5,750.5 1051.5,748.3 1052.6,746.2 1053.6,744.1 1054.6,741.9 1055.6,739.8 1056.6,737.7 1057.7,735.6 1058.7,733.6 1059.7,731.5 1060.7,729.4 1061.7,727.4 1062.8,725.3 1063.8,723.3 1064.8,721.2 1065.8,719.2 1066.8,717.2 1067.8,715.2 1068.8,713.2 1069.8,711.2 1070.8,709.3 1071.9,707.3 1072.9,705.4 1073.8,703.4 1074.8,701.5 1075.8,699.5 1076.8,697.6 1077.8,695.7 1078.8,693.8 1079.8,691.9 1080.8,690.0 1081.7,688.2 1082.7,686.3 1083.7,684.4 1084.7,682.6 1085.6,680.7 1086.6,678.9 1087.6,677.1 1088.5,675.3 1089.5,673.5 1090.5,671.7 1091.4,669.9 1092.4,668.1 1093.4,666.3 1094.3,664.6 1095.3,662.8 1096.3,661.1 1097.2,659.4 1098.2,657.7 1099.2,656.0 1100.2,654.3 1101.2,652.6 1102.1,650.9 1103.1,649.3 1104.1,647.6 1105.1,646.0 1106.1,644.4 1107.1,642.7 1108.1,641.1 1109.1,639.5 1110.1,638.0 1111.1,636.4 1112.1,634.8 1113.1,633.3 1114.1,631.7 1115.1,630.2 1116.2,628.7 1117.2,627.1 1118.2,625.6 1119.2,624.1 1120.2,622.7 1121.2,621.2 1122.2,619.7 1123.2,618.2 1124.2,616.8 1125.2,615.3 1126.2,613.9 1127.2,612.5 1128.2,611.1 1129.3,609.6 1130.3,608.2 1131.3,606.8 1132.3,605.4 1133.3,604.1 1134.3,602.7 1135.3,601.3 1136.3,600.0 1137.3,598.6 1138.3,597.3 1139.3,595.9 1140.2,594.6 1141.2,593.3 1142.2,592.0 1143.2,590.6 1144.2,589.3 1145.2,588.1 1146.2,586.8 1147.2,585.5 1148.2,584.2 1149.2,583.0 1150.2,581.7 1151.2,580.4 1152.2,579.2 1153.2,578.0 1154.1,576.7 1155.1,575.5 1156.1,574.3 1157.1,573.1 1158.1,571.9 1159.1,570.7 1160.1,569.5 1161.1,568.4 1162.1,567.2 1163.1,566.0 1164.1,564.9 1165.1,563.8 1166.1,562.6 1167.1,561.5 1168.1,560.4 1169.6,558.7 1171.2,557.1 1172.7,555.4 1174.2,553.8 1175.7,552.2 1177.2,550.7 1178.8,549.1 1180.3,547.5 1181.8,546.0 1183.3,544.5 1184.9,543.0 1186.4,541.5 1187.9,540.0 1189.4,538.6 1191.0,537.1 1192.5,535.7 1194.0,534.2 1195.5,532.8 1197.1,531.4 1198.6,530.0 1200.1,528.7 1201.6,527.3 1203.1,525.9 1204.7,524.6 1206.2,523.3 1207.7,521.9 1209.2,520.6 1210.7,519.3 1212.2,518.0 1213.7,516.7 1215.2,515.5 1216.7,514.2 1218.3,512.9 1219.8,511.7 1221.3,510.5 1222.8,509.2 1224.3,508.0 1225.8,506.8 1227.3,505.6 1228.8,504.4 1230.3,503.2 1231.8,502.1 1233.3,500.9 1234.8,499.7 1236.3,498.6 1237.8,497.5 1239.3,496.3 1240.8,495.2 1242.3,494.1 1243.8,493.0 1245.3,491.9 1246.8,490.8 1248.3,489.7 1249.8,488.7 1251.3,487.6 1252.8,486.6 1254.3,485.5 1255.8,484.5 1257.3,483.5 1258.8,482.5 1260.3,481.5 1261.8,480.5 1263.3,479.5 1264.8,478.5 1266.3,477.5 1267.8,476.6 1269.3,475.6 1270.8,474.6 1272.3,473.7 1273.8,472.8 1275.3,471.8 1276.8,470.9 1278.3,470.0 1279.8,469.1 1281.3,468.1 1282.8,467.2 1284.3,466.4 1285.8,465.5 1287.3,464.6 1288.7,463.7 1290.2,462.8 1291.7,462.0 1293.2,461.1 1294.7,460.2 1296.2,459.4 1297.7,458.5 1299.2,457.7 1300.7,456.9 1302.2,456.0 1303.7,455.2 1305.2,454.4 1306.7,453.6 1308.2,452.8 1309.7,451.9 1311.1,451.1 1312.6,450.3 1314.1,449.5 1315.6,448.8 1317.1,448.0 1318.6,447.2 1320.1,446.4 1321.6,445.6 1323.1,444.9 1324.6,444.1 1326.0,443.4 1327.5,442.6 1329.0,441.9 1330.5,441.1 1332.0,440.4 1333.5,439.6 1335.0,438.9 1336.5,438.2 1338.0,437.5 1339.5,436.8 1341.0,436.1 1342.5,435.4 1343.9,434.7 1345.4,434.0 1346.9,433.3 1348.4,432.6 1349.9,431.9 1351.4,431.2 1352.9,430.6 1354.4,429.9 1355.9,429.2 1357.4,428.6 1358.9,427.9 1360.4,427.3 1361.9,426.6 1363.4,426.0 1364.9,425.4 1366.4,424.7 1367.9,424.1 1369.4,423.5 1370.9,422.9 1372.4,422.2 1373.9,421.6 1375.4,421.0 1376.9,420.4 1378.4,419.8 1379.9,419.2 1381.4,418.6 1382.9,418.0 1384.4,417.5 1385.9,416.9 1387.4,416.3 1388.9,415.7 1390.4,415.1 1391.9,414.6 1393.4,414.0 1394.9,413.5 1396.4,412.9 1397.9,412.3 1399.4,411.8 1400.9,411.3 1402.4,410.7 1403.9,410.2 1405.4,409.6 1406.9,409.1 1408.4,408.6 1409.9,408.1 1411.4,407.5 1412.9,407.0 1414.4,406.5 1415.9,406.0 1417.4,405.5 1418.9,405.0 1420.4,404.5 1421.9,404.0 1423.4,403.5 1424.9,403.0 1426.4,402.5 1427.9,402.0 1429.4,401.6 1430.9,401.1 1432.4,400.6 1433.9,400.1 1435.4,399.6 1436.9,399.2 1438.4,398.7 1440.0,398.2 1441.5,397.7 1443.0,397.3 1444.5,396.8 1446.0,396.4 1447.5,395.9 1449.0,395.4 1450.5,395.0 1452.0,394.5 1453.5,394.1 1455.0,393.6 1456.5,393.1 1458.0,392.7 1459.5,392.2 1461.0,391.8 1462.5,391.4 1464.0,390.9 1465.5,390.5 1467.0,390.0 1468.5,389.6 1470.0,389.2 1471.5,388.7 1473.0,388.3 1474.5,387.9 1476.0,387.4 1477.5,387.0 1479.0,386.6 1480.5,386.2 1482.0,385.7 1483.5,385.3 1485.0,384.9 1486.5,384.5 1488.0,384.1 1489.5,383.7 1491.0,383.3 1492.5,382.9 1494.0,382.5 1495.5,382.1 1497.0,381.7 1498.5,381.3 1500.0,380.9 1501.5,380.5 1503.0,380.1 1504.5,379.7 1506.0,379.4 1507.5,379.0 1509.0,378.6 1510.5,378.2 1512.0,377.8 1513.5,377.4 1515.0,377.1 1516.6,376.7 1518.1,376.3 1519.6,375.9 1521.1,375.6 1522.6,375.2 1524.1,374.8 1525.6,374.4 1527.1,374.1 1528.6,373.7 1530.1,373.3 1530.6,373.2" stroke="#00d490" stroke-width="6.8" fill="none" stroke-linejoin="round"/>
<polyline points="234.0,236.1 235.5,236.2 237.0,236.2 238.5,236.2 240.0,236.3 241.5,236.3 243.0,236.3 244.5,236.4 246.0,236.4 247.5,236.4 249.0,236.5 250.5,236.5 252.0,236.6 253.5,236.6 255.0,236.6 256.5,236.7 258.0,236.7 259.5,236.8 261.0,236.8 262.5,236.9 264.0,236.9 265.5,237.0 267.0,237.0 268.5,237.0 270.0,237.1 271.5,237.1 273.0,237.2 274.5,237.3 276.0,237.3 277.5,237.4 279.0,237.4 280.5,237.5 282.0,237.5 283.5,237.6 285.0,237.6 286.5,237.7 288.0,237.8 289.5,237.8 291.0,237.9 292.5,237.9 294.0,238.0 295.5,238.1 297.0,238.1 298.5,238.2 300.0,238.3 301.5,238.3 303.0,238.4 304.5,238.5 306.0,238.5 307.5,238.6 309.0,238.7 310.5,238.8 312.0,238.8 313.5,238.9 315.0,239.0 316.5,239.0 318.0,239.1 319.5,239.2 321.0,239.3 322.5,239.4 324.0,239.4 325.5,239.5 327.0,239.6 328.5,239.7 330.0,239.8 331.5,239.9 333.0,240.0 334.5,240.0 336.0,240.1 337.5,240.2 339.0,240.3 340.5,240.4 342.0,240.5 343.5,240.6 345.0,240.7 346.5,240.8 348.0,240.9 349.5,241.0 351.0,241.1 352.5,241.2 354.0,241.3 355.5,241.5 357.0,241.6 358.5,241.7 360.0,241.8 361.5,241.9 363.0,242.0 364.5,242.2 366.0,242.3 367.5,242.4 369.0,242.6 370.5,242.7 372.0,242.8 373.5,243.0 375.0,243.1 376.5,243.3 378.0,243.4 379.5,243.6 381.0,243.7 382.5,243.9 384.0,244.0 385.5,244.2 387.0,244.4 388.5,244.5 390.0,244.7 391.5,244.8 393.0,245.0 394.5,245.2 396.0,245.4 397.4,245.5 398.9,245.7 400.4,245.9 401.9,246.1 403.4,246.2 404.9,246.4 406.4,246.6 407.9,246.8 409.4,247.0 410.9,247.2 412.4,247.3 413.9,247.5 415.4,247.7 416.9,247.9 418.4,248.1 419.9,248.3 421.4,248.5 422.9,248.7 424.4,248.9 425.9,249.1 427.4,249.3 428.9,249.5 430.4,249.7 431.9,249.9 433.4,250.1 434.9,250.3 436.4,250.5 437.9,250.7 439.4,250.9 440.9,251.1 442.4,251.3 443.9,251.5 445.4,251.7 446.9,251.9 448.4,252.2 449.9,252.4 451.4,252.6 452.9,252.8 454.4,253.0 455.9,253.2 457.4,253.4 458.9,253.6 460.4,253.8 461.9,254.1 463.5,254.3 465.0,254.5 466.5,254.7 468.0,254.9 469.5,255.1 471.0,255.4 472.5,255.6 474.0,255.8 475.5,256.1 477.0,256.3 478.6,256.5 480.1,256.8 481.6,257.0 483.1,257.3 484.6,257.6 486.1,257.8 487.6,258.1 489.1,258.4 490.6,258.7 492.1,259.0 493.7,259.3 495.2,259.6 496.7,259.9 498.2,260.3 499.7,260.6 501.2,261.0 502.7,261.3 504.2,261.7 505.7,262.0 507.2,262.4 508.7,262.8 510.2,263.2 511.7,263.6 513.2,264.0 514.7,264.4 516.2,264.8 517.7,265.2 519.2,265.7 520.7,266.1 522.2,266.5 523.7,267.0 525.2,267.4 526.7,267.9 528.2,268.4 529.7,268.8 531.2,269.3 532.6,269.8 534.1,270.3 535.6,270.8 537.1,271.3 538.6,271.8 540.1,272.3 541.6,272.9 543.1,273.4 544.6,273.9 546.1,274.5 547.6,275.0 549.1,275.6 550.6,276.1 552.1,276.7 553.5,277.2 555.0,277.8 556.5,278.4 558.0,279.0 559.5,279.6 561.0,280.2 562.5,280.8 564.0,281.4 565.5,282.0 567.0,282.6 568.5,283.2 570.0,283.8 571.5,284.5 573.0,285.1 574.5,285.8 576.0,286.4 577.5,287.1 579.0,287.8 580.5,288.5 582.0,289.1 583.5,289.8 585.0,290.5 586.5,291.2 588.0,292.0 589.5,292.7 591.0,293.4 592.5,294.2 594.0,294.9 595.5,295.7 597.1,296.4 598.6,297.2 600.1,298.0 601.6,298.8 603.1,299.6 604.6,300.4 606.1,301.3 607.6,302.1 609.1,303.0 610.6,303.8 612.1,304.7 613.6,305.6 615.2,306.5 616.7,307.4 618.2,308.3 619.7,309.3 621.2,310.2 622.7,311.2 624.2,312.2 625.7,313.2 627.2,314.2 628.7,315.2 630.2,316.2 631.7,317.2 633.3,318.3 634.8,319.4 636.3,320.4 637.8,321.5 639.3,322.7 640.8,323.8 642.3,324.9 643.8,326.1 645.3,327.3 646.8,328.5 648.3,329.7 649.8,330.9 651.3,332.1 652.8,333.4 654.3,334.6 655.8,335.9 657.3,337.3 658.8,338.6 660.3,339.9 661.8,341.3 663.3,342.7 664.8,344.1 666.3,345.5 667.7,347.0 669.2,348.4 670.7,349.9 672.2,351.4 673.6,352.9 675.1,354.5 676.6,356.1 678.0,357.6 679.5,359.3 681.0,360.9 682.4,362.6 683.9,364.2 685.3,365.9 686.8,367.6 687.7,368.8 688.7,370.0 689.7,371.2 690.6,372.3 691.6,373.5 692.6,374.7 693.5,376.0 694.5,377.2 695.5,378.4 696.4,379.7 697.4,380.9 698.4,382.2 699.3,383.5 700.3,384.7 701.3,386.0 702.2,387.3 703.2,388.6 704.2,390.0 705.1,391.3 706.1,392.6 707.1,394.0 708.1,395.3 709.1,396.7 710.1,398.1 711.0,399.5 712.0,400.9 713.0,402.3 714.0,403.7 715.0,405.1 716.0,406.6 717.0,408.0 718.0,409.5 719.0,410.9 720.0,412.4 721.0,413.9 722.1,415.4 723.1,416.9 724.1,418.4 725.1,420.0 726.1,421.5 727.2,423.1 728.2,424.6 729.2,426.2 730.3,427.8 731.3,429.4 732.4,431.0 733.4,432.7 734.5,434.3 735.5,435.9 736.5,437.6 737.6,439.3 738.6,441.0 739.7,442.7 740.8,444.4 741.8,446.2 742.9,447.9 743.9,449.7 745.0,451.5 746.0,453.3 747.0,455.1 748.1,456.9 749.1,458.7 750.2,460.6 751.2,462.5 752.2,464.4 753.3,466.3 754.3,468.2 755.3,470.2 756.4,472.1 757.4,474.1 758.4,476.1 759.4,478.1 760.4,480.1 761.4,482.2 762.4,484.2 763.4,486.3 764.4,488.4 765.4,490.5 766.4,492.7 767.4,494.8 768.4,497.0 769.4,499.2 770.4,501.4 771.3,503.6 772.3,505.8 773.3,508.1 774.3,510.4 775.2,512.6 776.2,514.9 777.2,517.3 778.1,519.6 779.1,521.9 780.1,524.3 781.0,526.7 782.0,529.1 783.0,531.5 783.9,534.0 784.9,536.4 785.9,538.9 786.8,541.4 787.8,543.9 788.8,546.4 789.8,548.9 790.7,551.4 791.7,554.0 792.7,556.6 793.7,559.2 794.7,561.8 795.7,564.4 796.7,567.0 797.7,569.7 798.7,572.4 799.7,575.0 800.7,577.7 801.7,580.5 802.7,583.2 803.8,585.9 804.8,588.7 805.8,591.5 806.8,594.3 807.8,597.1 808.3,598.5 808.8,599.9 809.3,601.3 809.8,602.8 810.3,604.2 810.9,605.6 811.4,607.1 811.9,608.5 812.4,610.0 812.9,611.4 813.4,612.9 813.9,614.3 814.4,615.8 814.9,617.3 815.4,618.7 815.9,620.2 816.4,621.7 816.9,623.2 817.4,624.7 817.9,626.1 818.4,627.6 818.9,629.1 819.4,630.6 819.9,632.1 820.4,633.7 820.9,635.2 821.4,636.7 821.9,638.2 822.4,639.7 822.9,641.3 823.4,642.8 823.9,644.3 824.5,645.9 825.0,647.4 825.5,648.9 826.0,650.5 826.5,652.0 827.0,653.6 827.5,655.2 828.1,656.7 828.6,658.3 829.1,659.8 829.6,661.4 830.1,663.0 830.6,664.6 831.2,666.1 831.7,667.7 832.2,669.3 832.7,670.9 833.3,672.5 833.8,674.1 834.3,675.7 834.8,677.3 835.3,678.9 835.9,680.5 836.4,682.1 836.9,683.7 837.4,685.4 837.9,687.0 838.4,688.6 839.0,690.2 839.5,691.9 840.0,693.5 840.5,695.2 841.0,696.8 841.5,698.4 842.0,700.1 842.5,701.7 843.0,703.4 843.5,705.1 844.0,706.7 844.5,708.4 845.0,710.1 845.5,711.7 846.0,713.4 846.5,715.1 847.0,716.8 847.5,718.4 848.0,720.1 848.5,721.8 849.0,723.5 849.4,725.2 849.9,726.9 850.4,728.6 850.9,730.3 851.4,732.0 851.9,733.7 852.3,735.4 852.8,737.1 853.3,738.8 853.8,740.5 854.3,742.3 854.7,744.0 855.2,745.7 855.7,747.4 856.2,749.1 856.7,750.9 857.1,752.6 857.6,754.3 858.1,756.0 858.6,757.8 859.1,759.5 859.6,761.2 860.0,763.0 860.5,764.7 861.0,766.4 861.5,768.2 862.0,769.9 862.5,771.6 863.0,773.4 863.5,775.1 864.0,776.8 864.5,778.6 865.0,780.3 865.5,782.0 866.0,783.8 866.5,785.5 867.0,787.3 867.5,789.0 868.0,790.7 868.5,792.5 869.0,794.2 869.5,796.0 870.0,797.7 870.5,799.4 871.0,801.2 871.5,802.9 872.0,804.7 872.5,806.4 873.0,808.2 873.5,809.9 874.0,811.6 874.5,813.4 875.0,815.1 875.5,816.8 876.0,818.6 876.5,820.3 877.0,822.1 877.5,823.8 878.0,825.5 878.5,827.3 879.0,829.0 879.5,830.7 880.0,832.5 880.5,834.2 881.0,835.9 881.5,837.6 882.0,839.4 882.5,841.1 883.0,842.8 883.5,844.5 884.0,846.2 884.5,847.9 885.0,849.6 885.5,851.4 886.0,853.1 886.6,854.8 887.1,856.5 887.6,858.2 888.1,859.9 888.6,861.6 889.1,863.3 889.6,864.9 890.1,866.6 890.6,868.3 891.1,870.0 891.6,871.7 892.1,873.4 892.7,875.0 893.2,876.7 893.7,878.4 894.2,880.0 894.7,881.7 895.2,883.4 895.7,885.0 896.2,886.7 896.7,888.3 897.1,890.0 897.6,891.6 898.1,893.3 898.6,894.9 899.1,896.5 899.6,898.1 900.1,899.8 900.6,901.4 901.1,903.0 901.6,904.6 902.1,906.2 902.5,907.8 903.0,909.4 903.5,911.0 904.0,912.6 904.5,914.2 905.0,915.7 905.5,917.3 906.0,918.9 906.5,920.4 907.0,922.0 907.4,923.5 907.9,925.1 908.4,926.6 908.9,928.2 909.4,929.7 909.9,931.2 910.4,932.7 910.9,934.2 911.4,935.7 911.9,937.2 912.4,938.7 912.9,940.2 913.4,941.7 913.9,943.1 914.4,944.6 914.9,946.0 915.4,947.5 915.9,948.9 916.4,950.4 916.8,951.8 917.3,953.2 918.3,956.0 919.3,958.8 920.3,961.6 921.3,964.3 922.3,967.0 923.3,969.6 924.3,972.3 925.3,974.9 926.3,977.4 927.2,980.0 928.2,982.4 929.2,984.9 930.2,987.3 931.2,989.7 932.2,992.0 933.2,994.3 934.2,996.6 935.2,998.8 936.2,1001.0 937.3,1003.1 938.3,1005.2 939.3,1007.3 940.3,1009.3 941.3,1011.2 942.3,1013.1 943.3,1015.0 944.4,1016.9 945.4,1018.6 946.4,1020.4 947.4,1022.1 948.4,1023.7 949.5,1025.3 950.5,1026.9 951.5,1028.4 952.5,1029.9 953.5,1031.3 954.5,1032.7 955.5,1034.0 956.5,1035.3 957.5,1036.5 958.6,1037.7 959.6,1038.8 961.1,1040.4 962.6,1041.9 964.1,1043.3 965.6,1044.5 967.1,1045.7 968.6,1046.7 970.1,1047.7 971.6,1048.5 973.1,1049.2 974.6,1049.8 976.0,1050.3 977.5,1050.7 979.0,1051.0 980.5,1051.2 982.5,1051.3 984.5,1051.3 986.0,1051.1 987.5,1050.8 989.0,1050.4 990.4,1049.9 991.9,1049.3 993.4,1048.6 994.9,1047.8 996.4,1047.0 997.9,1046.0 999.4,1045.0 1000.9,1043.9 1002.4,1042.6 1003.9,1041.4 1005.4,1040.0 1006.9,1038.5 1008.4,1037.0 1009.9,1035.4 1011.4,1033.7 1012.4,1032.6 1013.4,1031.4 1014.4,1030.2 1015.4,1028.9 1016.4,1027.7 1017.4,1026.4 1018.5,1025.0 1019.5,1023.7 1020.5,1022.3 1021.5,1020.9 1022.5,1019.4 1023.5,1017.9 1024.5,1016.4 1025.5,1014.9 1026.6,1013.4 1027.6,1011.8 1028.6,1010.2 1029.6,1008.6 1030.6,1007.0 1031.7,1005.3 1032.7,1003.6 1033.7,1001.9 1034.7,1000.2 1035.7,998.5 1036.8,996.7 1037.8,994.9 1038.8,993.1 1039.8,991.3 1040.8,989.4 1041.8,987.6 1042.9,985.7 1043.9,983.8 1044.9,981.9 1045.9,980.0 1046.9,978.0 1047.9,976.0 1048.9,974.1 1049.9,972.1 1050.9,970.1 1051.9,968.0 1052.9,966.0 1053.9,964.0 1054.9,961.9 1055.8,959.8 1056.8,957.8 1057.8,955.7 1058.8,953.6 1059.8,951.4 1060.8,949.3 1061.7,947.2 1062.7,945.0 1063.7,942.9 1064.7,940.7 1065.7,938.6 1066.6,936.4 1067.6,934.2 1068.6,932.0 1069.6,929.9 1070.6,927.7 1071.5,925.5 1072.5,923.3 1073.5,921.0 1074.5,918.8 1075.5,916.6 1076.4,914.4 1077.4,912.2 1078.4,909.9 1079.4,907.7 1080.4,905.5 1081.3,903.3 1082.3,901.0 1083.3,898.8 1084.3,896.5 1085.2,894.3 1086.2,892.1 1087.2,889.8 1088.2,887.6 1089.2,885.4 1090.2,883.1 1091.2,880.9 1092.1,878.7 1093.1,876.4 1094.1,874.2 1095.1,872.0 1096.1,869.7 1097.1,867.5 1098.1,865.3 1099.1,863.1 1100.1,860.9 1101.1,858.6 1102.1,856.4 1103.1,854.2 1104.1,852.0 1105.1,849.8 1106.1,847.6 1107.1,845.4 1108.1,843.3 1109.1,841.1 1110.1,838.9 1111.1,836.7 1112.1,834.6 1113.1,832.4 1114.1,830.2 1115.1,828.1 1116.1,825.9 1117.1,823.8 1118.1,821.6 1119.1,819.5 1120.1,817.4 1121.1,815.2 1122.1,813.1 1123.1,811.0 1124.1,808.9 1125.1,806.8 1126.1,804.7 1127.0,802.6 1128.0,800.5 1129.0,798.4 1130.0,796.4 1131.0,794.3 1132.0,792.2 1133.0,790.2 1134.0,788.1 1135.0,786.1 1136.0,784.1 1137.0,782.0 1138.0,780.0 1139.0,778.0 1140.0,776.0 1141.0,774.0 1142.0,772.0 1143.0,770.1 1144.0,768.1 1145.1,766.1 1146.1,764.2 1147.1,762.3 1148.1,760.3 1149.2,758.4 1150.2,756.5 1151.2,754.6 1152.3,752.7 1153.3,750.8 1154.4,748.9 1155.4,747.1 1156.4,745.2 1157.5,743.3 1158.5,741.5 1159.5,739.7 1160.6,737.8 1161.6,736.0 1162.6,734.2 1163.7,732.4 1164.7,730.6 1165.7,728.8 1166.7,727.0 1167.7,725.2 1168.7,723.4 1169.8,721.6 1170.8,719.8 1171.8,718.1 1172.8,716.3 1173.8,714.6 1174.8,712.8 1175.8,711.1 1176.7,709.4 1177.7,707.6 1178.7,705.9 1179.7,704.2 1180.7,702.5 1181.7,700.8 1182.7,699.1 1183.7,697.5 1184.7,695.8 1185.7,694.1 1186.7,692.5 1187.7,690.8 1188.6,689.2 1189.6,687.5 1190.6,685.9 1191.6,684.3 1192.6,682.7 1193.6,681.1 1194.6,679.5 1195.6,677.9 1196.6,676.3 1197.6,674.8 1198.5,673.2 1199.5,671.6 1200.5,670.1 1201.5,668.6 1202.5,667.0 1203.5,665.5 1204.5,664.0 1205.5,662.5 1206.5,661.0 1207.5,659.5 1208.4,658.0 1209.4,656.5 1210.4,655.0 1211.4,653.5 1212.4,652.1 1213.4,650.6 1214.4,649.2 1215.4,647.7 1216.4,646.3 1217.4,644.9 1218.4,643.5 1219.3,642.0 1220.3,640.6 1221.3,639.2 1222.3,637.9 1223.3,636.5 1224.3,635.1 1225.3,633.7 1226.3,632.4 1227.3,631.0 1228.4,629.7 1229.4,628.4 1230.4,627.0 1231.4,625.7 1232.4,624.4 1233.4,623.1 1234.4,621.8 1235.4,620.5 1236.4,619.2 1237.4,618.0 1238.4,616.7 1239.5,615.4 1240.5,614.2 1241.5,612.9 1242.5,611.7 1243.5,610.5 1244.5,609.2 1245.5,608.0 1246.5,606.8 1247.6,605.6 1248.6,604.4 1249.6,603.2 1250.6,602.0 1251.6,600.8 1252.6,599.6 1253.6,598.4 1254.6,597.3 1255.6,596.1 1256.7,594.9 1257.7,593.8 1258.7,592.6 1259.7,591.5 1260.7,590.4 1261.7,589.2 1262.7,588.1 1263.7,587.0 1264.7,585.9 1266.2,584.2 1267.7,582.6 1269.2,580.9 1270.7,579.3 1272.2,577.7 1273.7,576.1 1275.2,574.5 1276.7,572.9 1278.2,571.3 1279.7,569.7 1281.2,568.2 1282.7,566.6 1284.2,565.1 1285.7,563.6 1287.2,562.1 1288.6,560.6 1290.1,559.1 1291.6,557.6 1293.1,556.2 1294.6,554.7 1296.1,553.3 1297.6,551.9 1299.1,550.5 1300.6,549.0 1302.1,547.6 1303.6,546.3 1305.1,544.9 1306.6,543.5 1308.1,542.2 1309.6,540.8 1311.1,539.5 1312.6,538.2 1314.1,536.8 1315.6,535.5 1317.0,534.2 1318.5,532.9 1320.0,531.7 1321.5,530.4 1323.0,529.1 1324.5,527.9 1326.0,526.6 1327.5,525.4 1329.0,524.2 1330.4,522.9 1331.9,521.7 1333.4,520.5 1334.9,519.3 1336.4,518.1 1337.9,516.9 1339.4,515.8 1340.9,514.6 1342.4,513.5 1343.8,512.3 1345.3,511.2 1346.8,510.1 1348.3,508.9 1349.8,507.8 1351.3,506.7 1352.8,505.7 1354.3,504.6 1355.8,503.5 1357.3,502.4 1358.8,501.4 1360.3,500.3 1361.8,499.3 1363.3,498.3 1364.8,497.3 1366.3,496.3 1367.8,495.3 1369.3,494.3 1370.8,493.3 1372.3,492.3 1373.8,491.3 1375.3,490.4 1376.8,489.4 1378.3,488.5 1379.8,487.5 1381.3,486.6 1382.9,485.7 1384.4,484.7 1385.9,483.8 1387.4,482.9 1388.9,482.0 1390.4,481.1 1391.9,480.2 1393.4,479.4 1394.9,478.5 1396.4,477.6 1397.9,476.8 1399.4,475.9 1400.9,475.1 1402.4,474.2 1403.9,473.4 1405.4,472.6 1407.0,471.7 1408.5,470.9 1410.0,470.1 1411.5,469.3 1413.0,468.5 1414.5,467.7 1416.0,466.9 1417.5,466.1 1419.0,465.4 1420.5,464.6 1422.0,463.8 1423.5,463.0 1425.0,462.3 1426.5,461.5 1428.0,460.8 1429.5,460.0 1431.0,459.3 1432.5,458.6 1434.0,457.8 1435.5,457.1 1437.0,456.4 1438.5,455.6 1440.0,454.9 1441.5,454.2 1443.0,453.5 1444.5,452.8 1446.0,452.1 1447.5,451.4 1449.0,450.7 1450.5,450.1 1452.0,449.4 1453.5,448.7 1455.0,448.0 1456.5,447.4 1458.0,446.7 1459.5,446.1 1461.0,445.4 1462.5,444.7 1464.0,444.1 1465.5,443.5 1467.0,442.8 1468.5,442.2 1470.0,441.6 1471.5,440.9 1473.0,440.3 1474.5,439.7 1476.0,439.1 1477.5,438.5 1479.0,437.9 1480.5,437.3 1482.0,436.7 1483.5,436.1 1485.0,435.5 1486.5,435.0 1488.0,434.4 1489.5,433.8 1491.0,433.3 1492.5,432.7 1494.0,432.1 1495.5,431.6 1497.0,431.1 1498.5,430.5 1500.0,430.0 1501.5,429.4 1503.0,428.9 1504.5,428.4 1506.0,427.9 1507.5,427.4 1509.0,426.8 1510.5,426.3 1512.0,425.8 1513.5,425.3 1515.0,424.8 1516.5,424.3 1518.0,423.9 1519.5,423.4 1521.0,422.9 1522.5,422.4 1524.0,421.9 1525.5,421.5 1527.0,421.0 1528.5,420.5 1530.0,420.1 1530.5,419.9" stroke="#00c8c8" stroke-width="6.8" fill="none" stroke-linejoin="round"/>
<polyline points="234.5,234.9 236.0,235.0 237.5,235.0 239.0,235.1 240.5,235.1 242.0,235.1 243.5,235.2 245.0,235.2 246.5,235.2 248.0,235.3 249.5,235.3 251.0,235.4 252.5,235.4 254.0,235.5 255.5,235.5 257.0,235.5 258.5,235.6 260.0,235.6 261.5,235.7 263.0,235.7 264.5,235.8 266.0,235.8 267.5,235.8 269.0,235.9 270.5,235.9 272.0,236.0 273.5,236.0 275.0,236.1 276.5,236.1 278.0,236.2 279.5,236.2 281.0,236.3 282.5,236.3 284.0,236.4 285.5,236.4 287.0,236.5 288.5,236.5 290.0,236.6 291.5,236.7 293.0,236.7 294.5,236.8 296.0,236.8 297.5,236.9 299.0,236.9 300.5,237.0 302.0,237.1 303.5,237.1 305.0,237.2 306.5,237.3 308.0,237.3 309.5,237.4 311.0,237.5 312.5,237.5 314.0,237.6 315.5,237.7 317.0,237.7 318.5,237.8 320.0,237.9 321.5,237.9 323.0,238.0 324.5,238.1 326.0,238.2 327.5,238.2 329.0,238.3 330.5,238.4 332.0,238.5 333.5,238.5 335.0,238.6 336.5,238.7 338.0,238.8 339.5,238.9 341.0,238.9 342.5,239.0 344.0,239.1 345.5,239.2 347.0,239.3 348.5,239.4 350.0,239.5 351.5,239.5 353.0,239.6 354.5,239.7 356.0,239.8 357.5,239.9 359.0,240.0 360.5,240.1 362.0,240.2 363.5,240.3 365.0,240.4 366.5,240.5 368.0,240.6 369.5,240.7 371.0,240.8 372.5,240.9 374.0,241.0 375.5,241.1 377.0,241.2 378.5,241.3 380.0,241.4 381.5,241.5 383.0,241.6 384.5,241.7 386.0,241.8 387.5,242.0 389.0,242.1 390.5,242.2 392.0,242.3 393.5,242.4 395.0,242.5 396.5,242.6 398.0,242.8 399.5,242.9 401.0,243.0 402.5,243.1 404.0,243.3 405.5,243.4 407.0,243.5 408.5,243.7 410.0,243.8 411.5,243.9 413.0,244.1 414.5,244.2 416.0,244.3 417.5,244.5 419.0,244.6 420.5,244.8 422.0,244.9 423.5,245.1 425.0,245.2 426.5,245.4 428.0,245.5 429.5,245.7 431.0,245.8 432.5,246.0 434.0,246.1 435.5,246.3 437.0,246.5 438.5,246.6 440.0,246.8 441.5,247.0 443.0,247.1 444.5,247.3 446.0,247.5 447.5,247.7 449.0,247.8 450.5,248.0 452.0,248.2 453.5,248.4 455.0,248.5 456.5,248.7 458.0,248.9 459.5,249.1 461.0,249.3 462.5,249.5 464.0,249.6 465.5,249.8 467.0,250.0 468.6,250.2 470.1,250.4 471.6,250.6 473.1,250.8 474.6,251.0 476.1,251.2 477.6,251.4 479.1,251.6 480.6,251.8 482.1,252.0 483.6,252.2 485.1,252.4 486.6,252.6 488.1,252.8 489.6,253.1 491.1,253.3 492.6,253.5 494.1,253.8 495.6,254.0 497.1,254.3 498.6,254.5 500.1,254.8 501.6,255.0 503.1,255.3 504.6,255.6 506.1,255.9 507.6,256.2 509.1,256.5 510.6,256.8 512.1,257.1 513.6,257.4 515.1,257.7 516.6,258.0 518.1,258.3 519.6,258.7 521.1,259.0 522.6,259.4 524.1,259.7 525.6,260.1 527.1,260.4 528.6,260.8 530.0,261.1 531.5,261.5 533.0,261.9 534.5,262.3 536.0,262.6 537.5,263.0 539.0,263.4 540.5,263.8 542.0,264.2 543.5,264.6 545.0,265.0 546.4,265.4 547.9,265.8 549.4,266.2 550.9,266.6 552.4,267.0 553.9,267.4 555.4,267.9 556.9,268.3 558.4,268.7 559.9,269.1 561.4,269.6 562.9,270.0 564.3,270.4 565.8,270.9 567.3,271.3 568.8,271.7 570.3,272.2 571.8,272.6 573.3,273.1 574.8,273.5 576.3,274.0 577.8,274.5 579.3,274.9 580.8,275.4 582.3,275.9 583.8,276.3 585.3,276.8 586.8,277.3 588.3,277.8 589.8,278.3 591.3,278.8 592.8,279.3 594.3,279.8 595.8,280.3 597.3,280.8 598.8,281.4 600.3,281.9 601.8,282.4 603.3,283.0 604.9,283.5 606.4,284.1 607.9,284.6 609.4,285.2 610.9,285.8 612.4,286.4 613.9,287.0 615.4,287.6 616.9,288.2 618.4,288.8 619.9,289.4 621.4,290.0 622.9,290.6 624.4,291.3 625.9,291.9 627.5,292.6 629.0,293.2 630.5,293.9 632.0,294.6 633.5,295.3 635.0,295.9 636.5,296.6 638.0,297.3 639.5,298.1 641.1,298.8 642.6,299.5 644.1,300.2 645.6,301.0 647.1,301.7 648.6,302.5 650.2,303.3 651.7,304.0 653.2,304.8 654.7,305.6 656.2,306.4 657.8,307.2 659.3,308.1 660.8,308.9 662.3,309.7 663.9,310.6 665.4,311.5 666.9,312.4 668.4,313.3 670.0,314.2 671.5,315.1 673.0,316.0 674.5,317.0 676.0,317.9 677.5,318.9 679.1,319.9 680.6,320.9 682.1,321.9 683.6,323.0 685.1,324.0 686.6,325.1 688.1,326.1 689.6,327.2 691.1,328.3 692.6,329.5 694.1,330.6 695.6,331.8 697.1,332.9 698.6,334.1 700.1,335.3 701.6,336.5 703.1,337.8 704.5,339.0 706.0,340.3 707.5,341.6 709.0,342.9 710.5,344.2 712.0,345.5 713.4,346.8 714.9,348.2 716.4,349.6 717.9,351.0 719.3,352.4 720.8,353.8 722.3,355.3 723.7,356.7 725.2,358.2 726.7,359.7 728.1,361.3 729.6,362.8 731.0,364.4 732.5,365.9 733.9,367.5 735.4,369.1 736.8,370.8 738.3,372.4 739.7,374.1 741.2,375.8 742.6,377.5 744.1,379.2 745.0,380.4 746.0,381.5 747.0,382.7 747.9,383.9 748.9,385.1 749.9,386.3 750.8,387.5 751.8,388.7 752.8,389.9 753.7,391.2 754.7,392.4 755.7,393.7 756.7,394.9 757.7,396.2 758.6,397.4 759.6,398.7 760.6,400.0 761.6,401.3 762.6,402.6 763.6,403.9 764.6,405.2 765.6,406.5 766.6,407.9 767.6,409.2 768.7,410.6 769.7,411.9 770.7,413.3 771.7,414.7 772.7,416.0 773.8,417.4 774.8,418.8 775.8,420.2 776.8,421.7 777.9,423.1 778.9,424.6 779.9,426.0 780.9,427.5 782.0,429.0 783.0,430.5 784.0,432.0 785.1,433.5 786.1,435.0 787.1,436.6 788.1,438.1 789.1,439.7 790.2,441.3 791.2,442.9 792.2,444.5 793.2,446.1 794.2,447.7 795.2,449.4 796.3,451.0 797.3,452.7 798.3,454.4 799.3,456.1 800.3,457.8 801.3,459.5 802.3,461.2 803.3,463.0 804.3,464.8 805.3,466.5 806.3,468.3 807.3,470.1 808.4,471.9 809.4,473.8 810.4,475.6 811.4,477.4 812.4,479.3 813.4,481.2 814.4,483.1 815.4,485.0 816.4,486.9 817.4,488.8 818.4,490.8 819.4,492.7 820.4,494.7 821.4,496.7 822.4,498.7 823.5,500.7 824.5,502.7 825.5,504.8 826.5,506.8 827.5,508.9 828.5,511.0 829.5,513.1 830.5,515.2 831.5,517.3 832.5,519.4 833.5,521.6 834.5,523.7 835.6,525.9 836.6,528.1 837.6,530.3 838.6,532.5 839.6,534.8 840.6,537.0 841.6,539.3 842.6,541.6 843.6,543.9 844.6,546.2 845.6,548.5 846.6,550.8 847.7,553.2 848.7,555.5 849.7,557.9 850.7,560.3 851.7,562.7 852.7,565.1 853.7,567.6 854.7,570.0 855.7,572.5 856.7,574.9 857.8,577.4 858.8,579.9 859.8,582.5 860.8,585.0 861.8,587.5 862.8,590.1 863.8,592.7 864.9,595.2 865.9,597.8 866.9,600.5 867.9,603.1 868.9,605.7 870.0,608.4 871.0,611.0 872.0,613.7 873.0,616.4 874.0,619.1 875.0,621.9 876.1,624.6 877.1,627.3 878.1,630.1 879.1,632.9 880.1,635.7 881.1,638.5 882.1,641.3 882.6,642.7 883.1,644.1 883.6,645.5 884.1,647.0 884.6,648.4 885.1,649.8 885.6,651.3 886.1,652.7 886.6,654.1 887.1,655.6 887.6,657.0 888.1,658.5 888.6,659.9 889.1,661.4 889.6,662.8 890.1,664.3 890.6,665.8 891.1,667.2 891.6,668.7 892.1,670.2 892.5,671.6 893.0,673.1 893.5,674.6 894.0,676.1 894.5,677.6 895.0,679.1 895.5,680.6 896.0,682.1 896.5,683.6 897.0,685.1 897.4,686.6 897.9,688.1 898.4,689.6 898.9,691.1 899.4,692.6 899.9,694.1 900.4,695.7 900.9,697.2 901.3,698.7 901.8,700.2 902.3,701.8 902.8,703.3 903.3,704.8 903.8,706.4 904.2,707.9 904.7,709.5 905.2,711.0 905.7,712.5 906.2,714.1 906.7,715.6 907.1,717.2 907.6,718.8 908.1,720.3 908.6,721.9 909.0,723.4 909.5,725.0 910.0,726.6 910.5,728.1 910.9,729.7 911.4,731.3 911.9,732.9 912.4,734.4 912.8,736.0 913.3,737.6 913.8,739.2 914.3,740.8 914.8,742.4 915.2,743.9 915.7,745.5 916.2,747.1 916.7,748.7 917.1,750.3 917.6,751.9 918.1,753.5 918.6,755.1 919.1,756.7 919.6,758.3 920.0,759.9 920.5,761.5 921.0,763.1 921.5,764.7 922.0,766.3 922.5,767.9 923.0,769.5 923.5,771.1 924.0,772.7 924.5,774.3 925.0,775.9 925.5,777.5 926.0,779.1 926.5,780.7 927.0,782.3 927.5,783.9 928.0,785.5 928.5,787.1 929.0,788.7 929.5,790.3 930.0,792.0 930.5,793.6 931.0,795.2 931.5,796.8 932.0,798.4 932.6,800.0 933.1,801.6 933.6,803.2 934.1,804.8 934.6,806.4 935.1,808.0 935.6,809.7 936.1,811.3 936.6,812.9 937.1,814.5 937.6,816.1 938.1,817.7 938.6,819.3 939.2,820.9 939.7,822.5 940.2,824.1 940.7,825.7 941.2,827.3 941.7,828.9 942.2,830.6 942.7,832.2 943.2,833.8 943.7,835.4 944.2,837.0 944.7,838.6 945.2,840.2 945.7,841.8 946.2,843.4 946.7,845.0 947.2,846.6 947.7,848.2 948.2,849.7 948.7,851.3 949.2,852.9 949.7,854.5 950.2,856.1 950.7,857.7 951.2,859.3 951.7,860.9 952.3,862.4 952.8,864.0 953.3,865.6 953.8,867.2 954.3,868.7 954.8,870.3 955.3,871.9 955.8,873.4 956.3,875.0 956.8,876.6 957.3,878.1 957.8,879.7 958.3,881.2 958.8,882.8 959.3,884.3 959.8,885.9 960.3,887.4 960.8,889.0 961.3,890.5 961.8,892.0 962.3,893.6 962.8,895.1 963.3,896.6 963.8,898.2 964.3,899.7 964.8,901.2 965.3,902.7 965.8,904.2 966.3,905.7 966.8,907.2 967.3,908.7 967.8,910.2 968.3,911.7 968.8,913.2 969.3,914.7 969.8,916.2 970.3,917.7 970.8,919.2 971.3,920.6 971.8,922.1 972.3,923.5 972.8,925.0 973.3,926.5 973.8,927.9 974.3,929.4 974.8,930.8 975.3,932.2 975.8,933.7 976.3,935.1 976.8,936.5 977.3,937.9 978.3,940.7 979.3,943.5 980.3,946.3 981.4,949.1 982.4,951.8 983.4,954.5 984.4,957.2 985.4,959.8 986.5,962.5 987.5,965.1 988.5,967.7 989.5,970.2 990.6,972.8 991.6,975.3 992.6,977.8 993.6,980.2 994.6,982.7 995.7,985.1 996.7,987.5 997.7,989.8 998.7,992.1 999.7,994.4 1000.7,996.7 1001.7,998.9 1002.7,1001.1 1003.7,1003.3 1004.7,1005.5 1005.7,1007.6 1006.7,1009.7 1007.7,1011.7 1008.7,1013.7 1009.7,1015.7 1010.7,1017.7 1011.6,1019.6 1012.6,1021.5 1013.6,1023.3 1014.6,1025.1 1015.6,1026.9 1016.6,1028.6 1017.6,1030.4 1018.6,1032.0 1019.6,1033.7 1020.6,1035.2 1021.6,1036.8 1022.6,1038.3 1023.6,1039.8 1024.5,1041.3 1025.5,1042.7 1026.5,1044.0 1027.5,1045.4 1028.5,1046.7 1029.5,1047.9 1030.5,1049.1 1031.5,1050.3 1032.5,1051.4 1034.0,1053.0 1035.5,1054.6 1037.0,1056.0 1038.5,1057.4 1040.0,1058.7 1041.5,1059.8 1043.0,1060.9 1044.5,1061.9 1046.0,1062.8 1047.5,1063.6 1049.0,1064.4 1050.5,1065.0 1052.0,1065.6 1053.5,1066.0 1055.0,1066.4 1056.5,1066.7 1058.0,1067.0 1059.5,1067.1 1061.0,1067.2 1063.0,1067.1 1064.5,1067.0 1066.0,1066.7 1067.5,1066.3 1069.0,1065.8 1070.5,1065.3 1072.0,1064.6 1073.5,1063.9 1075.0,1063.1 1076.5,1062.2 1078.0,1061.3 1079.5,1060.2 1081.0,1059.1 1082.5,1057.9 1084.0,1056.7 1085.5,1055.4 1087.0,1054.0 1088.5,1052.5 1090.0,1051.0 1091.5,1049.4 1093.0,1047.8 1094.0,1046.7 1095.0,1045.5 1096.0,1044.4 1097.0,1043.2 1098.0,1041.9 1099.0,1040.7 1100.0,1039.4 1101.0,1038.1 1102.0,1036.8 1103.0,1035.5 1104.0,1034.1 1105.0,1032.7 1106.0,1031.3 1107.0,1029.9 1108.0,1028.4 1109.0,1027.0 1110.0,1025.5 1111.0,1024.0 1112.0,1022.5 1113.0,1020.9 1114.0,1019.4 1115.0,1017.8 1116.0,1016.2 1117.1,1014.6 1118.1,1013.0 1119.1,1011.3 1120.1,1009.7 1121.1,1008.0 1122.1,1006.3 1123.1,1004.6 1124.1,1002.9 1125.1,1001.2 1126.1,999.4 1127.1,997.7 1128.1,995.9 1129.2,994.1 1130.2,992.3 1131.2,990.5 1132.2,988.7 1133.2,986.9 1134.2,985.0 1135.2,983.2 1136.2,981.3 1137.2,979.4 1138.2,977.6 1139.3,975.7 1140.3,973.8 1141.3,971.9 1142.3,970.0 1143.3,968.0 1144.3,966.1 1145.3,964.2 1146.3,962.2 1147.3,960.3 1148.3,958.3 1149.3,956.4 1150.4,954.4 1151.4,952.4 1152.4,950.4 1153.4,948.4 1154.4,946.4 1155.3,944.4 1156.3,942.4 1157.3,940.4 1158.3,938.4 1159.3,936.4 1160.3,934.3 1161.3,932.3 1162.2,930.3 1163.2,928.2 1164.2,926.2 1165.1,924.1 1166.1,922.1 1167.1,920.0 1168.0,918.0 1169.0,915.9 1169.9,913.8 1170.9,911.8 1171.8,909.7 1172.8,907.6 1173.7,905.6 1174.6,903.5 1175.6,901.4 1176.5,899.4 1177.5,897.3 1178.4,895.2 1179.4,893.2 1180.4,891.1 1181.3,889.1 1182.3,887.0 1183.3,885.0 1184.2,882.9 1185.2,880.9 1186.2,878.8 1187.2,876.8 1188.2,874.8 1189.2,872.7 1190.2,870.7 1191.2,868.7 1192.2,866.7 1193.2,864.7 1194.2,862.7 1195.2,860.7 1196.3,858.7 1197.3,856.7 1198.3,854.7 1199.3,852.7 1200.4,850.8 1201.4,848.8 1202.4,846.8 1203.5,844.9 1204.5,842.9 1205.5,840.9 1206.6,839.0 1207.6,837.0 1208.6,835.1 1209.7,833.2 1210.7,831.2 1211.7,829.3 1212.8,827.4 1213.8,825.5 1214.8,823.5 1215.8,821.6 1216.9,819.7 1217.9,817.8 1218.9,815.9 1219.9,814.0 1221.0,812.1 1222.0,810.2 1223.0,808.4 1224.0,806.5 1225.0,804.6 1226.0,802.7 1227.1,800.9 1228.1,799.0 1229.1,797.2 1230.1,795.3 1231.1,793.5 1232.1,791.7 1233.1,789.8 1234.1,788.0 1235.1,786.2 1236.1,784.4 1237.1,782.6 1238.1,780.8 1239.1,779.0 1240.1,777.2 1241.1,775.4 1242.1,773.6 1243.2,771.8 1244.2,770.1 1245.2,768.3 1246.2,766.6 1247.2,764.8 1248.2,763.1 1249.2,761.3 1250.2,759.6 1251.2,757.9 1252.2,756.2 1253.2,754.5 1254.2,752.8 1255.2,751.1 1256.2,749.4 1257.2,747.7 1258.2,746.0 1259.2,744.4 1260.2,742.7 1261.2,741.0 1262.2,739.4 1263.2,737.8 1264.3,736.1 1265.3,734.5 1266.3,732.9 1267.3,731.2 1268.3,729.6 1269.3,728.0 1270.3,726.4 1271.3,724.8 1272.3,723.2 1273.3,721.7 1274.3,720.1 1275.2,718.5 1276.2,716.9 1277.2,715.4 1278.2,713.8 1279.2,712.3 1280.2,710.7 1281.2,709.2 1282.2,707.7 1283.2,706.1 1284.1,704.6 1285.1,703.1 1286.1,701.6 1287.1,700.1 1288.1,698.6 1289.0,697.1 1290.0,695.6 1291.0,694.1 1292.0,692.6 1292.9,691.2 1293.9,689.7 1294.9,688.2 1295.9,686.8 1296.8,685.3 1297.8,683.9 1298.8,682.4 1299.7,681.0 1300.7,679.6 1301.7,678.2 1302.7,676.7 1303.6,675.3 1304.6,673.9 1305.6,672.5 1306.5,671.1 1307.5,669.8 1308.5,668.4 1309.5,667.0 1310.5,665.7 1311.4,664.3 1312.4,663.0 1313.4,661.6 1314.4,660.3 1315.4,659.0 1316.4,657.7 1317.4,656.4 1318.4,655.1 1319.4,653.8 1320.4,652.5 1321.4,651.2 1322.4,650.0 1323.5,648.7 1324.5,647.5 1325.5,646.2 1326.5,645.0 1327.5,643.8 1328.6,642.5 1329.6,641.3 1330.6,640.1 1331.6,638.9 1332.6,637.7 1333.7,636.5 1334.7,635.3 1335.7,634.2 1336.8,633.0 1337.8,631.8 1338.8,630.7 1339.8,629.5 1340.9,628.4 1341.9,627.2 1342.9,626.1 1343.9,624.9 1344.9,623.8 1346.0,622.7 1347.0,621.6 1348.0,620.4 1349.0,619.3 1350.1,618.2 1351.1,617.1 1352.6,615.5 1354.1,613.9 1355.7,612.2 1357.2,610.6 1358.7,609.0 1360.2,607.5 1361.8,605.9 1363.3,604.3 1364.8,602.8 1366.3,601.2 1367.8,599.7 1369.4,598.2 1370.9,596.6 1372.4,595.1 1373.9,593.6 1375.4,592.1 1376.9,590.7 1378.4,589.2 1379.9,587.7 1381.4,586.3 1382.9,584.8 1384.4,583.4 1385.9,582.0 1387.4,580.5 1388.9,579.1 1390.4,577.7 1391.9,576.3 1393.4,574.9 1394.9,573.5 1396.3,572.2 1397.8,570.8 1399.3,569.4 1400.8,568.1 1402.3,566.7 1403.8,565.4 1405.2,564.1 1406.7,562.8 1408.2,561.5 1409.7,560.2 1411.1,558.9 1412.6,557.6 1414.1,556.3 1415.6,555.0 1417.1,553.8 1418.5,552.5 1420.0,551.3 1421.5,550.0 1423.0,548.8 1424.4,547.6 1425.9,546.4 1427.4,545.2 1428.9,544.0 1430.3,542.8 1431.8,541.6 1433.3,540.4 1434.8,539.3 1436.3,538.1 1437.7,537.0 1439.2,535.9 1440.7,534.7 1442.2,533.6 1443.7,532.5 1445.2,531.4 1446.7,530.3 1448.2,529.2 1449.6,528.2 1451.1,527.1 1452.6,526.1 1454.1,525.0 1455.6,524.0 1457.1,523.0 1458.7,522.0 1460.2,521.0 1461.7,520.0 1463.2,519.0 1464.7,518.0 1466.2,517.0 1467.7,516.1 1469.2,515.1 1470.7,514.2 1472.3,513.3 1473.8,512.4 1475.3,511.4 1476.8,510.5 1478.3,509.6 1479.8,508.7 1481.4,507.8 1482.9,507.0 1484.4,506.1 1485.9,505.2 1487.4,504.4 1488.9,503.5 1490.5,502.6 1492.0,501.8 1493.5,501.0 1495.0,500.1 1496.5,499.3 1498.0,498.4 1499.5,497.6 1501.0,496.8 1502.5,496.0 1504.0,495.2 1505.5,494.4 1507.1,493.6 1508.6,492.8 1510.1,492.0 1511.6,491.2 1513.1,490.4 1514.6,489.6 1516.1,488.8 1517.6,488.1 1519.1,487.3 1520.6,486.5 1522.1,485.8 1523.6,485.0 1525.1,484.3 1526.6,483.5 1528.1,482.8 1529.6,482.0 1530.6,481.6" stroke="#00a0f8" stroke-width="6.8" fill="none" stroke-linejoin="round"/>
<polyline points="234.0,234.0 235.5,234.0 237.0,234.1 238.5,234.1 240.0,234.1 241.5,234.2 243.0,234.2 244.5,234.2 246.0,234.3 247.5,234.3 249.0,234.3 250.5,234.4 252.0,234.4 253.5,234.5 255.0,234.5 256.5,234.5 258.0,234.6 259.5,234.6 261.0,234.6 262.5,234.7 264.0,234.7 265.5,234.8 267.0,234.8 268.5,234.8 270.0,234.9 271.5,234.9 273.0,235.0 274.5,235.0 276.0,235.1 277.5,235.1 279.0,235.2 280.5,235.2 282.0,235.2 283.5,235.3 285.0,235.3 286.5,235.4 288.0,235.4 289.5,235.5 291.0,235.5 292.5,235.6 294.0,235.6 295.5,235.7 297.0,235.7 298.5,235.8 300.0,235.8 301.5,235.9 303.0,235.9 304.5,236.0 306.0,236.0 307.5,236.1 309.0,236.2 310.5,236.2 312.0,236.3 313.5,236.3 315.0,236.4 316.5,236.4 318.0,236.5 319.5,236.6 321.0,236.6 322.5,236.7 324.0,236.7 325.5,236.8 327.0,236.9 328.5,236.9 330.0,237.0 331.5,237.1 333.0,237.1 334.5,237.2 336.0,237.3 337.5,237.3 339.0,237.4 340.5,237.5 342.0,237.5 343.5,237.6 345.0,237.7 346.5,237.7 348.0,237.8 349.5,237.9 351.0,238.0 352.5,238.0 354.0,238.1 355.5,238.2 357.0,238.3 358.5,238.3 360.0,238.4 361.5,238.5 363.0,238.6 364.5,238.7 366.0,238.7 367.5,238.8 369.0,238.9 370.5,239.0 372.0,239.1 373.5,239.1 375.0,239.2 376.5,239.3 378.0,239.4 379.5,239.5 381.0,239.6 382.5,239.6 384.0,239.7 385.5,239.8 387.0,239.9 388.5,240.0 390.0,240.1 391.5,240.2 393.0,240.3 394.5,240.4 396.0,240.5 397.5,240.6 399.0,240.7 400.5,240.8 402.0,240.9 403.5,241.0 405.0,241.1 406.5,241.2 408.0,241.3 409.5,241.5 411.0,241.6 412.5,241.7 414.0,241.8 415.5,241.9 417.0,242.1 418.5,242.2 420.0,242.3 421.5,242.4 423.0,242.6 424.5,242.7 426.0,242.8 427.5,243.0 429.0,243.1 430.5,243.3 432.0,243.4 433.5,243.5 435.0,243.7 436.5,243.8 438.0,244.0 439.5,244.1 441.0,244.3 442.5,244.4 444.0,244.6 445.5,244.8 447.0,244.9 448.5,245.1 450.0,245.2 451.5,245.4 453.0,245.6 454.5,245.7 456.0,245.9 457.5,246.0 459.0,246.2 460.5,246.4 462.0,246.5 463.5,246.7 465.0,246.9 466.5,247.0 468.0,247.2 469.5,247.4 471.0,247.5 472.5,247.7 474.0,247.9 475.5,248.0 477.0,248.2 478.5,248.4 480.0,248.5 481.5,248.7 483.0,248.9 484.5,249.0 486.0,249.2 487.5,249.4 489.0,249.5 490.5,249.7 492.0,249.9 493.5,250.0 495.0,250.2 496.5,250.4 498.0,250.6 499.5,250.7 501.0,250.9 502.5,251.1 504.0,251.3 505.5,251.5 507.0,251.7 508.5,251.9 510.0,252.1 511.5,252.3 513.0,252.5 514.5,252.7 516.0,252.9 517.5,253.1 519.0,253.3 520.5,253.6 522.0,253.8 523.5,254.0 525.0,254.3 526.5,254.5 528.0,254.7 529.5,255.0 531.0,255.2 532.5,255.5 534.0,255.8 535.5,256.0 537.0,256.3 538.5,256.6 540.0,256.8 541.5,257.1 543.0,257.4 544.5,257.7 546.0,258.0 547.5,258.3 549.0,258.6 550.5,258.9 552.0,259.2 553.5,259.5 555.0,259.8 556.5,260.1 558.0,260.4 559.5,260.7 561.0,261.0 562.5,261.4 564.0,261.7 565.5,262.0 567.0,262.3 568.5,262.7 570.0,263.0 571.5,263.3 573.0,263.7 574.5,264.0 576.0,264.4 577.5,264.7 579.0,265.1 580.5,265.4 582.0,265.8 583.5,266.1 585.0,266.5 586.4,266.9 587.9,267.3 589.4,267.6 590.9,268.0 592.4,268.4 593.9,268.8 595.4,269.2 596.9,269.6 598.4,270.0 599.9,270.4 601.4,270.8 602.9,271.2 604.4,271.6 605.9,272.0 607.4,272.4 608.9,272.9 610.4,273.3 611.9,273.7 613.4,274.2 614.9,274.6 616.4,275.1 617.9,275.5 619.4,276.0 620.9,276.4 622.4,276.9 623.9,277.3 625.4,277.8 626.9,278.3 628.4,278.7 629.9,279.2 631.4,279.7 632.9,280.2 634.4,280.7 636.0,281.2 637.5,281.7 639.0,282.2 640.5,282.7 642.0,283.2 643.5,283.7 645.0,284.2 646.5,284.8 648.0,285.3 649.5,285.8 651.0,286.4 652.6,286.9 654.1,287.4 655.6,288.0 657.1,288.6 658.6,289.1 660.1,289.7 661.7,290.3 663.2,290.8 664.7,291.4 666.2,292.0 667.7,292.6 669.2,293.3 670.8,293.9 672.3,294.5 673.8,295.1 675.3,295.8 676.8,296.4 678.3,297.1 679.9,297.8 681.4,298.5 682.9,299.2 684.4,299.9 685.9,300.6 687.4,301.3 688.9,302.1 690.4,302.8 691.9,303.6 693.4,304.3 694.9,305.1 696.4,305.9 697.9,306.7 699.4,307.5 700.9,308.4 702.4,309.2 703.9,310.1 705.4,311.0 706.9,311.8 708.4,312.7 709.8,313.6 711.3,314.5 712.8,315.5 714.3,316.4 715.8,317.3 717.2,318.3 718.7,319.3 720.2,320.2 721.7,321.2 723.1,322.2 724.6,323.2 726.1,324.3 727.6,325.3 729.0,326.3 730.5,327.4 732.0,328.4 733.4,329.5 734.9,330.6 736.4,331.7 737.9,332.8 739.3,333.9 740.8,335.0 742.3,336.1 743.8,337.3 745.2,338.4 746.7,339.6 748.2,340.8 749.7,342.0 751.1,343.2 752.6,344.4 754.1,345.6 755.5,346.9 757.0,348.2 758.5,349.4 759.9,350.7 761.4,352.0 762.9,353.3 764.3,354.7 765.8,356.0 767.2,357.4 768.7,358.8 770.2,360.2 771.6,361.6 773.1,363.0 774.5,364.4 776.0,365.9 777.4,367.4 778.9,368.9 780.3,370.4 781.7,371.9 783.2,373.4 784.6,375.0 786.1,376.5 787.6,378.1 789.0,379.7 790.5,381.3 791.9,382.9 793.4,384.5 794.9,386.1 796.4,387.8 797.9,389.4 799.4,391.1 800.4,392.2 801.4,393.4 802.4,394.5 803.4,395.6 804.4,396.8 805.4,397.9 806.4,399.1 807.5,400.2 808.5,401.4 809.5,402.5 810.6,403.7 811.6,404.9 812.7,406.1 813.7,407.3 814.8,408.5 815.8,409.7 816.9,410.9 817.9,412.1 819.0,413.4 820.0,414.6 821.1,415.9 822.1,417.1 823.2,418.4 824.3,419.7 825.3,421.0 826.4,422.3 827.4,423.6 828.5,424.9 829.5,426.3 830.6,427.6 831.6,429.0 832.7,430.4 833.7,431.8 834.7,433.2 835.8,434.6 836.8,436.0 837.8,437.4 838.9,438.9 839.9,440.3 840.9,441.8 841.9,443.3 842.9,444.8 843.9,446.3 844.9,447.8 845.9,449.4 846.9,450.9 847.9,452.5 848.9,454.1 849.9,455.6 850.9,457.2 851.9,458.8 852.9,460.4 853.9,462.1 854.9,463.7 855.9,465.3 856.9,467.0 857.9,468.7 858.9,470.3 859.9,472.0 860.9,473.7 861.9,475.4 862.9,477.2 863.9,478.9 865.0,480.6 866.0,482.4 867.0,484.1 868.0,485.9 869.0,487.7 870.0,489.5 871.0,491.3 872.1,493.1 873.1,494.9 874.1,496.8 875.1,498.6 876.1,500.5 877.1,502.3 878.2,504.2 879.2,506.1 880.2,508.0 881.2,509.9 882.3,511.9 883.3,513.8 884.3,515.8 885.3,517.7 886.3,519.7 887.3,521.7 888.4,523.7 889.4,525.7 890.4,527.8 891.4,529.8 892.4,531.9 893.4,533.9 894.5,536.0 895.5,538.1 896.5,540.2 897.5,542.3 898.5,544.5 899.5,546.6 900.5,548.8 901.6,550.9 902.6,553.1 903.6,555.3 904.6,557.5 905.7,559.7 906.7,561.9 907.7,564.1 908.7,566.4 909.8,568.6 910.8,570.9 911.8,573.2 912.9,575.5 913.9,577.8 914.9,580.1 915.9,582.4 917.0,584.8 918.0,587.2 919.0,589.5 920.0,591.9 921.0,594.3 922.0,596.7 923.0,599.2 924.0,601.6 925.0,604.1 925.9,606.5 926.9,609.0 927.9,611.5 928.9,614.0 929.8,616.5 930.8,619.1 931.8,621.6 932.7,624.2 933.7,626.8 934.6,629.3 935.6,631.9 936.5,634.5 937.5,637.2 938.4,639.8 939.4,642.4 940.4,645.1 941.3,647.7 942.3,650.4 943.2,653.1 944.2,655.8 945.2,658.4 946.1,661.2 947.1,663.9 948.1,666.6 949.0,669.3 950.0,672.1 951.0,674.8 952.0,677.6 952.9,680.4 953.9,683.1 954.9,685.9 955.9,688.7 956.9,691.5 957.8,694.3 958.8,697.2 959.8,700.0 960.3,701.4 960.8,702.8 961.3,704.2 961.8,705.7 962.3,707.1 962.8,708.5 963.3,710.0 963.8,711.4 964.3,712.8 964.8,714.2 965.3,715.7 965.8,717.1 966.3,718.6 966.8,720.0 967.3,721.4 967.8,722.9 968.2,724.3 968.7,725.8 969.3,727.2 969.8,728.7 970.3,730.1 970.8,731.6 971.3,733.0 971.8,734.5 972.3,736.0 972.8,737.4 973.3,738.9 973.8,740.3 974.3,741.8 974.8,743.3 975.3,744.7 975.8,746.2 976.3,747.7 976.8,749.1 977.4,750.6 977.9,752.1 978.4,753.6 978.9,755.0 979.4,756.5 979.9,758.0 980.4,759.5 980.9,760.9 981.5,762.4 982.0,763.9 982.5,765.4 983.0,766.9 983.5,768.3 984.0,769.8 984.5,771.3 985.0,772.8 985.5,774.3 986.0,775.8 986.6,777.3 987.1,778.8 987.6,780.2 988.1,781.7 988.6,783.2 989.1,784.7 989.6,786.2 990.1,787.7 990.6,789.2 991.1,790.7 991.6,792.2 992.1,793.7 992.6,795.2 993.1,796.7 993.6,798.2 994.1,799.7 994.6,801.2 995.1,802.7 995.5,804.2 996.0,805.7 996.5,807.2 997.0,808.7 997.5,810.2 998.0,811.7 998.5,813.2 999.0,814.8 999.5,816.3 1000.0,817.8 1000.5,819.3 1001.0,820.8 1001.4,822.3 1001.9,823.8 1002.4,825.3 1002.9,826.8 1003.4,828.3 1003.9,829.8 1004.4,831.3 1004.9,832.8 1005.4,834.3 1005.9,835.8 1006.4,837.3 1006.9,838.8 1007.3,840.3 1007.8,841.8 1008.3,843.3 1008.8,844.8 1009.3,846.2 1009.8,847.7 1010.3,849.2 1010.8,850.7 1011.3,852.2 1011.8,853.7 1012.3,855.2 1012.8,856.7 1013.3,858.2 1013.8,859.6 1014.3,861.1 1014.7,862.6 1015.2,864.1 1015.7,865.6 1016.2,867.0 1016.7,868.5 1017.2,870.0 1017.7,871.5 1018.2,872.9 1018.7,874.4 1019.1,875.9 1019.6,877.3 1020.1,878.8 1020.6,880.3 1021.1,881.7 1021.6,883.2 1022.1,884.6 1022.5,886.1 1023.0,887.5 1023.5,889.0 1024.0,890.4 1024.5,891.9 1025.0,893.3 1025.5,894.8 1025.9,896.2 1026.4,897.7 1026.9,899.1 1027.4,900.5 1027.9,902.0 1028.4,903.4 1028.9,904.8 1029.4,906.2 1030.4,909.0 1031.3,911.9 1032.3,914.7 1033.3,917.5 1034.3,920.2 1035.3,923.0 1036.3,925.8 1037.3,928.5 1038.3,931.2 1039.4,933.9 1040.4,936.6 1041.4,939.3 1042.4,941.9 1043.5,944.5 1044.5,947.2 1045.5,949.8 1046.6,952.3 1047.6,954.9 1048.7,957.4 1049.7,960.0 1050.7,962.5 1051.8,965.0 1052.8,967.4 1053.9,969.9 1054.9,972.3 1056.0,974.7 1057.0,977.1 1058.1,979.4 1059.1,981.8 1060.2,984.1 1061.2,986.4 1062.2,988.7 1063.3,990.9 1064.3,993.1 1065.3,995.4 1066.3,997.5 1067.3,999.7 1068.4,1001.8 1069.4,1004.0 1070.4,1006.0 1071.4,1008.1 1072.4,1010.2 1073.4,1012.2 1074.4,1014.2 1075.4,1016.1 1076.4,1018.1 1077.4,1020.0 1078.4,1021.8 1079.4,1023.7 1080.4,1025.5 1081.4,1027.3 1082.4,1029.1 1083.4,1030.8 1084.4,1032.5 1085.3,1034.2 1086.3,1035.9 1087.3,1037.5 1088.3,1039.1 1089.3,1040.7 1090.3,1042.2 1091.3,1043.7 1092.3,1045.2 1093.3,1046.6 1094.3,1048.0 1095.2,1049.4 1096.2,1050.7 1097.2,1052.0 1098.2,1053.3 1099.2,1054.6 1100.2,1055.8 1101.2,1057.0 1102.2,1058.1 1103.6,1059.8 1105.1,1061.4 1106.6,1062.9 1108.1,1064.4 1109.6,1065.8 1111.1,1067.1 1112.5,1068.3 1114.0,1069.5 1115.5,1070.5 1117.0,1071.5 1118.5,1072.5 1120.0,1073.3 1121.5,1074.1 1123.0,1074.8 1124.5,1075.5 1126.0,1076.1 1127.5,1076.6 1129.0,1077.0 1130.5,1077.4 1132.0,1077.6 1133.5,1077.9 1135.0,1078.0 1136.5,1078.2 1138.0,1078.2 1139.5,1078.2 1141.0,1078.1 1142.5,1077.9 1144.0,1077.6 1145.5,1077.2 1147.0,1076.7 1148.5,1076.2 1150.0,1075.6 1151.5,1074.9 1153.0,1074.1 1154.5,1073.3 1155.9,1072.4 1157.4,1071.5 1158.9,1070.5 1160.4,1069.4 1161.9,1068.3 1163.4,1067.1 1164.8,1065.9 1166.3,1064.6 1167.8,1063.3 1169.3,1061.9 1170.8,1060.4 1172.2,1059.0 1173.7,1057.4 1175.2,1055.8 1176.7,1054.2 1178.2,1052.6 1179.2,1051.4 1180.2,1050.3 1181.2,1049.1 1182.2,1047.9 1183.2,1046.7 1184.2,1045.5 1185.2,1044.2 1186.2,1043.0 1187.2,1041.7 1188.2,1040.4 1189.2,1039.1 1190.2,1037.8 1191.2,1036.5 1192.3,1035.1 1193.3,1033.8 1194.3,1032.4 1195.3,1031.0 1196.3,1029.6 1197.3,1028.2 1198.4,1026.8 1199.4,1025.3 1200.4,1023.9 1201.4,1022.4 1202.4,1020.9 1203.5,1019.4 1204.5,1017.9 1205.5,1016.4 1206.5,1014.8 1207.5,1013.3 1208.5,1011.7 1209.6,1010.1 1210.6,1008.5 1211.6,1006.9 1212.6,1005.3 1213.6,1003.7 1214.6,1002.1 1215.6,1000.5 1216.6,998.8 1217.6,997.1 1218.6,995.5 1219.6,993.8 1220.6,992.1 1221.6,990.4 1222.6,988.7 1223.6,987.0 1224.7,985.3 1225.7,983.6 1226.7,981.9 1227.7,980.2 1228.7,978.4 1229.7,976.7 1230.7,974.9 1231.7,973.2 1232.7,971.4 1233.8,969.7 1234.8,967.9 1235.8,966.1 1236.8,964.4 1237.8,962.6 1238.8,960.8 1239.8,959.0 1240.8,957.2 1241.9,955.4 1242.9,953.6 1243.9,951.8 1244.9,950.0 1245.9,948.2 1246.9,946.4 1247.9,944.6 1248.9,942.8 1249.9,940.9 1250.9,939.1 1251.9,937.3 1252.9,935.5 1253.9,933.6 1254.9,931.8 1255.8,929.9 1256.8,928.1 1257.8,926.3 1258.8,924.4 1259.8,922.6 1260.8,920.7 1261.8,918.9 1262.7,917.1 1263.7,915.2 1264.7,913.4 1265.7,911.5 1266.7,909.7 1267.7,907.9 1268.7,906.0 1269.7,904.2 1270.7,902.3 1271.6,900.5 1272.6,898.7 1273.6,896.9 1274.6,895.0 1275.6,893.2 1276.6,891.4 1277.7,889.6 1278.7,887.8 1279.7,885.9 1280.7,884.1 1281.7,882.3 1282.7,880.5 1283.7,878.7 1284.7,876.9 1285.7,875.1 1286.8,873.3 1287.8,871.6 1288.8,869.8 1289.8,868.0 1290.8,866.2 1291.8,864.4 1292.8,862.6 1293.8,860.8 1294.8,859.1 1295.8,857.3 1296.8,855.5 1297.8,853.7 1298.8,852.0 1299.7,850.2 1300.7,848.4 1301.7,846.7 1302.7,844.9 1303.7,843.2 1304.6,841.4 1305.6,839.7 1306.6,837.9 1307.6,836.2 1308.5,834.4 1309.5,832.7 1310.5,830.9 1311.4,829.2 1312.4,827.5 1313.4,825.8 1314.4,824.1 1315.3,822.3 1316.3,820.6 1317.3,818.9 1318.3,817.2 1319.2,815.5 1320.2,813.8 1321.2,812.2 1322.2,810.5 1323.1,808.8 1324.1,807.1 1325.1,805.5 1326.1,803.8 1327.1,802.2 1328.1,800.5 1329.0,798.9 1330.0,797.3 1331.0,795.6 1332.0,794.0 1333.0,792.4 1334.0,790.8 1335.0,789.2 1336.0,787.6 1337.0,786.0 1338.0,784.4 1339.0,782.8 1340.0,781.2 1341.0,779.7 1342.0,778.1 1343.0,776.5 1344.0,775.0 1345.0,773.4 1346.0,771.9 1347.0,770.4 1348.1,768.8 1349.1,767.3 1350.1,765.8 1351.1,764.3 1352.1,762.8 1353.1,761.2 1354.1,759.7 1355.1,758.3 1356.1,756.8 1357.1,755.3 1358.1,753.8 1359.2,752.3 1360.2,750.9 1361.2,749.4 1362.2,747.9 1363.2,746.5 1364.2,745.0 1365.2,743.6 1366.2,742.1 1367.2,740.7 1368.2,739.3 1369.2,737.8 1370.2,736.4 1371.2,735.0 1372.2,733.6 1373.2,732.2 1374.2,730.8 1375.2,729.4 1376.2,728.0 1377.2,726.6 1378.2,725.2 1379.2,723.8 1380.2,722.4 1381.2,721.1 1382.2,719.7 1383.2,718.3 1384.2,717.0 1385.2,715.6 1386.2,714.3 1387.2,713.0 1388.2,711.6 1389.2,710.3 1390.2,709.0 1391.2,707.7 1392.2,706.3 1393.2,705.0 1394.2,703.7 1395.2,702.4 1396.2,701.1 1397.2,699.9 1398.2,698.6 1399.2,697.3 1400.2,696.0 1401.2,694.8 1402.3,693.5 1403.3,692.2 1404.3,691.0 1405.3,689.8 1406.3,688.5 1407.3,687.3 1408.3,686.1 1409.3,684.8 1410.3,683.6 1411.3,682.4 1412.4,681.2 1413.4,680.0 1414.4,678.8 1415.4,677.6 1416.4,676.4 1417.4,675.2 1418.5,674.1 1419.5,672.9 1420.5,671.7 1421.5,670.6 1422.5,669.4 1423.6,668.3 1424.6,667.1 1425.6,666.0 1426.6,664.8 1427.6,663.7 1428.7,662.6 1429.7,661.5 1430.7,660.3 1431.7,659.2 1432.7,658.1 1433.8,657.0 1434.8,655.9 1436.3,654.3 1437.8,652.6 1439.3,651.0 1440.9,649.4 1442.4,647.7 1443.9,646.1 1445.4,644.5 1446.9,642.9 1448.4,641.3 1449.9,639.8 1451.4,638.2 1452.9,636.6 1454.4,635.1 1455.9,633.5 1457.4,632.0 1458.9,630.4 1460.4,628.9 1461.9,627.4 1463.4,625.9 1464.9,624.4 1466.4,622.9 1467.9,621.4 1469.3,619.9 1470.8,618.4 1472.3,616.9 1473.8,615.5 1475.3,614.0 1476.8,612.6 1478.3,611.1 1479.7,609.7 1481.2,608.3 1482.7,606.8 1484.2,605.4 1485.7,604.0 1487.2,602.6 1488.6,601.2 1490.1,599.8 1491.6,598.5 1493.1,597.1 1494.6,595.7 1496.1,594.4 1497.5,593.0 1499.0,591.7 1500.5,590.4 1502.0,589.0 1503.5,587.7 1505.0,586.4 1506.4,585.1 1507.9,583.8 1509.4,582.5 1510.9,581.2 1512.4,580.0 1513.9,578.7 1515.4,577.4 1516.9,576.2 1518.3,574.9 1519.8,573.7 1521.3,572.5 1522.8,571.2 1524.3,570.0 1525.8,568.8 1527.3,567.6 1528.8,566.4 1530.3,565.2 1530.8,564.8" stroke="#2038f8" stroke-width="6.8" fill="none" stroke-linejoin="round"/>
<polyline points="234.0,233.2 235.5,233.2 237.0,233.3 238.5,233.3 240.0,233.3 241.5,233.3 243.0,233.4 244.5,233.4 246.0,233.4 247.5,233.5 249.0,233.5 250.5,233.5 252.0,233.5 253.5,233.6 255.0,233.6 256.5,233.6 258.0,233.7 259.5,233.7 261.0,233.8 262.5,233.8 264.0,233.8 265.5,233.9 267.0,233.9 268.5,233.9 270.0,234.0 271.5,234.0 273.0,234.1 274.5,234.1 276.0,234.1 277.5,234.2 279.0,234.2 280.5,234.3 282.0,234.3 283.5,234.4 285.0,234.4 286.5,234.5 288.0,234.5 289.5,234.5 291.0,234.6 292.5,234.6 294.0,234.7 295.5,234.7 297.0,234.8 298.5,234.8 300.0,234.9 301.5,234.9 303.0,235.0 304.5,235.0 306.0,235.1 307.5,235.1 309.0,235.2 310.5,235.2 312.0,235.3 313.5,235.3 315.0,235.4 316.5,235.4 318.0,235.5 319.5,235.5 321.0,235.6 322.5,235.6 324.0,235.7 325.5,235.7 327.0,235.8 328.5,235.8 330.0,235.9 331.5,236.0 333.0,236.0 334.5,236.1 336.0,236.1 337.5,236.2 339.0,236.3 340.5,236.3 342.0,236.4 343.5,236.4 345.0,236.5 346.5,236.6 348.0,236.6 349.5,236.7 351.0,236.8 352.5,236.8 354.0,236.9 355.5,237.0 357.0,237.0 358.5,237.1 360.0,237.2 361.5,237.2 363.0,237.3 364.5,237.4 366.0,237.5 367.5,237.5 369.0,237.6 370.5,237.7 372.0,237.8 373.5,237.8 375.0,237.9 376.5,238.0 378.0,238.1 379.5,238.2 381.0,238.3 382.5,238.3 384.0,238.4 385.5,238.5 387.0,238.6 388.5,238.7 390.0,238.8 391.5,238.9 393.0,239.0 394.5,239.1 396.0,239.2 397.5,239.3 399.0,239.4 400.5,239.5 402.0,239.5 403.5,239.6 405.0,239.7 406.5,239.8 408.0,239.9 409.5,240.0 411.0,240.1 412.5,240.3 414.0,240.4 415.5,240.5 417.0,240.6 418.5,240.7 420.0,240.8 421.5,240.9 423.0,241.0 424.5,241.1 426.0,241.2 427.5,241.3 429.0,241.4 430.5,241.5 432.0,241.6 433.5,241.8 435.0,241.9 436.5,242.0 438.0,242.1 439.5,242.2 441.0,242.3 442.5,242.4 444.0,242.6 445.5,242.7 447.0,242.8 448.5,242.9 450.0,243.0 451.5,243.2 453.0,243.3 454.5,243.4 456.0,243.5 457.5,243.7 459.0,243.8 460.5,243.9 462.0,244.0 463.5,244.2 465.0,244.3 466.5,244.4 468.0,244.5 469.5,244.7 471.0,244.8 472.5,244.9 474.0,245.0 475.5,245.2 477.0,245.3 478.5,245.4 480.0,245.6 481.5,245.7 483.0,245.8 484.5,246.0 486.0,246.1 487.5,246.3 489.0,246.4 490.5,246.5 492.0,246.7 493.5,246.8 495.0,247.0 496.5,247.1 498.0,247.3 499.5,247.4 501.0,247.6 502.5,247.7 504.0,247.9 505.5,248.1 507.0,248.2 508.5,248.4 510.0,248.6 511.5,248.8 513.0,249.0 514.5,249.1 516.0,249.3 517.5,249.5 519.0,249.7 520.5,249.9 522.0,250.1 523.5,250.3 525.0,250.5 526.5,250.7 528.0,251.0 529.5,251.2 531.0,251.4 532.5,251.6 534.0,251.9 535.5,252.1 537.0,252.3 538.5,252.6 540.0,252.8 541.5,253.1 543.0,253.3 544.5,253.6 546.0,253.8 547.5,254.1 549.0,254.4 550.5,254.6 552.0,254.9 553.5,255.1 555.0,255.4 556.4,255.7 557.9,256.0 559.4,256.2 560.9,256.5 562.4,256.8 563.9,257.1 565.4,257.4 566.9,257.6 568.4,257.9 569.9,258.2 571.4,258.5 572.9,258.8 574.4,259.1 575.9,259.4 577.4,259.7 578.9,260.0 580.4,260.3 581.9,260.6 583.4,260.9 584.9,261.2 586.3,261.5 587.8,261.8 589.3,262.1 590.8,262.4 592.3,262.7 593.8,263.0 595.3,263.3 596.8,263.6 598.3,263.9 599.8,264.2 601.3,264.6 602.8,264.9 604.3,265.2 605.8,265.5 607.3,265.8 608.8,266.2 610.3,266.5 611.8,266.8 613.3,267.1 614.8,267.5 616.3,267.8 617.9,268.1 619.4,268.4 620.9,268.8 622.4,269.1 623.9,269.5 625.4,269.8 626.9,270.1 628.4,270.5 629.9,270.8 631.4,271.2 632.9,271.5 634.4,271.9 635.9,272.2 637.5,272.6 639.0,273.0 640.5,273.3 642.0,273.7 643.5,274.1 645.0,274.4 646.5,274.8 648.0,275.2 649.6,275.6 651.1,276.0 652.6,276.4 654.1,276.8 655.6,277.2 657.1,277.6 658.6,278.0 660.2,278.4 661.7,278.9 663.2,279.3 664.7,279.7 666.2,280.2 667.7,280.7 669.2,281.1 670.8,281.6 672.3,282.1 673.8,282.5 675.3,283.0 676.8,283.5 678.3,284.0 679.8,284.5 681.3,285.0 682.8,285.6 684.3,286.1 685.9,286.6 687.4,287.2 688.9,287.7 690.4,288.3 691.9,288.9 693.4,289.4 694.9,290.0 696.4,290.6 697.9,291.2 699.4,291.8 700.9,292.4 702.4,293.0 703.9,293.6 705.4,294.3 706.9,294.9 708.4,295.6 709.9,296.2 711.4,296.9 712.9,297.5 714.4,298.2 715.9,298.9 717.4,299.6 718.9,300.3 720.4,301.0 721.9,301.7 723.4,302.4 724.9,303.1 726.4,303.9 727.9,304.6 729.4,305.3 730.9,306.1 732.4,306.9 733.9,307.6 735.3,308.4 736.8,309.2 738.3,310.0 739.8,310.8 741.3,311.6 742.8,312.4 744.3,313.2 745.8,314.1 747.3,314.9 748.8,315.7 750.3,316.6 751.8,317.5 753.3,318.3 754.8,319.2 756.3,320.1 757.7,321.0 759.2,321.9 760.7,322.8 762.2,323.7 763.7,324.7 765.2,325.6 766.7,326.5 768.2,327.5 769.7,328.5 771.2,329.4 772.7,330.4 774.2,331.4 775.7,332.4 777.2,333.4 778.7,334.5 780.2,335.5 781.7,336.5 783.2,337.6 784.6,338.7 786.1,339.7 787.6,340.8 789.1,341.9 790.6,343.0 792.1,344.2 793.6,345.3 795.1,346.4 796.6,347.6 798.1,348.8 799.5,349.9 801.0,351.1 802.5,352.4 804.0,353.6 805.5,354.8 806.9,356.1 808.4,357.3 809.9,358.6 811.4,359.9 812.9,361.2 814.3,362.5 815.8,363.8 817.3,365.2 818.8,366.5 820.2,367.9 821.7,369.3 823.2,370.6 824.7,372.1 826.1,373.5 827.6,374.9 829.1,376.3 830.5,377.8 832.0,379.3 833.5,380.8 835.0,382.3 836.4,383.8 837.9,385.3 839.4,386.9 840.8,388.4 842.3,390.0 843.8,391.6 845.2,393.2 846.7,394.9 848.1,396.5 849.6,398.2 851.0,399.8 852.5,401.5 853.9,403.3 854.9,404.4 855.9,405.6 856.9,406.7 857.8,407.9 858.8,409.1 859.8,410.3 860.7,411.5 861.7,412.7 862.7,413.9 863.6,415.1 864.6,416.3 865.6,417.5 866.6,418.7 867.6,420.0 868.5,421.2 869.5,422.5 870.5,423.7 871.5,425.0 872.5,426.3 873.5,427.5 874.5,428.8 875.5,430.1 876.5,431.4 877.5,432.7 878.5,434.0 879.5,435.3 880.5,436.6 881.6,437.9 882.6,439.2 883.6,440.6 884.6,441.9 885.7,443.3 886.7,444.6 887.7,446.0 888.7,447.4 889.8,448.7 890.8,450.1 891.9,451.5 892.9,452.9 893.9,454.4 895.0,455.8 896.0,457.2 897.1,458.6 898.1,460.1 899.1,461.6 900.2,463.0 901.2,464.5 902.3,466.0 903.3,467.5 904.4,469.0 905.4,470.5 906.5,472.0 907.5,473.5 908.6,475.1 909.6,476.6 910.7,478.2 911.8,479.7 912.8,481.3 913.9,482.9 914.9,484.5 916.0,486.1 917.1,487.7 918.1,489.3 919.2,491.0 920.2,492.6 921.3,494.3 922.4,495.9 923.4,497.6 924.5,499.3 925.6,501.0 926.6,502.7 927.7,504.4 928.7,506.2 929.8,507.9 930.8,509.7 931.9,511.4 932.9,513.2 933.9,515.0 935.0,516.8 936.0,518.6 937.0,520.5 938.0,522.3 939.0,524.2 940.0,526.0 941.1,527.9 942.1,529.8 943.0,531.7 944.0,533.7 945.0,535.6 946.0,537.5 947.0,539.5 948.0,541.5 948.9,543.4 949.9,545.4 950.9,547.4 951.9,549.4 952.8,551.5 953.8,553.5 954.8,555.6 955.7,557.6 956.7,559.7 957.7,561.8 958.6,563.8 959.6,565.9 960.6,568.0 961.5,570.2 962.5,572.3 963.5,574.4 964.4,576.6 965.4,578.7 966.4,580.9 967.3,583.1 968.3,585.3 969.3,587.5 970.2,589.7 971.2,591.9 972.2,594.1 973.1,596.4 974.1,598.6 975.1,600.9 976.0,603.1 977.0,605.4 978.0,607.7 978.9,610.0 979.9,612.3 980.9,614.6 981.8,617.0 982.8,619.3 983.8,621.6 984.8,624.0 985.7,626.4 986.7,628.7 987.7,631.1 988.7,633.5 989.7,635.9 990.7,638.3 991.7,640.7 992.7,643.1 993.7,645.6 994.7,648.0 995.7,650.4 996.7,652.9 997.7,655.4 998.8,657.8 999.8,660.3 1000.8,662.8 1001.9,665.3 1002.9,667.7 1004.0,670.2 1005.0,672.8 1006.1,675.3 1007.1,677.8 1008.1,680.3 1009.2,682.9 1010.2,685.4 1011.3,688.0 1012.3,690.6 1013.3,693.2 1014.4,695.7 1015.4,698.3 1016.4,700.9 1017.4,703.6 1018.5,706.2 1019.5,708.8 1020.5,711.4 1021.5,714.1 1022.5,716.7 1023.5,719.4 1024.5,722.1 1025.5,724.7 1026.5,727.4 1027.5,730.1 1028.5,732.8 1029.5,735.5 1030.5,738.2 1031.5,740.9 1032.5,743.6 1033.5,746.4 1034.5,749.1 1035.4,751.8 1036.4,754.6 1037.4,757.3 1038.4,760.1 1039.4,762.8 1040.4,765.6 1041.4,768.3 1042.4,771.1 1043.3,773.8 1044.3,776.6 1045.3,779.4 1046.3,782.2 1047.3,784.9 1048.3,787.7 1049.3,790.5 1050.2,793.3 1051.2,796.0 1052.2,798.8 1053.2,801.6 1054.2,804.4 1055.2,807.2 1056.2,810.0 1057.1,812.8 1058.1,815.6 1059.1,818.3 1060.1,821.1 1061.1,823.9 1062.1,826.7 1063.0,829.5 1064.0,832.3 1065.0,835.1 1066.0,837.8 1067.0,840.6 1067.9,843.4 1068.9,846.2 1069.9,848.9 1070.9,851.7 1071.8,854.5 1072.8,857.2 1073.8,860.0 1074.8,862.7 1075.7,865.5 1076.7,868.2 1077.7,871.0 1078.7,873.7 1079.7,876.4 1080.6,879.2 1081.6,881.9 1082.6,884.6 1083.6,887.3 1084.6,890.0 1085.6,892.7 1086.6,895.3 1087.6,898.0 1088.6,900.6 1089.6,903.3 1090.6,905.9 1091.6,908.6 1092.6,911.2 1093.6,913.8 1094.6,916.4 1095.6,919.0 1096.6,921.6 1097.6,924.1 1098.7,926.7 1099.7,929.2 1100.7,931.7 1101.7,934.3 1102.7,936.8 1103.7,939.3 1104.8,941.7 1105.8,944.2 1106.8,946.7 1107.8,949.1 1108.8,951.5 1109.8,953.9 1110.9,956.3 1111.9,958.7 1112.9,961.1 1113.9,963.4 1114.9,965.8 1115.9,968.1 1116.9,970.4 1117.9,972.7 1118.9,975.0 1119.9,977.2 1120.9,979.5 1121.9,981.7 1122.9,983.9 1123.9,986.1 1124.9,988.3 1125.9,990.4 1126.9,992.5 1127.9,994.6 1128.9,996.7 1129.9,998.8 1130.9,1000.9 1131.9,1002.9 1132.9,1004.9 1133.9,1006.9 1134.9,1008.9 1135.9,1010.8 1136.9,1012.7 1138.0,1014.6 1139.0,1016.5 1140.0,1018.3 1141.0,1020.2 1142.0,1022.0 1143.0,1023.8 1144.0,1025.5 1145.0,1027.3 1146.1,1029.0 1147.1,1030.7 1148.1,1032.4 1149.1,1034.0 1150.1,1035.6 1151.1,1037.2 1152.1,1038.8 1153.1,1040.3 1154.1,1041.9 1155.2,1043.3 1156.2,1044.8 1157.2,1046.3 1158.2,1047.7 1159.2,1049.1 1160.2,1050.5 1161.2,1051.8 1162.2,1053.1 1163.2,1054.4 1164.2,1055.7 1165.2,1057.0 1166.2,1058.2 1167.2,1059.4 1168.2,1060.6 1169.2,1061.7 1170.7,1063.4 1172.1,1065.0 1173.6,1066.5 1175.1,1068.0 1176.6,1069.5 1178.1,1070.8 1179.6,1072.2 1181.1,1073.4 1182.6,1074.6 1184.1,1075.8 1185.6,1076.8 1187.0,1077.9 1188.5,1078.8 1190.0,1079.7 1191.5,1080.6 1193.0,1081.4 1194.5,1082.1 1196.0,1082.8 1197.5,1083.4 1199.0,1083.9 1200.5,1084.5 1202.0,1084.9 1203.5,1085.3 1205.0,1085.7 1206.5,1086.0 1208.0,1086.2 1209.5,1086.4 1211.0,1086.6 1212.5,1086.7 1214.0,1086.8 1215.5,1086.8 1217.5,1086.8 1219.0,1086.7 1220.5,1086.5 1222.0,1086.3 1223.5,1086.0 1225.0,1085.6 1226.5,1085.1 1228.0,1084.6 1229.5,1084.0 1231.0,1083.4 1232.5,1082.7 1234.0,1082.0 1235.5,1081.2 1237.0,1080.4 1238.5,1079.5 1240.0,1078.6 1241.5,1077.6 1243.0,1076.6 1244.5,1075.5 1246.0,1074.4 1247.5,1073.2 1249.0,1072.0 1250.5,1070.8 1252.0,1069.5 1253.5,1068.2 1255.0,1066.8 1256.5,1065.4 1258.0,1064.0 1259.5,1062.5 1261.0,1061.0 1262.5,1059.5 1264.0,1057.9 1265.5,1056.3 1267.0,1054.7 1268.5,1053.0 1269.5,1051.9 1270.5,1050.8 1271.5,1049.6 1272.5,1048.4 1273.6,1047.2 1274.6,1046.1 1275.6,1044.8 1276.6,1043.6 1277.6,1042.4 1278.6,1041.2 1279.6,1039.9 1280.6,1038.6 1281.6,1037.4 1282.7,1036.1 1283.7,1034.8 1284.7,1033.5 1285.7,1032.1 1286.7,1030.8 1287.7,1029.5 1288.7,1028.1 1289.7,1026.7 1290.7,1025.4 1291.7,1024.0 1292.7,1022.6 1293.7,1021.2 1294.7,1019.7 1295.7,1018.3 1296.7,1016.9 1297.7,1015.4 1298.7,1014.0 1299.7,1012.5 1300.7,1011.0 1301.7,1009.6 1302.7,1008.1 1303.7,1006.6 1304.7,1005.1 1305.7,1003.6 1306.6,1002.0 1307.6,1000.5 1308.6,999.0 1309.6,997.4 1310.6,995.9 1311.6,994.3 1312.5,992.8 1313.5,991.2 1314.5,989.6 1315.5,988.1 1316.5,986.5 1317.4,984.9 1318.4,983.3 1319.4,981.7 1320.4,980.1 1321.4,978.5 1322.4,976.9 1323.4,975.3 1324.4,973.7 1325.3,972.1 1326.3,970.5 1327.3,968.9 1328.3,967.2 1329.3,965.6 1330.3,964.0 1331.3,962.4 1332.3,960.7 1333.3,959.1 1334.3,957.5 1335.3,955.8 1336.4,954.2 1337.4,952.6 1338.4,950.9 1339.4,949.3 1340.4,947.6 1341.4,946.0 1342.4,944.3 1343.4,942.7 1344.4,941.1 1345.4,939.4 1346.5,937.7 1347.5,936.1 1348.5,934.4 1349.5,932.8 1350.5,931.1 1351.5,929.5 1352.5,927.8 1353.5,926.2 1354.5,924.5 1355.5,922.8 1356.5,921.2 1357.5,919.5 1358.6,917.8 1359.6,916.2 1360.6,914.5 1361.6,912.9 1362.6,911.2 1363.6,909.5 1364.6,907.9 1365.5,906.2 1366.5,904.5 1367.5,902.9 1368.5,901.2 1369.5,899.5 1370.5,897.9 1371.5,896.2 1372.5,894.6 1373.5,892.9 1374.5,891.3 1375.5,889.6 1376.5,887.9 1377.5,886.3 1378.5,884.6 1379.5,883.0 1380.5,881.4 1381.5,879.7 1382.5,878.1 1383.5,876.4 1384.5,874.8 1385.5,873.2 1386.5,871.5 1387.5,869.9 1388.5,868.3 1389.5,866.7 1390.5,865.0 1391.5,863.4 1392.5,861.8 1393.5,860.2 1394.5,858.6 1395.5,857.0 1396.5,855.4 1397.5,853.8 1398.5,852.2 1399.5,850.6 1400.5,849.0 1401.5,847.4 1402.5,845.8 1403.5,844.2 1404.5,842.6 1405.5,841.1 1406.5,839.5 1407.5,837.9 1408.5,836.3 1409.5,834.8 1410.5,833.2 1411.5,831.6 1412.5,830.1 1413.5,828.5 1414.5,827.0 1415.5,825.4 1416.5,823.9 1417.5,822.3 1418.5,820.8 1419.5,819.3 1420.5,817.7 1421.5,816.2 1422.5,814.7 1423.5,813.2 1424.5,811.7 1425.5,810.2 1426.5,808.7 1427.5,807.1 1428.5,805.7 1429.5,804.2 1430.5,802.7 1431.5,801.2 1432.5,799.7 1433.5,798.2 1434.5,796.7 1435.5,795.3 1436.5,793.8 1437.5,792.4 1438.5,790.9 1439.5,789.4 1440.5,788.0 1441.5,786.6 1442.5,785.1 1443.5,783.7 1444.5,782.3 1445.5,780.8 1446.5,779.4 1447.5,778.0 1448.6,776.6 1449.6,775.2 1450.6,773.8 1451.6,772.4 1452.6,771.0 1453.6,769.6 1454.6,768.2 1455.6,766.8 1456.6,765.5 1457.6,764.1 1458.7,762.7 1459.7,761.4 1460.7,760.0 1461.7,758.7 1462.7,757.3 1463.7,756.0 1464.7,754.6 1465.7,753.3 1466.7,751.9 1467.7,750.6 1468.7,749.3 1469.7,748.0 1470.7,746.6 1471.7,745.3 1472.7,744.0 1473.7,742.7 1474.7,741.4 1475.7,740.1 1476.7,738.8 1477.7,737.5 1478.7,736.2 1479.7,734.9 1480.6,733.6 1481.6,732.3 1482.6,731.0 1483.6,729.7 1484.6,728.5 1485.5,727.2 1486.5,725.9 1487.5,724.7 1488.5,723.4 1489.5,722.1 1490.4,720.9 1491.4,719.6 1492.4,718.4 1493.4,717.2 1494.4,715.9 1495.3,714.7 1496.3,713.5 1497.3,712.3 1498.3,711.1 1499.3,709.9 1500.3,708.7 1501.3,707.5 1502.3,706.3 1503.3,705.1 1504.3,703.9 1505.3,702.7 1506.2,701.6 1507.2,700.4 1508.2,699.3 1509.2,698.1 1510.2,697.0 1511.2,695.8 1512.3,694.7 1513.3,693.5 1514.3,692.4 1515.3,691.3 1516.3,690.2 1517.3,689.1 1518.8,687.4 1520.3,685.8 1521.8,684.1 1523.3,682.5 1524.8,680.9 1526.3,679.3 1527.9,677.7 1529.4,676.1 1530.9,674.5" stroke="#6800e0" stroke-width="6.8" fill="none" stroke-linejoin="round"/>
<polyline points="234.5,231.4 236.0,231.4 237.5,231.5 239.0,231.5 240.5,231.5 242.0,231.6 243.5,231.6 245.0,231.6 246.5,231.7 248.0,231.7 249.5,231.7 251.0,231.8 252.5,231.8 254.0,231.8 255.5,231.9 257.0,231.9 258.5,231.9 260.0,231.9 261.5,232.0 263.0,232.0 264.5,232.0 266.0,232.1 267.5,232.1 269.0,232.1 270.5,232.1 272.0,232.2 273.5,232.2 275.0,232.2 276.5,232.3 278.0,232.3 279.5,232.3 281.0,232.4 282.5,232.4 284.0,232.5 285.5,232.5 287.0,232.5 288.5,232.6 290.0,232.6 291.5,232.7 293.0,232.7 294.5,232.7 296.0,232.8 297.5,232.8 299.0,232.9 300.5,232.9 302.0,233.0 303.5,233.0 305.0,233.0 306.5,233.1 308.0,233.1 309.5,233.2 311.0,233.2 312.5,233.3 314.0,233.3 315.5,233.4 317.0,233.4 318.5,233.4 320.0,233.5 321.5,233.5 323.0,233.6 324.5,233.6 326.0,233.7 327.5,233.7 329.0,233.7 330.5,233.8 332.0,233.8 333.5,233.9 335.0,233.9 336.5,234.0 338.0,234.0 339.5,234.1 341.0,234.1 342.5,234.2 344.0,234.2 345.5,234.3 347.0,234.3 348.5,234.4 350.0,234.4 351.5,234.5 353.0,234.6 354.5,234.6 356.0,234.7 357.5,234.7 359.0,234.8 360.5,234.9 362.0,234.9 363.5,235.0 365.0,235.1 366.5,235.1 368.0,235.2 369.5,235.3 371.0,235.3 372.5,235.4 374.0,235.5 375.5,235.5 377.0,235.6 378.5,235.7 380.0,235.7 381.5,235.8 383.0,235.9 384.5,236.0 386.0,236.0 387.5,236.1 389.0,236.2 390.5,236.2 392.0,236.3 393.5,236.4 395.0,236.5 396.5,236.5 398.0,236.6 399.5,236.7 401.0,236.7 402.5,236.8 404.0,236.9 405.5,237.0 407.0,237.1 408.5,237.1 410.0,237.2 411.5,237.3 413.0,237.4 414.5,237.5 416.0,237.5 417.6,237.6 419.1,237.7 420.6,237.8 422.1,237.9 423.6,238.0 425.1,238.1 426.6,238.1 428.1,238.2 429.6,238.3 431.1,238.4 432.6,238.5 434.1,238.6 435.6,238.7 437.1,238.8 438.6,238.9 440.1,239.0 441.6,239.1 443.1,239.2 444.6,239.3 446.1,239.4 447.6,239.5 449.1,239.6 450.6,239.7 452.1,239.8 453.6,239.9 455.1,240.0 456.6,240.1 458.1,240.2 459.6,240.3 461.1,240.5 462.6,240.6 464.1,240.7 465.6,240.8 467.1,240.9 468.6,241.0 470.1,241.1 471.6,241.3 473.1,241.4 474.6,241.5 476.1,241.6 477.6,241.7 479.1,241.9 480.6,242.0 482.1,242.1 483.6,242.3 485.1,242.4 486.6,242.5 488.1,242.7 489.6,242.8 491.1,243.0 492.6,243.1 494.1,243.3 495.6,243.4 497.1,243.6 498.6,243.7 500.1,243.9 501.6,244.0 503.1,244.2 504.6,244.4 506.1,244.5 507.6,244.7 509.1,244.9 510.6,245.0 512.1,245.2 513.6,245.4 515.1,245.6 516.6,245.7 518.1,245.9 519.6,246.1 521.1,246.3 522.6,246.5 524.1,246.7 525.6,246.9 527.1,247.1 528.6,247.3 530.1,247.5 531.6,247.7 533.1,247.9 534.6,248.1 536.1,248.3 537.6,248.6 539.1,248.8 540.6,249.0 542.1,249.2 543.6,249.4 545.1,249.7 546.6,249.9 548.1,250.1 549.6,250.4 551.1,250.6 552.6,250.8 554.1,251.1 555.6,251.3 557.0,251.5 558.5,251.8 560.0,252.0 561.5,252.3 563.0,252.5 564.5,252.8 566.0,253.0 567.5,253.3 569.0,253.5 570.5,253.8 572.0,254.0 573.5,254.3 575.0,254.5 576.5,254.8 578.0,255.1 579.5,255.3 581.0,255.6 582.5,255.9 584.0,256.1 585.5,256.4 587.0,256.7 588.4,256.9 589.9,257.2 591.4,257.5 592.9,257.7 594.4,258.0 595.9,258.3 597.4,258.6 598.9,258.8 600.4,259.1 601.9,259.4 603.4,259.7 604.9,260.0 606.4,260.2 607.9,260.5 609.4,260.8 610.9,261.1 612.4,261.4 613.9,261.7 615.4,261.9 616.9,262.2 618.4,262.5 619.9,262.8 621.4,263.1 622.9,263.4 624.4,263.7 625.9,264.0 627.4,264.3 628.9,264.6 630.4,264.9 631.9,265.2 633.4,265.6 634.9,265.9 636.4,266.2 637.9,266.5 639.4,266.8 640.9,267.2 642.4,267.5 643.9,267.8 645.4,268.2 646.9,268.5 648.4,268.8 649.9,269.2 651.4,269.5 652.9,269.9 654.4,270.2 655.9,270.6 657.4,270.9 658.9,271.3 660.4,271.7 661.9,272.0 663.4,272.4 664.9,272.8 666.4,273.2 667.9,273.5 669.4,273.9 670.9,274.3 672.4,274.7 673.9,275.1 675.4,275.5 676.9,275.9 678.4,276.3 679.9,276.7 681.4,277.2 682.9,277.6 684.4,278.0 685.9,278.4 687.4,278.9 688.9,279.3 690.4,279.8 691.9,280.2 693.4,280.7 694.9,281.1 696.4,281.6 697.9,282.0 699.4,282.5 700.8,283.0 702.3,283.5 703.8,284.0 705.3,284.4 706.8,284.9 708.3,285.4 709.8,285.9 711.3,286.4 712.8,286.9 714.3,287.5 715.8,288.0 717.3,288.5 718.8,289.0 720.3,289.6 721.8,290.1 723.3,290.7 724.8,291.2 726.3,291.8 727.8,292.3 729.3,292.9 730.8,293.5 732.3,294.0 733.8,294.6 735.3,295.2 736.8,295.8 738.3,296.4 739.8,297.0 741.3,297.6 742.8,298.2 744.2,298.8 745.7,299.5 747.2,300.1 748.7,300.7 750.2,301.4 751.7,302.0 753.2,302.7 754.7,303.3 756.2,304.0 757.7,304.7 759.2,305.3 760.7,306.0 762.2,306.7 763.7,307.4 765.2,308.1 766.7,308.8 768.2,309.5 769.7,310.2 771.2,310.9 772.7,311.7 774.2,312.4 775.7,313.1 777.2,313.9 778.7,314.6 780.2,315.4 781.7,316.1 783.2,316.9 784.7,317.7 786.2,318.5 787.7,319.2 789.2,320.0 790.7,320.8 792.3,321.7 793.8,322.5 795.3,323.3 796.8,324.1 798.3,325.0 799.8,325.8 801.3,326.7 802.8,327.5 804.3,328.4 805.8,329.3 807.4,330.1 808.9,331.0 810.4,331.9 811.9,332.8 813.4,333.8 814.9,334.7 816.5,335.6 818.0,336.6 819.5,337.5 821.0,338.5 822.5,339.5 824.0,340.4 825.5,341.4 827.1,342.4 828.6,343.4 830.1,344.5 831.6,345.5 833.1,346.5 834.6,347.6 836.2,348.7 837.7,349.7 839.2,350.8 840.7,351.9 842.2,353.0 843.7,354.2 845.2,355.3 846.8,356.4 848.3,357.6 849.8,358.8 851.3,359.9 852.8,361.1 854.3,362.3 855.8,363.5 857.3,364.8 858.9,366.0 860.4,367.3 861.9,368.5 863.4,369.8 864.9,371.1 866.4,372.4 867.9,373.7 869.4,375.0 871.0,376.3 872.5,377.7 874.0,379.0 875.5,380.4 877.0,381.8 878.5,383.2 880.1,384.6 881.6,386.0 883.1,387.4 884.6,388.9 886.1,390.3 887.7,391.8 889.2,393.3 890.7,394.8 892.2,396.3 893.8,397.8 895.3,399.4 896.8,400.9 898.3,402.5 899.8,404.1 901.3,405.7 902.8,407.3 904.3,409.0 905.8,410.6 907.3,412.3 908.3,413.4 909.3,414.6 910.3,415.7 911.3,416.9 912.3,418.0 913.3,419.2 914.3,420.4 915.3,421.6 916.3,422.8 917.3,424.0 918.2,425.2 919.2,426.4 920.2,427.6 921.2,428.9 922.2,430.1 923.1,431.3 924.1,432.6 925.1,433.9 926.1,435.1 927.1,436.4 928.0,437.7 929.0,439.0 930.0,440.3 931.0,441.6 932.0,442.9 932.9,444.2 933.9,445.5 934.9,446.9 935.9,448.2 936.9,449.5 937.9,450.9 938.8,452.2 939.8,453.6 940.8,455.0 941.8,456.3 942.8,457.7 943.8,459.1 944.8,460.5 945.8,461.9 946.8,463.3 947.8,464.7 948.8,466.2 949.8,467.6 950.8,469.0 951.8,470.5 952.9,471.9 953.9,473.4 954.9,474.8 955.9,476.3 956.9,477.8 957.9,479.2 959.0,480.7 960.0,482.2 961.0,483.7 962.0,485.3 963.1,486.8 964.1,488.3 965.1,489.9 966.1,491.4 967.2,493.0 968.2,494.5 969.2,496.1 970.2,497.7 971.3,499.3 972.3,500.9 973.3,502.5 974.3,504.1 975.3,505.7 976.3,507.4 977.4,509.0 978.4,510.7 979.4,512.4 980.4,514.0 981.4,515.7 982.4,517.4 983.4,519.2 984.4,520.9 985.3,522.6 986.3,524.3 987.3,526.1 988.3,527.9 989.3,529.6 990.2,531.4 991.2,533.2 992.2,535.0 993.2,536.8 994.1,538.7 995.1,540.5 996.0,542.3 997.0,544.2 998.0,546.0 998.9,547.9 999.9,549.8 1000.8,551.7 1001.8,553.6 1002.7,555.5 1003.7,557.4 1004.7,559.3 1005.6,561.2 1006.6,563.2 1007.5,565.1 1008.5,567.1 1009.4,569.1 1010.4,571.0 1011.3,573.0 1012.3,575.0 1013.2,577.0 1014.2,579.0 1015.1,581.0 1016.1,583.1 1017.0,585.1 1018.0,587.1 1019.0,589.2 1019.9,591.2 1020.9,593.3 1021.8,595.4 1022.8,597.4 1023.8,599.5 1024.7,601.6 1025.7,603.7 1026.7,605.8 1027.6,607.9 1028.6,610.1 1029.6,612.2 1030.6,614.3 1031.5,616.5 1032.5,618.6 1033.5,620.8 1034.5,623.0 1035.5,625.1 1036.5,627.3 1037.5,629.5 1038.5,631.7 1039.5,633.9 1040.5,636.1 1041.5,638.3 1042.6,640.5 1043.6,642.7 1044.6,644.9 1045.6,647.2 1046.7,649.4 1047.7,651.7 1048.8,653.9 1049.9,656.2 1050.9,658.4 1052.0,660.7 1053.1,662.9 1054.1,665.2 1055.2,667.5 1056.3,669.8 1057.4,672.1 1058.4,674.4 1059.5,676.7 1060.6,679.0 1061.6,681.4 1062.7,683.7 1063.7,686.0 1064.8,688.4 1065.8,690.8 1066.8,693.1 1067.9,695.5 1068.9,697.9 1069.9,700.3 1070.9,702.7 1071.9,705.1 1072.9,707.6 1073.9,710.0 1074.9,712.5 1075.8,714.9 1076.8,717.4 1077.8,719.8 1078.7,722.3 1079.7,724.8 1080.6,727.3 1081.6,729.8 1082.5,732.3 1083.4,734.8 1084.4,737.3 1085.3,739.8 1086.2,742.3 1087.2,744.9 1088.1,747.4 1089.0,749.9 1090.0,752.5 1090.9,755.0 1091.8,757.5 1092.8,760.1 1093.7,762.6 1094.7,765.2 1095.6,767.7 1096.6,770.3 1097.5,772.8 1098.5,775.4 1099.5,777.9 1100.4,780.5 1101.4,783.0 1102.4,785.6 1103.4,788.1 1104.3,790.7 1105.3,793.3 1106.3,795.8 1107.3,798.4 1108.2,801.0 1109.2,803.5 1110.2,806.1 1111.2,808.7 1112.1,811.2 1113.1,813.8 1114.1,816.4 1115.0,818.9 1116.0,821.5 1117.0,824.1 1118.0,826.6 1119.0,829.2 1119.9,831.8 1120.9,834.3 1121.9,836.9 1122.9,839.4 1123.9,842.0 1124.9,844.5 1125.9,847.1 1126.9,849.6 1127.9,852.2 1128.9,854.7 1130.0,857.2 1131.0,859.7 1132.0,862.3 1133.1,864.8 1134.1,867.3 1135.2,869.8 1136.2,872.3 1137.3,874.8 1138.3,877.2 1139.4,879.7 1140.5,882.2 1141.6,884.6 1142.7,887.1 1143.8,889.5 1144.9,891.9 1146.0,894.4 1147.1,896.8 1148.3,899.2 1149.4,901.6 1150.5,904.0 1151.6,906.4 1152.7,908.8 1153.8,911.2 1154.8,913.6 1155.9,915.9 1157.0,918.3 1158.0,920.7 1159.1,923.0 1160.1,925.4 1161.2,927.7 1162.2,930.1 1163.2,932.4 1164.2,934.8 1165.2,937.1 1166.2,939.4 1167.2,941.7 1168.2,944.0 1169.2,946.3 1170.2,948.6 1171.2,950.8 1172.2,953.1 1173.2,955.3 1174.2,957.5 1175.3,959.8 1176.3,962.0 1177.3,964.2 1178.3,966.3 1179.3,968.5 1180.3,970.7 1181.3,972.8 1182.3,974.9 1183.3,977.0 1184.4,979.1 1185.4,981.2 1186.4,983.3 1187.4,985.3 1188.4,987.3 1189.5,989.4 1190.5,991.4 1191.5,993.4 1192.5,995.3 1193.5,997.3 1194.5,999.3 1195.5,1001.2 1196.5,1003.1 1197.5,1005.0 1198.5,1006.9 1199.5,1008.8 1200.5,1010.6 1201.5,1012.5 1202.5,1014.3 1203.5,1016.1 1204.5,1017.9 1205.4,1019.7 1206.4,1021.5 1207.4,1023.2 1208.4,1024.9 1209.3,1026.7 1210.3,1028.4 1211.3,1030.0 1212.2,1031.7 1213.2,1033.3 1214.2,1035.0 1215.2,1036.6 1216.1,1038.1 1217.1,1039.7 1218.1,1041.3 1219.0,1042.8 1220.0,1044.3 1221.0,1045.8 1221.9,1047.2 1222.9,1048.7 1223.9,1050.1 1224.8,1051.5 1225.8,1052.9 1226.8,1054.3 1227.8,1055.6 1228.7,1056.9 1229.7,1058.2 1230.7,1059.5 1231.7,1060.8 1232.6,1062.0 1233.6,1063.2 1234.6,1064.4 1235.6,1065.6 1236.6,1066.7 1238.0,1068.4 1239.5,1070.1 1241.0,1071.7 1242.5,1073.2 1244.0,1074.7 1245.4,1076.1 1246.9,1077.5 1248.4,1078.8 1249.9,1080.1 1251.4,1081.3 1252.9,1082.5 1254.4,1083.7 1255.9,1084.7 1257.4,1085.8 1258.9,1086.7 1260.4,1087.7 1261.9,1088.5 1263.4,1089.4 1264.9,1090.1 1266.4,1090.9 1267.9,1091.5 1269.4,1092.2 1270.9,1092.7 1272.4,1093.3 1273.9,1093.8 1275.4,1094.2 1277.0,1094.6 1278.5,1094.9 1280.0,1095.2 1281.5,1095.5 1283.0,1095.7 1284.5,1095.8 1286.0,1096.0 1287.5,1096.1 1289.0,1096.1 1290.5,1096.1 1292.0,1096.1 1293.5,1096.0 1295.0,1095.9 1296.5,1095.6 1298.0,1095.3 1299.5,1094.9 1301.0,1094.5 1302.5,1094.0 1304.0,1093.5 1305.5,1092.9 1307.0,1092.3 1308.5,1091.7 1310.0,1091.0 1311.5,1090.2 1313.0,1089.4 1314.5,1088.6 1316.0,1087.7 1317.4,1086.8 1318.9,1085.9 1320.4,1084.9 1321.9,1083.9 1323.4,1082.9 1324.9,1081.8 1326.4,1080.6 1327.9,1079.5 1329.4,1078.3 1330.9,1077.1 1332.4,1075.9 1333.9,1074.6 1335.4,1073.3 1336.9,1071.9 1338.4,1070.6 1339.9,1069.2 1341.4,1067.8 1342.9,1066.3 1344.5,1064.8 1346.0,1063.3 1347.5,1061.8 1349.0,1060.3 1350.5,1058.7 1352.0,1057.1 1353.5,1055.5 1355.0,1053.8 1356.5,1052.1 1357.5,1051.0 1358.5,1049.9 1359.5,1048.7 1360.5,1047.6 1361.5,1046.4 1362.5,1045.3 1363.5,1044.1 1364.6,1042.9 1365.6,1041.7 1366.6,1040.5 1367.6,1039.3 1368.6,1038.1 1369.6,1036.8 1370.6,1035.6 1371.6,1034.3 1372.6,1033.1 1373.6,1031.8 1374.6,1030.6 1375.6,1029.3 1376.6,1028.0 1377.7,1026.7 1378.7,1025.4 1379.7,1024.1 1380.7,1022.8 1381.7,1021.5 1382.7,1020.2 1383.7,1018.8 1384.7,1017.5 1385.7,1016.2 1386.7,1014.8 1387.7,1013.5 1388.7,1012.1 1389.7,1010.7 1390.7,1009.4 1391.7,1008.0 1392.7,1006.6 1393.8,1005.2 1394.8,1003.8 1395.8,1002.4 1396.8,1001.0 1397.8,999.6 1398.8,998.2 1399.8,996.8 1400.8,995.4 1401.8,993.9 1402.8,992.5 1403.7,991.1 1404.7,989.6 1405.7,988.2 1406.7,986.7 1407.7,985.3 1408.7,983.8 1409.7,982.4 1410.7,980.9 1411.7,979.5 1412.7,978.0 1413.7,976.5 1414.7,975.0 1415.7,973.6 1416.6,972.1 1417.6,970.6 1418.6,969.1 1419.6,967.6 1420.6,966.1 1421.6,964.7 1422.6,963.2 1423.6,961.7 1424.6,960.2 1425.5,958.7 1426.5,957.2 1427.5,955.7 1428.5,954.2 1429.5,952.7 1430.5,951.2 1431.5,949.7 1432.5,948.2 1433.4,946.7 1434.4,945.1 1435.4,943.6 1436.4,942.1 1437.4,940.6 1438.4,939.1 1439.4,937.6 1440.4,936.1 1441.4,934.6 1442.3,933.1 1443.3,931.6 1444.3,930.1 1445.3,928.6 1446.3,927.0 1447.3,925.5 1448.3,924.0 1449.3,922.5 1450.3,921.0 1451.3,919.5 1452.3,918.0 1453.2,916.5 1454.2,915.0 1455.2,913.5 1456.2,912.0 1457.2,910.5 1458.2,909.0 1459.2,907.5 1460.2,906.0 1461.2,904.5 1462.2,903.0 1463.2,901.5 1464.2,900.1 1465.2,898.6 1466.2,897.1 1467.2,895.6 1468.2,894.1 1469.2,892.7 1470.2,891.2 1471.2,889.7 1472.2,888.2 1473.2,886.8 1474.2,885.3 1475.2,883.9 1476.2,882.4 1477.2,881.0 1478.2,879.5 1479.3,878.1 1480.3,876.6 1481.3,875.2 1482.3,873.8 1483.3,872.3 1484.4,870.9 1485.4,869.5 1486.4,868.1 1487.4,866.6 1488.4,865.2 1489.5,863.8 1490.5,862.4 1491.5,861.0 1492.5,859.6 1493.5,858.2 1494.6,856.8 1495.6,855.4 1496.6,854.0 1497.6,852.6 1498.6,851.2 1499.6,849.8 1500.6,848.5 1501.6,847.1 1502.6,845.7 1503.7,844.3 1504.7,842.9 1505.7,841.6 1506.7,840.2 1507.7,838.8 1508.7,837.5 1509.7,836.1 1510.7,834.8 1511.7,833.4 1512.7,832.1 1513.7,830.7 1514.7,829.4 1515.6,828.0 1516.6,826.7 1517.6,825.4 1518.6,824.0 1519.6,822.7 1520.6,821.4 1521.6,820.1 1522.6,818.8 1523.6,817.4 1524.6,816.1 1525.6,814.8 1526.6,813.5 1527.6,812.3 1528.6,811.0 1529.6,809.7 1530.6,808.4" stroke="#a000c8" stroke-width="6.8" fill="none" stroke-linejoin="round"/>
<path d="M1530,217 V1233 M1530,221.0 H1502 M1530,321.8 H1516 M1530,422.6 H1502 M1530,523.4 H1516 M1530,624.2 H1502 M1530,725.0 H1516 M1530,825.8 H1502 M1530,926.6 H1516 M1530,1027.4 H1502 M1530,1128.2 H1516 M1530,1229.0 H1502" stroke="#ff0000" stroke-width="8" fill="none" shape-rendering="crispEdges"/>
<clipPath id="kc"><rect x="234" y="221" width="1297" height="1008.8"/></clipPath>
<g clip-path="url(#kc)"><path d="M234.0,1227.1 C238.3,1227.1 249.0,1227.0 260.0,1227.0 C271.0,1227.0 286.7,1227.2 300.0,1227.3 C313.3,1227.4 326.7,1227.6 340.0,1227.8 C353.3,1228.0 371.2,1228.6 380.0,1228.6 C388.8,1228.6 387.5,1228.2 392.9,1227.6 C398.3,1227.0 406.9,1226.2 412.3,1225.0 C417.7,1223.8 421.0,1221.6 425.3,1220.5 C429.6,1219.4 433.9,1218.5 438.2,1218.6 C442.5,1218.7 446.8,1220.2 451.1,1221.2 C455.4,1222.2 458.7,1223.8 464.1,1224.4 C469.5,1225.0 476.0,1224.8 483.5,1225.0 C491.0,1225.2 502.9,1225.7 509.3,1225.7 C515.8,1225.7 515.7,1225.3 522.2,1225.0 C528.7,1224.7 539.5,1223.7 548.1,1223.7 C556.7,1223.7 566.5,1224.5 574.0,1225.0 C581.5,1225.5 585.7,1226.6 593.4,1227.0 C601.1,1227.4 606.5,1227.4 620.0,1227.6 C633.5,1227.8 656.7,1228.5 674.3,1228.4 C691.9,1228.3 713.3,1227.6 725.6,1227.0 C737.9,1226.4 741.9,1225.4 748.2,1224.6 C754.5,1223.8 754.5,1223.0 763.3,1222.4 C772.1,1221.9 787.2,1221.5 801.0,1221.3 C814.8,1221.1 833.0,1221.3 846.2,1221.3 C859.4,1221.2 872.2,1221.4 880.0,1221.0 C887.8,1220.6 888.7,1220.3 893.0,1219.0 C897.3,1217.7 902.4,1215.5 906.0,1212.9 C909.6,1210.3 911.7,1207.9 914.6,1203.4 C917.5,1198.9 921.0,1191.9 923.3,1186.1 C925.6,1180.3 926.7,1175.3 928.4,1168.8 C930.1,1162.3 931.9,1153.5 933.6,1147.2 C935.3,1140.9 936.9,1134.5 938.8,1130.8 C940.7,1127.1 942.9,1125.2 944.9,1125.1 C946.9,1124.9 949.0,1126.9 950.9,1129.9 C952.8,1132.9 954.2,1137.9 956.1,1142.9 C958.0,1148.0 959.8,1153.4 962.2,1160.2 C964.7,1167.0 967.9,1177.0 970.8,1183.5 C973.7,1190.0 976.6,1194.8 979.5,1199.1 C982.4,1203.4 985.2,1206.9 988.1,1209.5 C991.0,1212.1 993.2,1213.5 996.8,1214.7 C1000.4,1215.9 1003.9,1216.4 1009.8,1216.8 C1015.7,1217.2 1020.5,1217.2 1032.3,1217.0 C1044.1,1216.8 1067.8,1215.5 1080.8,1215.5 C1093.8,1215.5 1103.3,1217.4 1110.0,1217.3 C1116.7,1217.2 1117.1,1216.1 1120.7,1214.7 C1124.3,1213.3 1127.9,1211.0 1131.5,1208.8 C1135.1,1206.5 1139.0,1203.1 1142.2,1201.2 C1145.4,1199.3 1147.6,1198.2 1150.8,1197.5 C1154.0,1196.8 1158.3,1197.9 1161.5,1196.9 C1164.7,1195.9 1167.6,1195.0 1170.1,1191.6 C1172.6,1188.2 1174.3,1182.7 1176.5,1176.6 C1178.7,1170.5 1180.8,1162.6 1183.0,1155.1 C1185.2,1147.6 1187.3,1138.7 1189.4,1131.5 C1191.5,1124.3 1193.7,1117.9 1195.8,1112.2 C1197.9,1106.5 1200.1,1100.7 1202.3,1097.2 C1204.5,1093.7 1206.5,1091.9 1208.7,1091.3 C1210.9,1090.7 1213.1,1091.7 1215.2,1093.4 C1217.3,1095.1 1219.5,1097.8 1221.6,1101.5 C1223.7,1105.2 1225.8,1110.4 1228.0,1115.4 C1230.2,1120.4 1232.7,1127.2 1234.5,1131.5 C1236.3,1135.8 1236.5,1137.6 1239.0,1141.0 C1241.5,1144.4 1246.6,1148.8 1249.5,1151.9 C1252.4,1155.0 1252.4,1156.5 1256.2,1159.4 C1260.0,1162.3 1266.9,1166.5 1272.3,1169.1 C1277.7,1171.7 1283.1,1172.8 1288.5,1174.8 C1293.9,1176.8 1299.3,1178.7 1304.7,1181.2 C1310.1,1183.8 1315.4,1187.9 1320.8,1190.1 C1326.2,1192.2 1331.6,1193.1 1337.0,1194.1 C1342.4,1195.0 1347.7,1194.8 1353.1,1195.8 C1358.5,1196.8 1363.9,1199.3 1369.3,1199.8 C1374.7,1200.3 1380.1,1198.7 1385.5,1199.0 C1390.9,1199.3 1396.2,1201.0 1401.6,1201.4 C1407.0,1201.8 1413.8,1201.5 1417.8,1201.4 C1421.8,1201.3 1420.5,1200.3 1425.9,1200.6 C1431.3,1200.9 1443.4,1202.3 1450.1,1203.0 C1456.8,1203.7 1460.9,1204.0 1466.3,1204.7 C1471.7,1205.4 1478.4,1206.6 1482.4,1207.1 C1486.4,1207.6 1486.5,1207.9 1490.5,1207.6 C1494.5,1207.3 1500.2,1206.4 1506.7,1205.5 C1513.2,1204.6 1525.5,1202.8 1529.3,1202.2 L1529.3,1230 L234,1230 Z" fill="rgb(140,157,255)" fill-opacity="0.47" stroke="none"/>
<path d="M234.0,1227.1 C238.3,1227.1 249.0,1227.0 260.0,1227.0 C271.0,1227.0 286.7,1227.2 300.0,1227.3 C313.3,1227.4 326.7,1227.6 340.0,1227.8 C353.3,1228.0 371.2,1228.6 380.0,1228.6 C388.8,1228.6 387.5,1228.2 392.9,1227.6 C398.3,1227.0 406.9,1226.2 412.3,1225.0 C417.7,1223.8 421.0,1221.6 425.3,1220.5 C429.6,1219.4 433.9,1218.5 438.2,1218.6 C442.5,1218.7 446.8,1220.2 451.1,1221.2 C455.4,1222.2 458.7,1223.8 464.1,1224.4 C469.5,1225.0 476.0,1224.8 483.5,1225.0 C491.0,1225.2 502.9,1225.7 509.3,1225.7 C515.8,1225.7 515.7,1225.3 522.2,1225.0 C528.7,1224.7 539.5,1223.7 548.1,1223.7 C556.7,1223.7 566.5,1224.5 574.0,1225.0 C581.5,1225.5 585.7,1226.6 593.4,1227.0 C601.1,1227.4 606.5,1227.4 620.0,1227.6 C633.5,1227.8 656.7,1228.5 674.3,1228.4 C691.9,1228.3 713.3,1227.6 725.6,1227.0 C737.9,1226.4 741.9,1225.4 748.2,1224.6 C754.5,1223.8 754.5,1223.0 763.3,1222.4 C772.1,1221.9 787.2,1221.5 801.0,1221.3 C814.8,1221.1 833.0,1221.3 846.2,1221.3 C859.4,1221.2 872.2,1221.4 880.0,1221.0 C887.8,1220.6 888.7,1220.3 893.0,1219.0 C897.3,1217.7 902.4,1215.5 906.0,1212.9 C909.6,1210.3 911.7,1207.9 914.6,1203.4 C917.5,1198.9 921.0,1191.9 923.3,1186.1 C925.6,1180.3 926.7,1175.3 928.4,1168.8 C930.1,1162.3 931.9,1153.5 933.6,1147.2 C935.3,1140.9 936.9,1134.5 938.8,1130.8 C940.7,1127.1 942.9,1125.2 944.9,1125.1 C946.9,1124.9 949.0,1126.9 950.9,1129.9 C952.8,1132.9 954.2,1137.9 956.1,1142.9 C958.0,1148.0 959.8,1153.4 962.2,1160.2 C964.7,1167.0 967.9,1177.0 970.8,1183.5 C973.7,1190.0 976.6,1194.8 979.5,1199.1 C982.4,1203.4 985.2,1206.9 988.1,1209.5 C991.0,1212.1 993.2,1213.5 996.8,1214.7 C1000.4,1215.9 1003.9,1216.4 1009.8,1216.8 C1015.7,1217.2 1020.5,1217.2 1032.3,1217.0 C1044.1,1216.8 1067.8,1215.5 1080.8,1215.5 C1093.8,1215.5 1103.3,1217.4 1110.0,1217.3 C1116.7,1217.2 1117.1,1216.1 1120.7,1214.7 C1124.3,1213.3 1127.9,1211.0 1131.5,1208.8 C1135.1,1206.5 1139.0,1203.1 1142.2,1201.2 C1145.4,1199.3 1147.6,1198.2 1150.8,1197.5 C1154.0,1196.8 1158.3,1197.9 1161.5,1196.9 C1164.7,1195.9 1167.6,1195.0 1170.1,1191.6 C1172.6,1188.2 1174.3,1182.7 1176.5,1176.6 C1178.7,1170.5 1180.8,1162.6 1183.0,1155.1 C1185.2,1147.6 1187.3,1138.7 1189.4,1131.5 C1191.5,1124.3 1193.7,1117.9 1195.8,1112.2 C1197.9,1106.5 1200.1,1100.7 1202.3,1097.2 C1204.5,1093.7 1206.5,1091.9 1208.7,1091.3 C1210.9,1090.7 1213.1,1091.7 1215.2,1093.4 C1217.3,1095.1 1219.5,1097.8 1221.6,1101.5 C1223.7,1105.2 1225.8,1110.4 1228.0,1115.4 C1230.2,1120.4 1232.7,1127.2 1234.5,1131.5 C1236.3,1135.8 1236.5,1137.6 1239.0,1141.0 C1241.5,1144.4 1246.6,1148.8 1249.5,1151.9 C1252.4,1155.0 1252.4,1156.5 1256.2,1159.4 C1260.0,1162.3 1266.9,1166.5 1272.3,1169.1 C1277.7,1171.7 1283.1,1172.8 1288.5,1174.8 C1293.9,1176.8 1299.3,1178.7 1304.7,1181.2 C1310.1,1183.8 1315.4,1187.9 1320.8,1190.1 C1326.2,1192.2 1331.6,1193.1 1337.0,1194.1 C1342.4,1195.0 1347.7,1194.8 1353.1,1195.8 C1358.5,1196.8 1363.9,1199.3 1369.3,1199.8 C1374.7,1200.3 1380.1,1198.7 1385.5,1199.0 C1390.9,1199.3 1396.2,1201.0 1401.6,1201.4 C1407.0,1201.8 1413.8,1201.5 1417.8,1201.4 C1421.8,1201.3 1420.5,1200.3 1425.9,1200.6 C1431.3,1200.9 1443.4,1202.3 1450.1,1203.0 C1456.8,1203.7 1460.9,1204.0 1466.3,1204.7 C1471.7,1205.4 1478.4,1206.6 1482.4,1207.1 C1486.4,1207.6 1486.5,1207.9 1490.5,1207.6 C1494.5,1207.3 1500.2,1206.4 1506.7,1205.5 C1513.2,1204.6 1525.5,1202.8 1529.3,1202.2 L1529.3,1231" stroke="#0000ff" stroke-width="7.5" fill="none" stroke-linejoin="round"/></g>
<circle cx="1266.6" cy="1160.7" r="31" fill="none" stroke="#ff2000" stroke-width="6.5" stroke-dasharray="6.5 5.4"/>
<path d="M1271,1129.3 H1390" stroke="#ff2000" stroke-width="6" fill="none"/>
<path d="M1420,1129.3 Q1398,1118 1378,1106.4 Q1388,1118 1385.5,1129.3 Q1388,1141 1378,1153 Q1398,1141 1420,1129.3 Z" fill="#ff2000"/>
<g fill="#000">
<text transform="translate(550.31,78.90)" font-size="77.40">Wavenumber [cm</text>
<text transform="translate(1151.80,47.90)" font-size="53.50">-1</text>
<text transform="translate(1194.90,78.90)" font-size="77.40">]</text>
<text transform="translate(235.00,176.90) scale(1,1.0230)" font-size="61.80" text-anchor="middle">10000</text>
<text transform="translate(523.00,176.90) scale(1,1.0230)" font-size="61.80" text-anchor="middle">8333</text>
<text transform="translate(811.00,176.90) scale(1,1.0230)" font-size="61.80" text-anchor="middle">7143</text>
<text transform="translate(1099.00,176.90) scale(1,1.0230)" font-size="61.80" text-anchor="middle">6250</text>
<text transform="translate(1387.00,176.90) scale(1,1.0230)" font-size="61.80" text-anchor="middle">5556</text>
<text transform="translate(204.80,238.90) scale(1,1.0230)" font-size="61.80" text-anchor="end">100</text>
<text transform="translate(204.80,440.50) scale(1,1.0230)" font-size="61.80" text-anchor="end">80</text>
<text transform="translate(204.80,642.10) scale(1,1.0230)" font-size="61.80" text-anchor="end">60</text>
<text transform="translate(204.80,843.70) scale(1,1.0230)" font-size="61.80" text-anchor="end">40</text>
<text transform="translate(204.80,1045.30) scale(1,1.0230)" font-size="61.80" text-anchor="end">20</text>
<text transform="translate(204.80,1246.90) scale(1,1.0230)" font-size="61.80" text-anchor="end">0</text>
<text transform="translate(235.50,1307.00) scale(1,1.0230)" font-size="61.80" text-anchor="middle">1000</text>
<text transform="translate(523.50,1307.00) scale(1,1.0230)" font-size="61.80" text-anchor="middle">1200</text>
<text transform="translate(811.50,1307.00) scale(1,1.0230)" font-size="61.80" text-anchor="middle">1400</text>
<text transform="translate(1099.50,1307.00) scale(1,1.0230)" font-size="61.80" text-anchor="middle">1600</text>
<text transform="translate(1387.50,1307.00) scale(1,1.0230)" font-size="61.80" text-anchor="middle">1800</text>
<text transform="translate(601.71,1422.20)" font-size="77.70">Wavelength [nm]</text>
<text transform="translate(66.10,983.64) rotate(-90)" font-size="77.70">Transmission [%]</text>
<text transform="translate(1560.51,240.20) scale(1,1.0260)" font-size="67.15">0.0010</text>
<text transform="translate(1560.51,441.80) scale(1,1.0260)" font-size="67.15">0.0008</text>
<text transform="translate(1560.51,643.40) scale(1,1.0260)" font-size="67.15">0.0006</text>
<text transform="translate(1560.51,845.00) scale(1,1.0260)" font-size="67.15">0.0004</text>
<text transform="translate(1560.51,1046.60) scale(1,1.0260)" font-size="67.15">0.0002</text>
<text transform="translate(1560.51,1248.20) scale(1,1.0260)" font-size="67.15">0.0000</text>
<text transform="translate(778.22,1155.40) scale(1,1.0200)" font-size="76.00">N-H</text>
<text transform="translate(1026.91,1160.80)" font-size="75.70">C-H</text>
</g>
<text transform="translate(1841.00,1132.37) rotate(-90) scale(1.0000,1.0242)" font-size="82.07" fill="#ff0000">Extinction coefficient,</text>
<text transform="translate(1840.90,359.11) rotate(-90) scale(1.2360,1.0000)" font-size="81.10" fill="#ff0000" font-family="Liberation Serif,serif" font-style="italic">κ</text>
</svg></body></html>
